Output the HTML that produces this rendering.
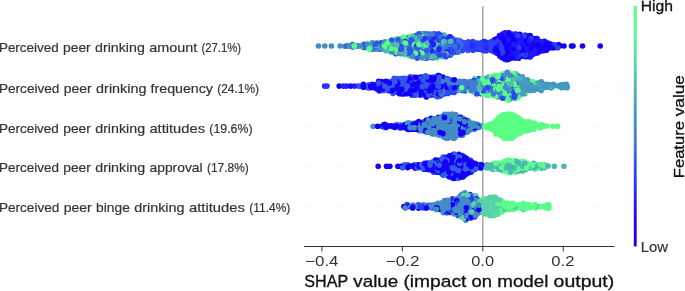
<!DOCTYPE html>
<html><head><meta charset="utf-8"><style>
html,body{margin:0;padding:0;background:#fff;width:685px;height:291px;overflow:hidden}
svg{display:block}
text{font-family:"Liberation Sans",sans-serif}
</style></head><body>
<svg width="685" height="291" viewBox="0 0 685 291">
<defs><linearGradient id="cb" x1="0" y1="0" x2="0" y2="1"><stop offset="0.000" stop-color="#5aff84"/><stop offset="0.140" stop-color="#58f596"/><stop offset="0.250" stop-color="#5ad2a7"/><stop offset="0.400" stop-color="#46a5bc"/><stop offset="0.500" stop-color="#438cc5"/><stop offset="0.600" stop-color="#3a6ede"/><stop offset="0.740" stop-color="#2837fa"/><stop offset="0.860" stop-color="#1e0aff"/><stop offset="1.000" stop-color="#1400f8"/></linearGradient></defs>
<g stroke="#cccccc" stroke-width="0.6" stroke-dasharray="0.6 3" fill="none"><line x1="304.0" x2="614.5" y1="46.05" y2="46.05"/><line x1="304.0" x2="614.5" y1="86.15" y2="86.15"/><line x1="304.0" x2="614.5" y1="126.20" y2="126.20"/><line x1="304.0" x2="614.5" y1="166.30" y2="166.30"/><line x1="304.0" x2="614.5" y1="206.40" y2="206.40"/></g>
<line x1="482.80" x2="482.80" y1="6.1" y2="246.5" stroke="#999999" stroke-width="1.3"/>
<g fill="none" stroke-width="5.6" stroke-linecap="round">
<path stroke="#1400f8" d="M511.4 56.5h0"/>
<path stroke="#5afd88" d="M540.4 206.6h0M508.6 162.0h0"/>
<path stroke="#59fb8a" d="M397.9 50.8h0"/>
<path stroke="#1400f8" d="M502.7 34.1h0"/>
<path stroke="#5aff84" d="M513.8 136.5h0M523.8 127.8h0"/>
<path stroke="#1400f8" d="M437.4 92.2h0M437.1 83.0h0"/>
<path stroke="#355ee6" d="M443.3 163.1h0"/>
<path stroke="#4fbab2" d="M487.0 80.0h0"/>
<path stroke="#1400f8" d="M525.1 44.7h0"/>
<path stroke="#2119fd" d="M534.8 47.8h0"/>
<path stroke="#2b3ff6" d="M451.6 200.5h0"/>
<path stroke="#1400f8" d="M404.6 166.4h0"/>
<path stroke="#59fb8a" d="M483.3 89.0h0"/>
<path stroke="#1400f8" d="M461.6 207.8h0"/>
<path stroke="#59fb8a" d="M508.2 93.4h0"/>
<path stroke="#438cc5" d="M448.3 124.9h0"/>
<path stroke="#1400f8" d="M455.2 167.8h0"/>
<path stroke="#59fb8a" d="M387.4 44.3h0"/>
<path stroke="#1400f8" d="M511.3 47.4h0"/>
<path stroke="#4eb7b4" d="M520.1 164.7h0"/>
<path stroke="#5aff84" d="M529.6 128.0h0"/>
<path stroke="#2b3ff6" d="M527.2 50.6h0"/>
<path stroke="#438cc5" d="M415.5 124.5h0"/>
<path stroke="#1400f8" d="M462.3 123.4h0"/>
<path stroke="#59fb8a" d="M492.1 84.5h0"/>
<path stroke="#2119fd" d="M520.0 39.9h0"/>
<path stroke="#2b3ff6" d="M479.8 48.9h0"/>
<path stroke="#2d47f2" d="M452.5 50.5h0"/>
<path stroke="#1400f8" d="M437.5 88.9h0"/>
<path stroke="#3e7dd2" d="M467.0 84.4h0M457.8 87.7h0"/>
<path stroke="#4fbab2" d="M488.3 77.1h0"/>
<path stroke="#4eb7b4" d="M523.1 170.7h0"/>
<path stroke="#438cc5" d="M391.0 126.4h0"/>
<path stroke="#1400f8" d="M431.7 83.4h0"/>
<path stroke="#438cc5" d="M431.9 133.8h0"/>
<path stroke="#3256ea" d="M405.0 50.6h0"/>
<path stroke="#1400f8" d="M467.4 213.9h0"/>
<path stroke="#438cc5" d="M478.8 127.4h0"/>
<path stroke="#1400f8" d="M447.7 138.0h0M467.9 160.4h0M423.5 122.0h0"/>
<path stroke="#4fbab2" d="M388.7 50.7h0"/>
<path stroke="#59fb8a" d="M509.9 86.3h0"/>
<path stroke="#5aff84" d="M498.8 129.4h0"/>
<path stroke="#59fb8a" d="M501.7 95.3h0"/>
<path stroke="#5aff84" d="M507.5 117.1h0"/>
<path stroke="#59fb8a" d="M480.3 84.6h0"/>
<path stroke="#438cc5" d="M463.8 203.6h0"/>
<path stroke="#5afd88" d="M548.8 205.0h0"/>
<path stroke="#438cc5" d="M384.4 127.4h0"/>
<path stroke="#1400f8" d="M546.7 49.0h0"/>
<path stroke="#59fb8a" d="M494.8 93.6h0"/>
<path stroke="#3e7dd2" d="M462.0 86.1h0"/>
<path stroke="#5afd88" d="M526.9 206.4h0"/>
<path stroke="#2d47f2" d="M438.1 41.5h0M438.3 51.9h0"/>
<path stroke="#4eb7b4" d="M510.8 165.0h0"/>
<path stroke="#2b3ff6" d="M475.4 211.2h0"/>
<path stroke="#59fb8a" d="M399.4 50.5h0"/>
<path stroke="#5aff84" d="M515.4 135.2h0"/>
<path stroke="#3256ea" d="M368.4 47.3h0"/>
<path stroke="#2119fd" d="M521.1 49.3h0"/>
<path stroke="#1400f8" d="M399.8 84.3h0"/>
<path stroke="#5afd88" d="M515.1 160.6h0"/>
<path stroke="#438cc5" d="M463.3 133.7h0"/>
<path stroke="#2320fc" d="M441.2 52.0h0"/>
<path stroke="#2b3ff6" d="M448.8 212.4h0"/>
<path stroke="#1400f8" d="M465.3 168.1h0M438.0 75.5h0M420.7 82.9h0M391.1 89.3h0M509.5 46.2h0"/>
<path stroke="#2d47f2" d="M456.0 84.4h0"/>
<path stroke="#1400f8" d="M421.0 87.5h0"/>
<path stroke="#5afd88" d="M501.4 212.3h0"/>
<path stroke="#438cc5" d="M429.6 205.1h0"/>
<path stroke="#1400f8" d="M417.3 81.8h0"/>
<path stroke="#4fbab2" d="M390.3 47.8h0"/>
<path stroke="#59fb8a" d="M363.2 47.8h0"/>
<path stroke="#5afd88" d="M520.5 161.9h0"/>
<path stroke="#5aff84" d="M502.3 132.1h0"/>
<path stroke="#5afd88" d="M520.3 169.3h0"/>
<path stroke="#2b3ff6" d="M505.9 45.8h0"/>
<path stroke="#5ad2a7" d="M490.4 204.8h0"/>
<path stroke="#3256ea" d="M420.6 84.5h0"/>
<path stroke="#438cc5" d="M453.2 210.9h0"/>
<path stroke="#355ee6" d="M449.1 173.8h0"/>
<path stroke="#2119fd" d="M527.1 43.3h0"/>
<path stroke="#5ad2a7" d="M484.5 206.3h0"/>
<path stroke="#3e7dd2" d="M447.5 85.9h0"/>
<path stroke="#438cc5" d="M476.5 210.6h0"/>
<path stroke="#1400f8" d="M420.4 90.9h0M437.4 172.2h0"/>
<path stroke="#3e7dd2" d="M486.1 84.5h0"/>
<path stroke="#3a6ede" d="M455.2 52.2h0"/>
<path stroke="#4eb7b4" d="M504.2 161.9h0"/>
<path stroke="#5aff84" d="M516.6 134.0h0"/>
<path stroke="#3256ea" d="M414.2 95.3h0"/>
<path stroke="#1400f8" d="M467.2 128.9h0"/>
<path stroke="#4eb7b4" d="M509.8 169.5h0"/>
<path stroke="#1400f8" d="M472.7 214.2h0"/>
<path stroke="#4fbab2" d="M414.4 35.8h0"/>
<path stroke="#2528fc" d="M492.5 45.9h0"/>
<path stroke="#1400f8" d="M455.1 155.9h0"/>
<path stroke="#5aff84" d="M504.2 118.9h0"/>
<path stroke="#355ee6" d="M424.5 166.3h0"/>
<path stroke="#59fb8a" d="M504.0 83.2h0"/>
<path stroke="#3256ea" d="M395.7 53.8h0"/>
<path stroke="#2119fd" d="M510.4 58.1h0"/>
<path stroke="#3256ea" d="M393.0 83.1h0"/>
<path stroke="#1400f8" d="M449.2 117.0h0"/>
<path stroke="#438cc5" d="M446.3 138.2h0"/>
<path stroke="#1400f8" d="M458.4 167.8h0M425.0 80.1h0"/>
<path stroke="#3256ea" d="M396.1 80.0h0"/>
<path stroke="#5afd88" d="M487.0 166.4h0"/>
<path stroke="#59fb8a" d="M516.8 96.9h0"/>
<path stroke="#2b3ff6" d="M444.3 205.0h0"/>
<path stroke="#4498c0" d="M520.7 89.3h0"/>
<path stroke="#438cc5" d="M371.4 44.6h0"/>
<path stroke="#4eb7b4" d="M546.3 166.0h0"/>
<path stroke="#1400f8" d="M462.8 173.9h0"/>
<path stroke="#3256ea" d="M411.1 44.7h0"/>
<path stroke="#2b3ff6" d="M478.4 47.8h0"/>
<path stroke="#1400f8" d="M409.9 84.7h0M444.8 173.5h0M429.2 78.6h0"/>
<path stroke="#2320fc" d="M436.7 43.1h0"/>
<path stroke="#3256ea" d="M358.0 86.0h0"/>
<path stroke="#3e7dd2" d="M436.3 57.8h0"/>
<path stroke="#5aff84" d="M531.8 124.8h0"/>
<path stroke="#1400f8" d="M397.6 92.1h0M507.9 40.3h0"/>
<path stroke="#5aff84" d="M497.5 130.7h0"/>
<path stroke="#2d47f2" d="M446.8 88.9h0"/>
<path stroke="#5ad2a7" d="M477.7 201.8h0"/>
<path stroke="#4eb7b4" d="M516.0 161.6h0"/>
<path stroke="#438cc5" d="M345.0 46.2h0"/>
<path stroke="#5aff84" d="M542.9 126.1h0"/>
<path stroke="#4eb7b4" d="M506.4 166.5h0"/>
<path stroke="#5aff84" d="M502.4 129.3h0"/>
<path stroke="#5afd88" d="M505.0 204.9h0"/>
<path stroke="#1400f8" d="M495.2 43.2h0"/>
<path stroke="#2b3ff6" d="M476.7 47.6h0M459.2 211.1h0"/>
<path stroke="#1400f8" d="M469.6 213.9h0"/>
<path stroke="#2320fc" d="M452.0 41.6h0"/>
<path stroke="#2b3ff6" d="M475.4 44.6h0"/>
<path stroke="#355ee6" d="M458.0 174.0h0"/>
<path stroke="#438cc5" d="M401.3 45.9h0"/>
<path stroke="#3256ea" d="M418.0 84.5h0"/>
<path stroke="#3e7dd2" d="M431.2 52.3h0"/>
<path stroke="#1400f8" d="M400.6 90.5h0M439.1 80.4h0M529.7 56.8h0"/>
<path stroke="#3256ea" d="M399.6 87.3h0"/>
<path stroke="#1400f8" d="M431.3 164.8h0"/>
<path stroke="#5aff84" d="M508.6 129.5h0"/>
<path stroke="#2d47f2" d="M479.3 87.7h0M443.1 35.3h0"/>
<path stroke="#59fb8a" d="M508.4 87.8h0"/>
<path stroke="#1400f8" d="M513.2 45.9h0"/>
<path stroke="#59fb8a" d="M419.9 40.1h0"/>
<path stroke="#355ee6" d="M433.7 172.2h0"/>
<path stroke="#2b3ff6" d="M473.5 197.2h0"/>
<path stroke="#5aff84" d="M499.3 121.7h0"/>
<path stroke="#3256ea" d="M434.3 93.4h0"/>
<path stroke="#1400f8" d="M422.2 93.7h0"/>
<path stroke="#5ad2a7" d="M484.8 213.7h0"/>
<path stroke="#438cc5" d="M418.3 56.7h0"/>
<path stroke="#2d47f2" d="M436.4 35.3h0"/>
<path stroke="#3256ea" d="M440.1 90.8h0"/>
<path stroke="#438cc5" d="M446.4 123.3h0"/>
<path stroke="#1400f8" d="M508.6 39.9h0"/>
<path stroke="#59fb8a" d="M504.8 95.4h0"/>
<path stroke="#5aff84" d="M516.7 120.3h0"/>
<path stroke="#1400f8" d="M405.8 166.3h0"/>
<path stroke="#2119fd" d="M512.7 44.3h0"/>
<path stroke="#2b3ff6" d="M524.9 49.0h0"/>
<path stroke="#4fbab2" d="M419.9 55.2h0"/>
<path stroke="#1400f8" d="M414.9 78.6h0"/>
<path stroke="#59fb8a" d="M508.4 74.0h0"/>
<path stroke="#5aff84" d="M501.7 115.5h0"/>
<path stroke="#1400f8" d="M537.7 40.0h0"/>
<path stroke="#5aff84" d="M496.1 126.0h0"/>
<path stroke="#1400f8" d="M553.8 45.9h0"/>
<path stroke="#438cc5" d="M451.7 133.5h0"/>
<path stroke="#1400f8" d="M432.6 170.7h0"/>
<path stroke="#4fbab2" d="M405.7 41.4h0"/>
<path stroke="#2d47f2" d="M439.9 42.8h0"/>
<path stroke="#1400f8" d="M474.8 166.2h0"/>
<path stroke="#59fb8a" d="M422.1 39.9h0"/>
<path stroke="#3256ea" d="M406.6 86.2h0"/>
<path stroke="#3e7dd2" d="M441.5 52.2h0"/>
<path stroke="#438cc5" d="M453.9 135.0h0"/>
<path stroke="#3256ea" d="M399.8 82.9h0"/>
<path stroke="#1400f8" d="M499.9 38.8h0M409.9 89.3h0M537.4 48.9h0"/>
<path stroke="#2d47f2" d="M510.2 83.3h0"/>
<path stroke="#59fb8a" d="M513.9 94.9h0"/>
<path stroke="#5afd88" d="M506.1 168.1h0"/>
<path stroke="#438cc5" d="M459.4 202.0h0"/>
<path stroke="#59fb8a" d="M473.0 81.4h0"/>
<path stroke="#5afd88" d="M512.0 169.1h0"/>
<path stroke="#59fb8a" d="M514.7 75.7h0"/>
<path stroke="#1400f8" d="M410.7 90.7h0"/>
<path stroke="#4eb7b4" d="M544.7 167.6h0"/>
<path stroke="#1400f8" d="M528.5 36.9h0"/>
<path stroke="#5afd88" d="M511.5 166.6h0"/>
<path stroke="#438cc5" d="M437.5 127.8h0"/>
<path stroke="#2119fd" d="M529.0 53.8h0"/>
<path stroke="#5ad2a7" d="M462.0 217.1h0"/>
<path stroke="#4498c0" d="M523.9 90.5h0"/>
<path stroke="#3256ea" d="M434.2 80.3h0M413.7 90.9h0"/>
<path stroke="#4fbab2" d="M504.2 74.1h0"/>
<path stroke="#2d47f2" d="M442.8 83.2h0"/>
<path stroke="#355ee6" d="M470.5 164.9h0"/>
<path stroke="#59fb8a" d="M482.6 81.6h0M499.0 87.6h0"/>
<path stroke="#5ad2a7" d="M460.9 200.3h0"/>
<path stroke="#3256ea" d="M388.5 44.5h0"/>
<path stroke="#438cc5" d="M467.7 208.2h0"/>
<path stroke="#4fbab2" d="M393.6 41.5h0"/>
<path stroke="#59fb8a" d="M527.3 81.3h0M477.6 80.2h0"/>
<path stroke="#5aff84" d="M506.7 125.9h0"/>
<path stroke="#438cc5" d="M440.3 203.6h0M467.4 203.3h0"/>
<path stroke="#1400f8" d="M453.6 154.2h0M432.8 90.4h0M463.6 158.8h0"/>
<path stroke="#355ee6" d="M436.3 166.4h0M441.7 160.6h0"/>
<path stroke="#2d47f2" d="M469.2 43.1h0"/>
<path stroke="#438cc5" d="M471.4 208.0h0"/>
<path stroke="#5ad2a7" d="M490.3 212.5h0"/>
<path stroke="#3256ea" d="M423.8 95.1h0"/>
<path stroke="#59fb8a" d="M498.3 86.3h0"/>
<path stroke="#438cc5" d="M446.8 127.9h0"/>
<path stroke="#5afd88" d="M537.3 167.8h0"/>
<path stroke="#4498c0" d="M549.9 84.7h0"/>
<path stroke="#1400f8" d="M464.4 175.4h0"/>
<path stroke="#2b3ff6" d="M479.6 44.7h0"/>
<path stroke="#1400f8" d="M394.0 80.0h0"/>
<path stroke="#2119fd" d="M518.4 48.9h0"/>
<path stroke="#2b3ff6" d="M460.7 195.8h0"/>
<path stroke="#5ad2a7" d="M475.0 213.8h0M491.4 197.3h0"/>
<path stroke="#3256ea" d="M364.5 47.5h0"/>
<path stroke="#5aff84" d="M501.6 127.6h0"/>
<path stroke="#3256ea" d="M365.0 86.3h0"/>
<path stroke="#1400f8" d="M529.8 49.3h0"/>
<path stroke="#438cc5" d="M425.6 208.1h0"/>
<path stroke="#1400f8" d="M396.2 87.8h0"/>
<path stroke="#5ad2a7" d="M497.5 214.2h0"/>
<path stroke="#1400f8" d="M495.0 41.3h0"/>
<path stroke="#2d47f2" d="M466.8 44.8h0"/>
<path stroke="#1400f8" d="M467.5 209.1h0"/>
<path stroke="#438cc5" d="M464.7 130.6h0"/>
<path stroke="#1400f8" d="M403.9 206.5h0M404.2 124.8h0"/>
<path stroke="#59fb8a" d="M439.3 56.5h0"/>
<path stroke="#2b3ff6" d="M490.1 44.7h0"/>
<path stroke="#438cc5" d="M466.5 210.6h0"/>
<path stroke="#1400f8" d="M380.4 89.4h0"/>
<path stroke="#2119fd" d="M508.5 50.4h0"/>
<path stroke="#5aff84" d="M514.5 130.4h0"/>
<path stroke="#3e7dd2" d="M494.7 84.8h0"/>
<path stroke="#438cc5" d="M428.3 57.8h0"/>
<path stroke="#1400f8" d="M454.6 161.5h0"/>
<path stroke="#2320fc" d="M438.6 38.4h0"/>
<path stroke="#2d47f2" d="M507.3 93.5h0"/>
<path stroke="#4eb7b4" d="M502.9 166.0h0"/>
<path stroke="#4fbab2" d="M402.7 39.9h0"/>
<path stroke="#3e7dd2" d="M430.7 47.3h0"/>
<path stroke="#438cc5" d="M474.1 129.3h0"/>
<path stroke="#5ad2a7" d="M480.6 210.9h0"/>
<path stroke="#5aff84" d="M500.3 123.0h0"/>
<path stroke="#59fb8a" d="M490.1 78.5h0"/>
<path stroke="#5afd88" d="M510.6 163.3h0"/>
<path stroke="#2b3ff6" d="M499.6 49.3h0"/>
<path stroke="#1400f8" d="M468.3 172.3h0M402.8 86.1h0"/>
<path stroke="#2b3ff6" d="M452.5 198.9h0"/>
<path stroke="#438cc5" d="M479.7 206.6h0"/>
<path stroke="#3256ea" d="M405.4 92.3h0"/>
<path stroke="#438cc5" d="M420.2 123.3h0"/>
<path stroke="#1400f8" d="M511.4 42.9h0"/>
<path stroke="#59fb8a" d="M404.8 55.0h0"/>
<path stroke="#5afd88" d="M537.4 165.1h0"/>
<path stroke="#59fb8a" d="M491.0 81.4h0"/>
<path stroke="#1400f8" d="M430.5 87.5h0"/>
<path stroke="#4fbab2" d="M485.5 86.0h0"/>
<path stroke="#438cc5" d="M427.6 51.8h0"/>
<path stroke="#3256ea" d="M425.0 90.7h0"/>
<path stroke="#1400f8" d="M410.3 125.9h0M422.2 82.9h0"/>
<path stroke="#3e7dd2" d="M444.9 81.3h0"/>
<path stroke="#2d47f2" d="M441.9 45.8h0"/>
<path stroke="#3e7dd2" d="M458.3 90.5h0"/>
<path stroke="#355ee6" d="M462.5 157.3h0"/>
<path stroke="#3256ea" d="M400.9 53.6h0"/>
<path stroke="#59fb8a" d="M367.5 43.3h0"/>
<path stroke="#3e7dd2" d="M435.2 42.9h0"/>
<path stroke="#2119fd" d="M525.0 53.6h0"/>
<path stroke="#438cc5" d="M442.7 117.2h0"/>
<path stroke="#5afd88" d="M503.9 203.1h0"/>
<path stroke="#1400f8" d="M454.9 178.3h0M525.9 47.6h0M409.4 125.0h0M379.1 90.8h0M458.4 215.4h0"/>
<path stroke="#2d47f2" d="M451.7 86.0h0"/>
<path stroke="#1400f8" d="M433.2 164.6h0"/>
<path stroke="#5aff84" d="M531.4 129.3h0"/>
<path stroke="#262ffb" d="M429.1 50.3h0"/>
<path stroke="#438cc5" d="M464.6 204.9h0"/>
<path stroke="#5ad2a7" d="M499.1 206.3h0"/>
<path stroke="#3256ea" d="M422.2 33.8h0"/>
<path stroke="#1400f8" d="M375.6 86.4h0M412.6 85.9h0"/>
<path stroke="#5afd88" d="M501.5 209.3h0"/>
<path stroke="#4eb7b4" d="M542.0 166.3h0"/>
<path stroke="#3256ea" d="M410.6 54.8h0"/>
<path stroke="#438cc5" d="M463.9 118.9h0"/>
<path stroke="#5afd88" d="M494.5 163.3h0"/>
<path stroke="#438cc5" d="M465.1 218.5h0"/>
<path stroke="#5afd88" d="M519.1 166.1h0"/>
<path stroke="#355ee6" d="M436.7 160.4h0"/>
<path stroke="#1400f8" d="M537.0 48.9h0"/>
<path stroke="#3256ea" d="M373.1 46.1h0"/>
<path stroke="#2528fc" d="M481.9 46.3h0"/>
<path stroke="#438cc5" d="M444.4 124.9h0"/>
<path stroke="#3a6ede" d="M454.1 50.7h0"/>
<path stroke="#1400f8" d="M518.4 44.7h0"/>
<path stroke="#5aff84" d="M512.7 115.7h0"/>
<path stroke="#1400f8" d="M541.8 50.7h0"/>
<path stroke="#59fb8a" d="M383.7 49.0h0M491.4 83.2h0"/>
<path stroke="#5aff84" d="M514.9 135.0h0"/>
<path stroke="#3256ea" d="M414.9 87.8h0M417.3 89.4h0"/>
<path stroke="#5ad2a7" d="M493.4 209.2h0"/>
<path stroke="#438cc5" d="M466.0 130.9h0"/>
<path stroke="#2119fd" d="M504.9 47.3h0"/>
<path stroke="#262ffb" d="M420.0 44.3h0"/>
<path stroke="#2119fd" d="M508.2 45.8h0"/>
<path stroke="#438cc5" d="M477.0 124.4h0"/>
<path stroke="#1400f8" d="M507.8 36.8h0"/>
<path stroke="#4eb7b4" d="M506.6 166.1h0"/>
<path stroke="#1400f8" d="M474.7 216.8h0M507.2 35.5h0"/>
<path stroke="#59fb8a" d="M406.3 47.5h0"/>
<path stroke="#1400f8" d="M497.0 53.3h0M396.2 89.1h0"/>
<path stroke="#4498c0" d="M542.0 83.2h0"/>
<path stroke="#3256ea" d="M399.8 51.8h0"/>
<path stroke="#438cc5" d="M507.5 89.3h0"/>
<path stroke="#1400f8" d="M524.3 41.3h0"/>
<path stroke="#59fb8a" d="M424.5 46.3h0"/>
<path stroke="#2d47f2" d="M468.3 44.5h0"/>
<path stroke="#2119fd" d="M498.0 47.8h0"/>
<path stroke="#438cc5" d="M474.4 209.3h0"/>
<path stroke="#2d47f2" d="M437.7 44.6h0"/>
<path stroke="#438cc5" d="M436.5 127.5h0"/>
<path stroke="#2d47f2" d="M438.6 33.9h0"/>
<path stroke="#1400f8" d="M544.3 41.3h0"/>
<path stroke="#438cc5" d="M435.2 124.5h0"/>
<path stroke="#1400f8" d="M446.4 166.2h0"/>
<path stroke="#3256ea" d="M439.4 84.7h0"/>
<path stroke="#1400f8" d="M428.1 164.6h0"/>
<path stroke="#438cc5" d="M422.7 44.7h0M465.7 126.3h0M459.2 127.5h0"/>
<path stroke="#262ffb" d="M403.0 52.3h0"/>
<path stroke="#2b3ff6" d="M487.2 47.6h0"/>
<path stroke="#1400f8" d="M423.1 166.5h0"/>
<path stroke="#59fb8a" d="M368.2 46.1h0"/>
<path stroke="#438cc5" d="M443.6 120.2h0"/>
<path stroke="#5aff84" d="M499.8 117.5h0"/>
<path stroke="#4498c0" d="M530.5 86.2h0"/>
<path stroke="#355ee6" d="M443.2 157.0h0"/>
<path stroke="#59fb8a" d="M492.6 81.8h0"/>
<path stroke="#2528fc" d="M487.4 49.2h0"/>
<path stroke="#3256ea" d="M426.2 40.0h0"/>
<path stroke="#1400f8" d="M520.6 35.7h0M534.0 38.6h0"/>
<path stroke="#3a6ede" d="M454.6 41.5h0"/>
<path stroke="#438cc5" d="M444.1 124.8h0"/>
<path stroke="#3256ea" d="M439.9 96.3h0"/>
<path stroke="#59fb8a" d="M486.8 95.3h0"/>
<path stroke="#4fbab2" d="M391.3 43.1h0"/>
<path stroke="#1400f8" d="M432.9 77.2h0"/>
<path stroke="#59fb8a" d="M406.3 53.6h0"/>
<path stroke="#438cc5" d="M468.9 129.2h0"/>
<path stroke="#4498c0" d="M525.7 86.0h0"/>
<path stroke="#438cc5" d="M453.4 132.1h0"/>
<path stroke="#1400f8" d="M459.2 198.9h0"/>
<path stroke="#438cc5" d="M429.3 131.0h0"/>
<path stroke="#5afd88" d="M516.6 206.5h0"/>
<path stroke="#355ee6" d="M470.3 160.0h0"/>
<path stroke="#1400f8" d="M457.7 127.8h0"/>
<path stroke="#438cc5" d="M443.7 135.2h0"/>
<path stroke="#5aff84" d="M529.0 130.5h0"/>
<path stroke="#2119fd" d="M534.5 43.3h0"/>
<path stroke="#438cc5" d="M445.3 205.1h0"/>
<path stroke="#59fb8a" d="M494.7 78.5h0"/>
<path stroke="#5ad2a7" d="M485.9 202.2h0"/>
<path stroke="#438cc5" d="M446.4 136.4h0"/>
<path stroke="#1400f8" d="M450.0 155.8h0"/>
<path stroke="#2d47f2" d="M493.9 87.6h0"/>
<path stroke="#1400f8" d="M514.6 38.6h0"/>
<path stroke="#438cc5" d="M412.4 41.5h0"/>
<path stroke="#1400f8" d="M385.2 89.0h0"/>
<path stroke="#4fbab2" d="M404.9 47.7h0"/>
<path stroke="#438cc5" d="M472.2 195.9h0M455.3 117.3h0"/>
<path stroke="#4eb7b4" d="M541.6 168.1h0"/>
<path stroke="#1400f8" d="M447.5 203.7h0"/>
<path stroke="#3e7dd2" d="M461.3 84.5h0"/>
<path stroke="#5aff84" d="M502.5 120.3h0"/>
<path stroke="#59fb8a" d="M508.3 72.6h0"/>
<path stroke="#4498c0" d="M531.1 87.4h0"/>
<path stroke="#3256ea" d="M373.7 44.5h0"/>
<path stroke="#1400f8" d="M449.8 175.0h0"/>
<path stroke="#5aff84" d="M504.3 138.4h0"/>
<path stroke="#2b3ff6" d="M451.1 203.2h0"/>
<path stroke="#1400f8" d="M397.0 81.9h0"/>
<path stroke="#438cc5" d="M462.9 120.3h0"/>
<path stroke="#3256ea" d="M426.7 41.8h0"/>
<path stroke="#438cc5" d="M453.3 138.3h0"/>
<path stroke="#1400f8" d="M472.6 163.2h0"/>
<path stroke="#355ee6" d="M456.4 177.0h0"/>
<path stroke="#1400f8" d="M477.7 164.6h0"/>
<path stroke="#5ad2a7" d="M483.5 198.9h0"/>
<path stroke="#1400f8" d="M464.3 173.7h0M424.3 93.3h0"/>
<path stroke="#5ad2a7" d="M461.9 206.2h0"/>
<path stroke="#49abb9" d="M538.4 88.9h0"/>
<path stroke="#438cc5" d="M436.3 129.1h0"/>
<path stroke="#2d47f2" d="M509.2 77.3h0"/>
<path stroke="#438cc5" d="M444.3 133.5h0"/>
<path stroke="#2119fd" d="M530.4 56.7h0"/>
<path stroke="#5afd88" d="M535.7 207.9h0"/>
<path stroke="#1400f8" d="M339.2 86.1h0"/>
<path stroke="#2528fc" d="M470.3 43.3h0"/>
<path stroke="#1400f8" d="M430.8 86.3h0"/>
<path stroke="#5afd88" d="M508.0 203.4h0"/>
<path stroke="#59fb8a" d="M512.7 83.0h0"/>
<path stroke="#4eb7b4" d="M513.2 170.7h0"/>
<path stroke="#1400f8" d="M431.7 95.0h0"/>
<path stroke="#3256ea" d="M418.0 90.8h0"/>
<path stroke="#438cc5" d="M449.7 203.3h0M448.4 114.3h0M425.4 121.7h0"/>
<path stroke="#1400f8" d="M521.0 56.3h0M453.3 163.4h0M571.5 46.0h0"/>
<path stroke="#2d47f2" d="M432.7 50.8h0"/>
<path stroke="#438cc5" d="M452.2 121.9h0"/>
<path stroke="#2733fa" d="M324.6 86.1h0"/>
<path stroke="#1400f8" d="M453.8 82.9h0"/>
<path stroke="#438cc5" d="M429.6 123.4h0"/>
<path stroke="#5afd88" d="M517.1 167.5h0"/>
<path stroke="#438cc5" d="M445.6 135.4h0"/>
<path stroke="#1400f8" d="M501.9 52.1h0"/>
<path stroke="#438cc5" d="M340.1 46.0h0"/>
<path stroke="#4eb7b4" d="M507.2 170.9h0"/>
<path stroke="#2119fd" d="M494.6 51.9h0"/>
<path stroke="#4eb7b4" d="M495.8 166.4h0"/>
<path stroke="#2d47f2" d="M517.7 94.9h0"/>
<path stroke="#5aff84" d="M512.1 129.4h0"/>
<path stroke="#59fb8a" d="M518.4 75.5h0"/>
<path stroke="#1400f8" d="M533.4 41.5h0"/>
<path stroke="#2d47f2" d="M517.3 75.8h0"/>
<path stroke="#59fb8a" d="M434.9 37.1h0M517.5 92.3h0"/>
<path stroke="#2119fd" d="M551.9 44.6h0"/>
<path stroke="#5ad2a7" d="M490.2 206.6h0"/>
<path stroke="#1400f8" d="M543.0 44.5h0"/>
<path stroke="#355ee6" d="M449.0 160.1h0"/>
<path stroke="#59fb8a" d="M543.8 86.0h0"/>
<path stroke="#4fbab2" d="M498.1 81.8h0"/>
<path stroke="#438cc5" d="M471.1 127.5h0"/>
<path stroke="#4498c0" d="M521.8 92.0h0"/>
<path stroke="#1400f8" d="M382.3 87.5h0M528.7 50.4h0"/>
<path stroke="#5afd88" d="M504.1 208.2h0"/>
<path stroke="#355ee6" d="M442.9 161.7h0"/>
<path stroke="#5aff84" d="M509.2 138.5h0"/>
<path stroke="#1400f8" d="M426.8 86.3h0"/>
<path stroke="#59fb8a" d="M530.7 90.4h0"/>
<path stroke="#438cc5" d="M460.4 209.3h0"/>
<path stroke="#2b3ff6" d="M537.0 53.3h0"/>
<path stroke="#438cc5" d="M469.2 215.5h0"/>
<path stroke="#2119fd" d="M536.4 42.9h0"/>
<path stroke="#2d47f2" d="M450.9 84.6h0"/>
<path stroke="#4fbab2" d="M473.9 83.0h0"/>
<path stroke="#438cc5" d="M462.5 118.7h0"/>
<path stroke="#59fb8a" d="M489.0 86.1h0"/>
<path stroke="#4fbab2" d="M409.0 38.8h0"/>
<path stroke="#5ad2a7" d="M525.3 204.8h0"/>
<path stroke="#2d47f2" d="M448.4 37.2h0"/>
<path stroke="#1400f8" d="M529.2 43.0h0"/>
<path stroke="#2119fd" d="M522.8 37.3h0"/>
<path stroke="#2d47f2" d="M451.6 90.4h0"/>
<path stroke="#438cc5" d="M444.6 200.5h0"/>
<path stroke="#2b3ff6" d="M484.7 43.0h0"/>
<path stroke="#5afd88" d="M494.8 203.7h0"/>
<path stroke="#5ad2a7" d="M491.5 209.3h0"/>
<path stroke="#4498c0" d="M520.7 80.0h0"/>
<path stroke="#1400f8" d="M378.2 166.3h0"/>
<path stroke="#59fb8a" d="M411.1 41.3h0"/>
<path stroke="#2119fd" d="M538.7 51.9h0"/>
<path stroke="#2b3ff6" d="M406.6 206.4h0"/>
<path stroke="#1400f8" d="M419.7 80.3h0"/>
<path stroke="#2d47f2" d="M431.3 40.0h0"/>
<path stroke="#1400f8" d="M454.4 168.0h0M476.4 167.8h0"/>
<path stroke="#2119fd" d="M531.9 39.9h0"/>
<path stroke="#2b3ff6" d="M422.8 207.8h0M452.0 202.2h0"/>
<path stroke="#2d47f2" d="M452.0 38.4h0"/>
<path stroke="#438cc5" d="M459.9 135.1h0"/>
<path stroke="#59fb8a" d="M440.9 53.7h0"/>
<path stroke="#3256ea" d="M410.9 49.1h0"/>
<path stroke="#438cc5" d="M423.6 43.1h0M457.6 120.4h0"/>
<path stroke="#2119fd" d="M543.5 50.7h0"/>
<path stroke="#5ad2a7" d="M494.1 210.9h0"/>
<path stroke="#355ee6" d="M460.1 174.1h0"/>
<path stroke="#3e7dd2" d="M474.8 84.8h0"/>
<path stroke="#59fb8a" d="M509.4 99.7h0"/>
<path stroke="#3256ea" d="M397.9 80.1h0"/>
<path stroke="#1400f8" d="M408.9 129.4h0"/>
<path stroke="#4fbab2" d="M509.5 81.8h0"/>
<path stroke="#1400f8" d="M445.9 130.7h0"/>
<path stroke="#2119fd" d="M511.1 35.6h0"/>
<path stroke="#355ee6" d="M428.6 167.7h0"/>
<path stroke="#5aff84" d="M511.9 123.0h0"/>
<path stroke="#4fbab2" d="M475.9 93.6h0"/>
<path stroke="#1400f8" d="M454.1 201.9h0"/>
<path stroke="#3256ea" d="M425.2 92.3h0"/>
<path stroke="#1400f8" d="M519.7 34.2h0M547.9 43.0h0"/>
<path stroke="#2b3ff6" d="M467.8 216.7h0"/>
<path stroke="#5afd88" d="M520.1 207.7h0"/>
<path stroke="#3256ea" d="M424.6 47.6h0"/>
<path stroke="#5aff84" d="M507.2 124.8h0"/>
<path stroke="#49abb9" d="M523.0 81.7h0"/>
<path stroke="#1400f8" d="M408.7 83.0h0"/>
<path stroke="#4fbab2" d="M490.1 82.9h0"/>
<path stroke="#262ffb" d="M416.0 56.3h0"/>
<path stroke="#1400f8" d="M531.9 55.0h0"/>
<path stroke="#5ad2a7" d="M484.8 208.1h0"/>
<path stroke="#1400f8" d="M399.2 90.5h0"/>
<path stroke="#5ad2a7" d="M465.4 212.6h0"/>
<path stroke="#5aff84" d="M488.8 127.6h0"/>
<path stroke="#1400f8" d="M462.6 127.9h0"/>
<path stroke="#5ad2a7" d="M483.4 203.3h0M482.7 209.6h0"/>
<path stroke="#5afd88" d="M548.8 208.2h0"/>
<path stroke="#59fb8a" d="M470.6 87.4h0"/>
<path stroke="#1400f8" d="M431.0 118.4h0M513.2 49.1h0"/>
<path stroke="#438cc5" d="M452.2 114.0h0M397.4 47.4h0"/>
<path stroke="#2b3ff6" d="M476.8 45.8h0M482.9 50.4h0"/>
<path stroke="#3256ea" d="M391.5 81.5h0"/>
<path stroke="#4498c0" d="M522.4 76.9h0"/>
<path stroke="#3e7dd2" d="M445.8 47.5h0"/>
<path stroke="#1400f8" d="M425.4 129.4h0"/>
<path stroke="#438cc5" d="M422.9 130.9h0"/>
<path stroke="#1400f8" d="M411.6 126.1h0"/>
<path stroke="#5afd88" d="M519.1 205.1h0"/>
<path stroke="#3256ea" d="M405.5 84.6h0"/>
<path stroke="#5aff84" d="M486.8 128.0h0M518.8 123.3h0"/>
<path stroke="#2528fc" d="M479.3 46.2h0"/>
<path stroke="#438cc5" d="M440.9 203.3h0"/>
<path stroke="#1400f8" d="M448.6 123.0h0"/>
<path stroke="#2d47f2" d="M459.0 84.4h0"/>
<path stroke="#1400f8" d="M460.8 169.1h0M445.6 87.5h0"/>
<path stroke="#3e7dd2" d="M435.1 38.8h0"/>
<path stroke="#5aff84" d="M495.9 133.9h0"/>
<path stroke="#438cc5" d="M432.0 205.2h0"/>
<path stroke="#2b3ff6" d="M549.3 45.9h0"/>
<path stroke="#1400f8" d="M524.5 38.7h0M510.4 48.8h0M406.2 126.3h0M452.3 166.2h0M448.3 165.0h0"/>
<path stroke="#3256ea" d="M422.1 76.9h0"/>
<path stroke="#3a6ede" d="M462.8 49.0h0"/>
<path stroke="#3256ea" d="M393.0 93.5h0"/>
<path stroke="#2d47f2" d="M466.9 45.9h0"/>
<path stroke="#3e7dd2" d="M493.4 77.0h0"/>
<path stroke="#1400f8" d="M506.4 34.0h0"/>
<path stroke="#438cc5" d="M458.1 208.1h0"/>
<path stroke="#5ad2a7" d="M466.3 214.0h0"/>
<path stroke="#49abb9" d="M522.9 78.8h0"/>
<path stroke="#438cc5" d="M432.1 124.7h0"/>
<path stroke="#1400f8" d="M378.1 87.6h0"/>
<path stroke="#4498c0" d="M524.8 93.8h0"/>
<path stroke="#4fbab2" d="M418.6 35.8h0"/>
<path stroke="#3256ea" d="M414.9 81.4h0"/>
<path stroke="#5afd88" d="M492.6 165.1h0"/>
<path stroke="#4eb7b4" d="M525.9 169.5h0"/>
<path stroke="#3e7dd2" d="M448.8 44.5h0"/>
<path stroke="#3256ea" d="M407.2 81.5h0"/>
<path stroke="#1400f8" d="M419.0 93.9h0"/>
<path stroke="#2320fc" d="M449.0 53.6h0"/>
<path stroke="#4eb7b4" d="M518.6 167.6h0"/>
<path stroke="#1400f8" d="M405.0 125.9h0"/>
<path stroke="#5afd88" d="M498.2 166.2h0"/>
<path stroke="#3256ea" d="M402.3 85.9h0"/>
<path stroke="#5aff84" d="M521.2 130.9h0"/>
<path stroke="#1400f8" d="M401.0 93.6h0"/>
<path stroke="#2320fc" d="M445.4 51.8h0"/>
<path stroke="#2d47f2" d="M447.8 83.1h0"/>
<path stroke="#1400f8" d="M518.6 58.3h0M471.2 212.3h0M444.3 93.8h0"/>
<path stroke="#2528fc" d="M491.7 41.5h0"/>
<path stroke="#4fbab2" d="M496.2 93.4h0M491.1 88.8h0"/>
<path stroke="#438cc5" d="M412.9 205.1h0M351.1 46.1h0"/>
<path stroke="#1400f8" d="M466.6 158.6h0"/>
<path stroke="#4fbab2" d="M516.2 83.0h0"/>
<path stroke="#59fb8a" d="M481.9 83.0h0"/>
<path stroke="#3a6ede" d="M457.1 47.4h0"/>
<path stroke="#3e7dd2" d="M467.8 89.0h0M476.7 90.7h0"/>
<path stroke="#1400f8" d="M439.8 86.0h0"/>
<path stroke="#3256ea" d="M359.5 86.2h0"/>
<path stroke="#5aff84" d="M507.8 118.6h0"/>
<path stroke="#59fb8a" d="M437.2 45.8h0"/>
<path stroke="#5aff84" d="M524.5 129.2h0"/>
<path stroke="#3256ea" d="M379.8 49.3h0"/>
<path stroke="#5afd88" d="M501.5 163.5h0"/>
<path stroke="#438cc5" d="M400.5 47.6h0"/>
<path stroke="#1400f8" d="M434.6 162.1h0"/>
<path stroke="#3256ea" d="M381.2 47.6h0"/>
<path stroke="#59fb8a" d="M510.7 93.6h0"/>
<path stroke="#1400f8" d="M548.3 46.1h0"/>
<path stroke="#4fbab2" d="M425.4 43.2h0"/>
<path stroke="#3e7dd2" d="M466.4 87.4h0"/>
<path stroke="#5ad2a7" d="M485.2 202.1h0"/>
<path stroke="#1400f8" d="M461.4 166.5h0"/>
<path stroke="#438cc5" d="M452.0 129.4h0"/>
<path stroke="#1400f8" d="M426.4 96.9h0M479.9 212.2h0M445.7 169.2h0M454.8 165.0h0"/>
<path stroke="#438cc5" d="M399.6 126.4h0"/>
<path stroke="#1400f8" d="M460.3 167.7h0M508.5 56.8h0M448.0 169.2h0M454.3 200.3h0"/>
<path stroke="#5aff84" d="M508.9 120.3h0"/>
<path stroke="#438cc5" d="M452.3 207.8h0"/>
<path stroke="#1400f8" d="M454.1 128.0h0"/>
<path stroke="#5aff84" d="M540.2 128.0h0"/>
<path stroke="#3256ea" d="M424.1 48.8h0M427.8 84.7h0"/>
<path stroke="#59fb8a" d="M405.7 52.0h0"/>
<path stroke="#1400f8" d="M401.4 82.8h0"/>
<path stroke="#2119fd" d="M501.8 38.4h0"/>
<path stroke="#3e7dd2" d="M453.5 89.2h0"/>
<path stroke="#4eb7b4" d="M535.8 166.1h0"/>
<path stroke="#59fb8a" d="M480.4 90.6h0"/>
<path stroke="#1400f8" d="M452.2 81.6h0"/>
<path stroke="#5aff84" d="M507.1 120.0h0"/>
<path stroke="#1400f8" d="M423.9 127.9h0"/>
<path stroke="#2d47f2" d="M450.0 52.2h0M450.3 55.1h0"/>
<path stroke="#59fb8a" d="M512.2 87.5h0"/>
<path stroke="#4fbab2" d="M417.0 52.2h0"/>
<path stroke="#49abb9" d="M553.2 85.8h0"/>
<path stroke="#2d47f2" d="M444.9 84.4h0"/>
<path stroke="#3e7dd2" d="M487.6 90.5h0"/>
<path stroke="#438cc5" d="M463.7 129.0h0"/>
<path stroke="#3256ea" d="M435.1 95.4h0"/>
<path stroke="#5aff84" d="M497.1 132.3h0"/>
<path stroke="#5ad2a7" d="M494.9 197.1h0"/>
<path stroke="#5aff84" d="M503.6 117.1h0"/>
<path stroke="#438cc5" d="M421.6 123.4h0"/>
<path stroke="#4fbab2" d="M508.9 91.9h0"/>
<path stroke="#59fb8a" d="M514.0 77.4h0"/>
<path stroke="#1400f8" d="M530.5 45.9h0"/>
<path stroke="#5aff84" d="M502.3 117.4h0"/>
<path stroke="#1400f8" d="M438.2 172.1h0M467.9 195.6h0M424.2 169.3h0M464.7 160.5h0M369.9 87.7h0M473.1 209.6h0"/>
<path stroke="#5aff84" d="M511.8 135.5h0"/>
<path stroke="#1400f8" d="M412.3 129.3h0"/>
<path stroke="#5aff84" d="M509.2 133.8h0"/>
<path stroke="#5ad2a7" d="M492.7 208.2h0"/>
<path stroke="#5aff84" d="M513.9 117.1h0"/>
<path stroke="#1400f8" d="M405.2 127.8h0M410.3 81.8h0"/>
<path stroke="#4eb7b4" d="M501.8 169.5h0"/>
<path stroke="#1400f8" d="M416.9 92.1h0M418.7 121.5h0"/>
<path stroke="#438cc5" d="M517.9 77.1h0"/>
<path stroke="#1400f8" d="M400.6 84.9h0"/>
<path stroke="#5ad2a7" d="M490.7 198.9h0"/>
<path stroke="#3256ea" d="M363.8 44.3h0"/>
<path stroke="#1400f8" d="M523.0 55.0h0"/>
<path stroke="#355ee6" d="M456.7 166.1h0"/>
<path stroke="#3a6ede" d="M465.2 47.7h0"/>
<path stroke="#5afd88" d="M510.3 206.2h0"/>
<path stroke="#59fb8a" d="M502.2 81.5h0"/>
<path stroke="#1400f8" d="M470.3 170.9h0"/>
<path stroke="#2d47f2" d="M432.9 40.0h0"/>
<path stroke="#5afd88" d="M515.2 172.3h0"/>
<path stroke="#59fb8a" d="M376.2 42.8h0"/>
<path stroke="#1400f8" d="M405.2 83.1h0M446.7 132.1h0M406.8 80.1h0"/>
<path stroke="#5afd88" d="M530.5 167.9h0"/>
<path stroke="#1400f8" d="M396.4 124.7h0"/>
<path stroke="#2320fc" d="M449.7 50.5h0"/>
<path stroke="#5ad2a7" d="M467.7 212.4h0"/>
<path stroke="#1400f8" d="M441.7 206.5h0"/>
<path stroke="#5ad2a7" d="M458.9 200.2h0"/>
<path stroke="#1400f8" d="M564.0 46.0h0M516.8 37.0h0"/>
<path stroke="#59fb8a" d="M494.3 80.1h0M437.1 58.1h0"/>
<path stroke="#2b3ff6" d="M479.0 49.2h0"/>
<path stroke="#5aff84" d="M535.0 127.4h0"/>
<path stroke="#1400f8" d="M524.6 50.4h0"/>
<path stroke="#438cc5" d="M461.1 212.3h0"/>
<path stroke="#1400f8" d="M418.5 208.1h0"/>
<path stroke="#3256ea" d="M415.9 41.8h0"/>
<path stroke="#1400f8" d="M499.6 39.9h0"/>
<path stroke="#59fb8a" d="M410.3 56.4h0"/>
<path stroke="#5ad2a7" d="M494.1 212.6h0"/>
<path stroke="#1400f8" d="M441.8 167.7h0"/>
<path stroke="#59fb8a" d="M496.4 84.4h0"/>
<path stroke="#3e7dd2" d="M447.6 47.7h0"/>
<path stroke="#1400f8" d="M526.1 51.9h0"/>
<path stroke="#5aff84" d="M513.3 122.0h0M498.0 118.4h0"/>
<path stroke="#1400f8" d="M435.6 169.5h0"/>
<path stroke="#2d47f2" d="M429.7 38.7h0"/>
<path stroke="#59fb8a" d="M492.4 90.7h0"/>
<path stroke="#1400f8" d="M429.3 77.4h0"/>
<path stroke="#59fb8a" d="M515.0 88.9h0"/>
<path stroke="#262ffb" d="M420.9 38.7h0"/>
<path stroke="#3e7dd2" d="M475.0 87.4h0"/>
<path stroke="#4fbab2" d="M391.1 52.1h0"/>
<path stroke="#3256ea" d="M412.6 78.8h0"/>
<path stroke="#1400f8" d="M536.9 38.6h0M536.8 46.3h0"/>
<path stroke="#2d47f2" d="M446.3 84.7h0"/>
<path stroke="#49abb9" d="M523.5 87.6h0"/>
<path stroke="#1400f8" d="M386.5 166.3h0M417.0 166.4h0"/>
<path stroke="#438cc5" d="M459.4 120.2h0"/>
<path stroke="#1400f8" d="M438.8 95.0h0"/>
<path stroke="#438cc5" d="M442.4 209.5h0"/>
<path stroke="#4fbab2" d="M423.0 38.8h0"/>
<path stroke="#5aff84" d="M497.3 129.2h0"/>
<path stroke="#59fb8a" d="M509.8 80.0h0"/>
<path stroke="#3256ea" d="M403.7 90.7h0"/>
<path stroke="#2528fc" d="M470.1 45.9h0"/>
<path stroke="#1400f8" d="M433.4 163.3h0"/>
<path stroke="#49abb9" d="M520.9 82.9h0"/>
<path stroke="#3e7dd2" d="M441.2 80.1h0M487.9 88.9h0"/>
<path stroke="#2b3ff6" d="M503.5 41.7h0"/>
<path stroke="#2119fd" d="M529.7 46.2h0"/>
<path stroke="#3e7dd2" d="M477.6 83.1h0"/>
<path stroke="#1400f8" d="M393.9 84.7h0"/>
<path stroke="#4eb7b4" d="M492.3 167.5h0"/>
<path stroke="#3e7dd2" d="M452.3 46.0h0"/>
<path stroke="#5ad2a7" d="M470.2 198.8h0"/>
<path stroke="#438cc5" d="M468.3 199.0h0"/>
<path stroke="#1400f8" d="M386.9 86.1h0"/>
<path stroke="#2b3ff6" d="M528.1 47.5h0"/>
<path stroke="#3256ea" d="M429.0 34.0h0"/>
<path stroke="#1400f8" d="M446.1 157.4h0"/>
<path stroke="#3e7dd2" d="M469.1 87.8h0"/>
<path stroke="#5aff84" d="M522.0 127.5h0"/>
<path stroke="#59fb8a" d="M420.8 34.1h0"/>
<path stroke="#1400f8" d="M527.4 46.2h0M457.0 160.5h0"/>
<path stroke="#3e7dd2" d="M463.4 83.0h0"/>
<path stroke="#438cc5" d="M462.0 194.2h0"/>
<path stroke="#1400f8" d="M527.3 39.8h0"/>
<path stroke="#262ffb" d="M406.5 50.3h0"/>
<path stroke="#5afd88" d="M532.9 166.5h0"/>
<path stroke="#3256ea" d="M422.1 89.2h0"/>
<path stroke="#438cc5" d="M434.1 120.2h0M400.4 42.8h0"/>
<path stroke="#1400f8" d="M497.0 46.0h0"/>
<path stroke="#5afd88" d="M502.7 170.8h0"/>
<path stroke="#1400f8" d="M530.6 47.6h0"/>
<path stroke="#2119fd" d="M521.3 51.9h0"/>
<path stroke="#1400f8" d="M407.4 129.1h0M549.1 44.5h0"/>
<path stroke="#438cc5" d="M453.5 136.9h0"/>
<path stroke="#2d47f2" d="M492.3 86.0h0"/>
<path stroke="#1400f8" d="M443.8 83.0h0"/>
<path stroke="#5aff84" d="M516.4 132.3h0M518.0 132.2h0"/>
<path stroke="#355ee6" d="M473.6 165.1h0"/>
<path stroke="#2119fd" d="M515.9 53.4h0"/>
<path stroke="#59fb8a" d="M501.1 96.6h0"/>
<path stroke="#438cc5" d="M500.8 77.2h0"/>
<path stroke="#5aff84" d="M506.7 123.4h0"/>
<path stroke="#438cc5" d="M461.7 197.3h0"/>
<path stroke="#5afd88" d="M516.6 208.0h0"/>
<path stroke="#2b3ff6" d="M484.1 46.1h0"/>
<path stroke="#438cc5" d="M465.8 220.2h0"/>
<path stroke="#59fb8a" d="M382.8 47.7h0"/>
<path stroke="#5aff84" d="M507.7 130.8h0"/>
<path stroke="#2d47f2" d="M520.0 93.5h0"/>
<path stroke="#59fb8a" d="M410.8 43.2h0"/>
<path stroke="#2119fd" d="M529.7 55.2h0"/>
<path stroke="#1400f8" d="M524.0 39.9h0M400.3 80.4h0"/>
<path stroke="#59fb8a" d="M388.7 49.1h0M514.9 82.9h0"/>
<path stroke="#1400f8" d="M456.9 163.3h0"/>
<path stroke="#4fbab2" d="M434.3 50.7h0"/>
<path stroke="#59fb8a" d="M499.1 96.7h0M509.0 94.9h0"/>
<path stroke="#5aff84" d="M508.7 127.9h0"/>
<path stroke="#3256ea" d="M396.7 40.0h0"/>
<path stroke="#59fb8a" d="M505.6 77.0h0"/>
<path stroke="#3256ea" d="M428.5 54.8h0"/>
<path stroke="#3e7dd2" d="M450.9 43.2h0"/>
<path stroke="#5afd88" d="M534.9 169.1h0"/>
<path stroke="#438cc5" d="M461.9 215.6h0"/>
<path stroke="#1400f8" d="M435.1 170.7h0"/>
<path stroke="#438cc5" d="M425.3 53.5h0"/>
<path stroke="#5aff84" d="M507.2 134.0h0"/>
<path stroke="#2320fc" d="M447.2 49.2h0"/>
<path stroke="#3e7dd2" d="M431.6 43.2h0"/>
<path stroke="#5aff84" d="M534.4 123.0h0"/>
<path stroke="#59fb8a" d="M427.4 46.0h0"/>
<path stroke="#1400f8" d="M444.4 121.6h0"/>
<path stroke="#355ee6" d="M454.5 172.4h0"/>
<path stroke="#438cc5" d="M474.0 126.3h0"/>
<path stroke="#59fb8a" d="M452.3 49.3h0"/>
<path stroke="#1400f8" d="M403.0 78.6h0"/>
<path stroke="#438cc5" d="M455.2 136.4h0M426.8 123.0h0"/>
<path stroke="#3e7dd2" d="M488.5 93.9h0"/>
<path stroke="#438cc5" d="M443.9 201.7h0"/>
<path stroke="#5aff84" d="M488.0 126.0h0"/>
<path stroke="#438cc5" d="M468.6 121.4h0"/>
<path stroke="#2119fd" d="M528.0 51.9h0"/>
<path stroke="#1400f8" d="M480.7 166.5h0"/>
<path stroke="#2b3ff6" d="M522.5 42.9h0"/>
<path stroke="#1400f8" d="M519.1 53.4h0"/>
<path stroke="#2b3ff6" d="M522.2 47.5h0"/>
<path stroke="#2528fc" d="M488.5 42.8h0"/>
<path stroke="#59fb8a" d="M519.9 85.8h0"/>
<path stroke="#438cc5" d="M421.6 126.1h0"/>
<path stroke="#3256ea" d="M433.5 84.9h0"/>
<path stroke="#438cc5" d="M465.5 216.7h0"/>
<path stroke="#3256ea" d="M422.5 41.3h0"/>
<path stroke="#438cc5" d="M459.1 204.9h0"/>
<path stroke="#59fb8a" d="M507.7 74.3h0M498.1 88.8h0"/>
<path stroke="#1400f8" d="M474.3 197.4h0"/>
<path stroke="#3e7dd2" d="M444.9 37.3h0"/>
<path stroke="#2119fd" d="M541.4 44.8h0"/>
<path stroke="#1400f8" d="M420.0 94.9h0M435.9 85.9h0"/>
<path stroke="#5aff84" d="M508.9 121.8h0"/>
<path stroke="#2d47f2" d="M448.2 90.3h0M456.1 41.5h0"/>
<path stroke="#3256ea" d="M413.0 47.5h0M427.0 44.8h0"/>
<path stroke="#1400f8" d="M417.7 164.7h0"/>
<path stroke="#59fb8a" d="M538.1 86.2h0"/>
<path stroke="#5aff84" d="M497.9 127.5h0"/>
<path stroke="#355ee6" d="M481.0 166.5h0M442.9 158.9h0"/>
<path stroke="#4498c0" d="M531.8 81.9h0"/>
<path stroke="#3e7dd2" d="M431.3 42.8h0"/>
<path stroke="#355ee6" d="M404.5 164.9h0"/>
<path stroke="#438cc5" d="M377.6 44.7h0"/>
<path stroke="#5aff84" d="M530.3 123.3h0"/>
<path stroke="#438cc5" d="M453.7 124.7h0"/>
<path stroke="#59fb8a" d="M393.9 44.3h0"/>
<path stroke="#1400f8" d="M520.9 41.7h0"/>
<path stroke="#59fb8a" d="M469.5 84.7h0"/>
<path stroke="#438cc5" d="M462.5 135.2h0M507.9 75.5h0M446.7 136.6h0"/>
<path stroke="#2d47f2" d="M442.6 49.3h0"/>
<path stroke="#5ad2a7" d="M479.2 200.5h0"/>
<path stroke="#2320fc" d="M450.0 36.8h0"/>
<path stroke="#438cc5" d="M410.8 46.0h0M469.6 209.4h0"/>
<path stroke="#59fb8a" d="M410.1 50.7h0M477.7 87.7h0"/>
<path stroke="#4fbab2" d="M502.2 80.1h0"/>
<path stroke="#1400f8" d="M496.6 38.8h0"/>
<path stroke="#2b3ff6" d="M466.1 197.2h0"/>
<path stroke="#5afd88" d="M537.5 167.9h0"/>
<path stroke="#5aff84" d="M503.6 126.3h0"/>
<path stroke="#1400f8" d="M444.0 90.5h0"/>
<path stroke="#59fb8a" d="M513.7 81.6h0"/>
<path stroke="#438cc5" d="M445.6 115.7h0"/>
<path stroke="#2d47f2" d="M442.3 44.5h0"/>
<path stroke="#355ee6" d="M407.7 164.7h0"/>
<path stroke="#3e7dd2" d="M462.5 90.6h0"/>
<path stroke="#59fb8a" d="M516.0 81.9h0"/>
<path stroke="#3256ea" d="M404.4 49.2h0"/>
<path stroke="#4eb7b4" d="M502.4 164.6h0"/>
<path stroke="#1400f8" d="M467.1 218.2h0"/>
<path stroke="#2d47f2" d="M460.0 47.7h0"/>
<path stroke="#3256ea" d="M416.8 35.3h0"/>
<path stroke="#2b3ff6" d="M542.8 43.0h0"/>
<path stroke="#3256ea" d="M426.5 89.4h0M428.2 41.7h0"/>
<path stroke="#1400f8" d="M512.6 52.2h0"/>
<path stroke="#5aff84" d="M510.0 119.0h0"/>
<path stroke="#1400f8" d="M530.1 35.8h0"/>
<path stroke="#2119fd" d="M520.6 37.2h0"/>
<path stroke="#2b3ff6" d="M435.3 207.6h0"/>
<path stroke="#3e7dd2" d="M458.4 83.2h0"/>
<path stroke="#4498c0" d="M520.2 95.0h0"/>
<path stroke="#1400f8" d="M419.7 77.3h0"/>
<path stroke="#438cc5" d="M451.2 123.1h0"/>
<path stroke="#5aff84" d="M537.8 126.1h0"/>
<path stroke="#1400f8" d="M457.4 175.5h0"/>
<path stroke="#2528fc" d="M488.4 44.6h0"/>
<path stroke="#1400f8" d="M518.6 35.4h0"/>
<path stroke="#4498c0" d="M521.2 84.5h0"/>
<path stroke="#59fb8a" d="M496.2 95.3h0"/>
<path stroke="#3256ea" d="M415.9 89.3h0M392.4 87.3h0"/>
<path stroke="#2b3ff6" d="M456.9 206.1h0"/>
<path stroke="#4498c0" d="M544.9 84.5h0"/>
<path stroke="#2119fd" d="M509.7 47.8h0"/>
<path stroke="#1400f8" d="M410.4 78.8h0M497.4 44.5h0"/>
<path stroke="#438cc5" d="M449.6 132.0h0M478.7 125.0h0"/>
<path stroke="#5ad2a7" d="M494.9 206.5h0"/>
<path stroke="#355ee6" d="M449.7 157.1h0"/>
<path stroke="#5afd88" d="M546.9 204.7h0"/>
<path stroke="#438cc5" d="M481.0 126.1h0"/>
<path stroke="#4fbab2" d="M444.4 35.3h0"/>
<path stroke="#4498c0" d="M524.6 92.3h0"/>
<path stroke="#49abb9" d="M528.9 83.1h0"/>
<path stroke="#1400f8" d="M448.8 161.7h0"/>
<path stroke="#438cc5" d="M437.0 206.5h0"/>
<path stroke="#4eb7b4" d="M490.7 167.6h0"/>
<path stroke="#59fb8a" d="M501.6 87.4h0"/>
<path stroke="#438cc5" d="M464.1 204.8h0"/>
<path stroke="#4eb7b4" d="M544.8 165.1h0"/>
<path stroke="#3e7dd2" d="M442.1 89.0h0"/>
<path stroke="#4498c0" d="M534.1 87.4h0"/>
<path stroke="#1400f8" d="M536.6 51.8h0"/>
<path stroke="#4eb7b4" d="M533.7 163.2h0"/>
<path stroke="#1400f8" d="M452.0 173.9h0"/>
<path stroke="#4498c0" d="M525.1 84.3h0"/>
<path stroke="#3256ea" d="M434.9 83.0h0"/>
<path stroke="#1400f8" d="M420.1 165.0h0"/>
<path stroke="#2119fd" d="M515.3 35.7h0"/>
<path stroke="#3256ea" d="M437.4 96.7h0"/>
<path stroke="#5aff84" d="M526.4 121.7h0"/>
<path stroke="#4eb7b4" d="M529.3 167.7h0"/>
<path stroke="#438cc5" d="M518.5 90.6h0"/>
<path stroke="#59fb8a" d="M417.1 54.9h0"/>
<path stroke="#5aff84" d="M517.5 121.7h0"/>
<path stroke="#438cc5" d="M400.3 124.9h0"/>
<path stroke="#1400f8" d="M423.5 92.4h0M457.0 159.1h0"/>
<path stroke="#3256ea" d="M400.0 46.3h0"/>
<path stroke="#5aff84" d="M520.0 120.0h0"/>
<path stroke="#3256ea" d="M439.9 89.3h0"/>
<path stroke="#2d47f2" d="M505.0 81.8h0"/>
<path stroke="#59fb8a" d="M477.4 92.0h0M503.6 96.7h0"/>
<path stroke="#4eb7b4" d="M515.5 166.2h0"/>
<path stroke="#5aff84" d="M503.8 121.7h0"/>
<path stroke="#3256ea" d="M433.3 93.5h0"/>
<path stroke="#5aff84" d="M504.8 135.5h0"/>
<path stroke="#355ee6" d="M447.9 166.4h0"/>
<path stroke="#4fbab2" d="M385.8 50.7h0"/>
<path stroke="#1400f8" d="M419.8 93.4h0"/>
<path stroke="#4fbab2" d="M417.4 36.8h0"/>
<path stroke="#5afd88" d="M509.1 204.7h0"/>
<path stroke="#5aff84" d="M503.5 123.1h0"/>
<path stroke="#4eb7b4" d="M517.2 170.7h0"/>
<path stroke="#438cc5" d="M441.0 133.4h0"/>
<path stroke="#2d47f2" d="M440.9 41.3h0"/>
<path stroke="#59fb8a" d="M421.9 49.1h0"/>
<path stroke="#2119fd" d="M540.0 47.8h0"/>
<path stroke="#2b3ff6" d="M472.0 217.1h0"/>
<path stroke="#438cc5" d="M458.2 129.0h0"/>
<path stroke="#1400f8" d="M457.8 130.8h0M435.6 89.0h0"/>
<path stroke="#438cc5" d="M498.6 90.4h0M454.2 128.9h0M450.7 122.0h0M372.6 47.4h0"/>
<path stroke="#5aff84" d="M508.5 126.3h0"/>
<path stroke="#1400f8" d="M436.9 77.4h0M437.8 129.0h0"/>
<path stroke="#5afd88" d="M505.7 203.7h0"/>
<path stroke="#438cc5" d="M357.0 46.1h0"/>
<path stroke="#4498c0" d="M523.4 79.9h0"/>
<path stroke="#355ee6" d="M451.7 161.5h0"/>
<path stroke="#438cc5" d="M357.8 45.8h0"/>
<path stroke="#3256ea" d="M412.8 50.3h0"/>
<path stroke="#438cc5" d="M324.8 46.0h0"/>
<path stroke="#1400f8" d="M445.7 163.6h0"/>
<path stroke="#4fbab2" d="M362.4 45.9h0"/>
<path stroke="#1400f8" d="M384.8 87.9h0"/>
<path stroke="#2528fc" d="M486.0 50.7h0"/>
<path stroke="#1400f8" d="M540.0 49.1h0"/>
<path stroke="#438cc5" d="M469.0 127.5h0"/>
<path stroke="#3256ea" d="M432.3 89.2h0"/>
<path stroke="#59fb8a" d="M487.5 86.3h0"/>
<path stroke="#438cc5" d="M470.2 123.4h0M416.6 43.0h0M412.6 123.4h0"/>
<path stroke="#3256ea" d="M430.3 81.4h0"/>
<path stroke="#5ad2a7" d="M494.0 215.4h0"/>
<path stroke="#3e7dd2" d="M432.5 58.0h0"/>
<path stroke="#5aff84" d="M516.5 118.9h0"/>
<path stroke="#59fb8a" d="M511.9 90.4h0"/>
<path stroke="#438cc5" d="M470.7 218.2h0"/>
<path stroke="#3256ea" d="M425.9 33.8h0"/>
<path stroke="#59fb8a" d="M420.4 43.1h0"/>
<path stroke="#5ad2a7" d="M482.6 200.7h0"/>
<path stroke="#1400f8" d="M409.7 87.5h0"/>
<path stroke="#4eb7b4" d="M522.4 169.3h0"/>
<path stroke="#59fb8a" d="M475.0 78.4h0"/>
<path stroke="#355ee6" d="M475.6 167.6h0"/>
<path stroke="#2119fd" d="M542.2 48.8h0"/>
<path stroke="#1400f8" d="M462.4 170.9h0"/>
<path stroke="#5aff84" d="M508.1 116.0h0"/>
<path stroke="#438cc5" d="M383.4 43.3h0"/>
<path stroke="#1400f8" d="M458.6 169.5h0"/>
<path stroke="#4fbab2" d="M493.5 87.4h0"/>
<path stroke="#3256ea" d="M387.5 90.5h0"/>
<path stroke="#1400f8" d="M433.5 91.9h0"/>
<path stroke="#2d47f2" d="M441.5 55.3h0"/>
<path stroke="#1400f8" d="M420.4 124.7h0M415.0 83.1h0"/>
<path stroke="#59fb8a" d="M457.9 89.2h0"/>
<path stroke="#438cc5" d="M449.4 118.7h0"/>
<path stroke="#5ad2a7" d="M470.8 207.8h0"/>
<path stroke="#1400f8" d="M544.2 46.0h0M499.5 55.2h0M397.8 86.2h0"/>
<path stroke="#3256ea" d="M393.8 45.9h0"/>
<path stroke="#1400f8" d="M437.5 123.4h0"/>
<path stroke="#438cc5" d="M439.3 130.5h0"/>
<path stroke="#4eb7b4" d="M511.7 165.0h0"/>
<path stroke="#1400f8" d="M477.7 126.3h0"/>
<path stroke="#3256ea" d="M388.7 81.5h0M415.1 50.4h0"/>
<path stroke="#2d47f2" d="M453.5 85.9h0"/>
<path stroke="#438cc5" d="M448.5 121.8h0"/>
<path stroke="#1400f8" d="M431.6 81.9h0"/>
<path stroke="#438cc5" d="M370.6 47.3h0"/>
<path stroke="#3256ea" d="M392.8 47.7h0"/>
<path stroke="#1400f8" d="M420.9 128.0h0M426.5 120.0h0"/>
<path stroke="#4fbab2" d="M445.3 42.9h0"/>
<path stroke="#438cc5" d="M519.2 80.1h0"/>
<path stroke="#59fb8a" d="M501.6 89.3h0"/>
<path stroke="#5aff84" d="M501.6 130.8h0"/>
<path stroke="#1400f8" d="M537.5 41.8h0"/>
<path stroke="#438cc5" d="M433.7 127.8h0"/>
<path stroke="#4fbab2" d="M422.3 46.0h0"/>
<path stroke="#2b3ff6" d="M464.7 198.9h0"/>
<path stroke="#438cc5" d="M518.4 89.3h0"/>
<path stroke="#2d47f2" d="M518.2 78.7h0"/>
<path stroke="#3256ea" d="M393.3 90.6h0"/>
<path stroke="#438cc5" d="M457.6 124.5h0"/>
<path stroke="#59fb8a" d="M502.6 74.1h0"/>
<path stroke="#438cc5" d="M396.6 124.6h0"/>
<path stroke="#3e7dd2" d="M486.6 84.5h0"/>
<path stroke="#1400f8" d="M443.1 169.1h0"/>
<path stroke="#4eb7b4" d="M515.8 163.0h0"/>
<path stroke="#59fb8a" d="M406.9 40.1h0"/>
<path stroke="#5aff84" d="M519.3 127.9h0"/>
<path stroke="#1400f8" d="M458.0 118.7h0"/>
<path stroke="#2119fd" d="M523.8 56.3h0"/>
<path stroke="#1400f8" d="M382.8 85.9h0"/>
<path stroke="#3256ea" d="M427.6 81.7h0"/>
<path stroke="#1400f8" d="M426.1 95.0h0"/>
<path stroke="#59fb8a" d="M492.5 91.9h0"/>
<path stroke="#3256ea" d="M406.8 38.6h0"/>
<path stroke="#5aff84" d="M491.6 129.3h0"/>
<path stroke="#438cc5" d="M460.3 215.7h0M459.2 212.2h0"/>
<path stroke="#2119fd" d="M510.7 53.7h0"/>
<path stroke="#3e7dd2" d="M437.5 53.5h0"/>
<path stroke="#355ee6" d="M470.9 169.5h0"/>
<path stroke="#3e7dd2" d="M435.5 49.1h0"/>
<path stroke="#2d47f2" d="M456.2 40.2h0"/>
<path stroke="#438cc5" d="M457.4 133.6h0"/>
<path stroke="#1400f8" d="M371.9 84.4h0M438.9 161.6h0"/>
<path stroke="#438cc5" d="M455.3 122.9h0"/>
<path stroke="#3e7dd2" d="M431.7 51.9h0"/>
<path stroke="#5aff84" d="M499.3 130.8h0"/>
<path stroke="#5ad2a7" d="M537.1 206.2h0"/>
<path stroke="#438cc5" d="M469.0 204.9h0"/>
<path stroke="#5aff84" d="M533.9 129.1h0"/>
<path stroke="#355ee6" d="M432.2 169.6h0"/>
<path stroke="#2320fc" d="M346.5 86.1h0"/>
<path stroke="#1400f8" d="M408.3 166.6h0M413.7 126.5h0"/>
<path stroke="#5ad2a7" d="M497.4 203.6h0"/>
<path stroke="#1400f8" d="M511.2 38.7h0"/>
<path stroke="#438cc5" d="M396.5 41.6h0M517.7 77.3h0"/>
<path stroke="#3256ea" d="M397.7 78.6h0"/>
<path stroke="#5ad2a7" d="M482.9 203.5h0"/>
<path stroke="#3e7dd2" d="M462.2 82.8h0"/>
<path stroke="#3256ea" d="M413.9 40.0h0"/>
<path stroke="#5aff84" d="M501.9 123.1h0M515.1 129.5h0"/>
<path stroke="#2119fd" d="M506.7 49.0h0"/>
<path stroke="#1400f8" d="M413.6 81.5h0"/>
<path stroke="#3a6ede" d="M465.4 49.0h0"/>
<path stroke="#49abb9" d="M524.9 83.4h0"/>
<path stroke="#1400f8" d="M459.3 176.8h0"/>
<path stroke="#3e7dd2" d="M445.7 50.8h0"/>
<path stroke="#1400f8" d="M435.0 84.5h0"/>
<path stroke="#2119fd" d="M538.6 43.3h0"/>
<path stroke="#4498c0" d="M528.9 84.6h0"/>
<path stroke="#5ad2a7" d="M463.9 197.4h0"/>
<path stroke="#438cc5" d="M419.0 127.6h0"/>
<path stroke="#2119fd" d="M558.6 44.5h0"/>
<path stroke="#5afd88" d="M506.6 209.2h0M523.4 203.4h0"/>
<path stroke="#2b3ff6" d="M468.2 204.8h0"/>
<path stroke="#2119fd" d="M505.4 35.7h0"/>
<path stroke="#1400f8" d="M398.4 92.2h0M428.1 92.2h0"/>
<path stroke="#2b3ff6" d="M512.1 34.1h0"/>
<path stroke="#2d47f2" d="M512.0 78.5h0"/>
<path stroke="#3256ea" d="M412.0 95.3h0"/>
<path stroke="#438cc5" d="M444.1 126.2h0"/>
<path stroke="#2b3ff6" d="M490.5 50.5h0"/>
<path stroke="#4eb7b4" d="M512.7 163.3h0"/>
<path stroke="#4498c0" d="M561.0 84.9h0"/>
<path stroke="#5aff84" d="M517.5 117.3h0M506.7 114.2h0"/>
<path stroke="#1400f8" d="M495.8 44.8h0M406.2 124.5h0M446.3 92.0h0"/>
<path stroke="#59fb8a" d="M499.8 75.5h0"/>
<path stroke="#1400f8" d="M443.8 115.6h0"/>
<path stroke="#3256ea" d="M425.0 36.9h0"/>
<path stroke="#438cc5" d="M446.1 132.4h0"/>
<path stroke="#1400f8" d="M460.6 130.5h0"/>
<path stroke="#2b3ff6" d="M407.0 204.6h0"/>
<path stroke="#438cc5" d="M418.6 124.7h0M431.0 129.1h0"/>
<path stroke="#4498c0" d="M564.4 84.5h0"/>
<path stroke="#5afd88" d="M505.4 207.9h0"/>
<path stroke="#1400f8" d="M445.0 172.5h0M546.8 48.9h0"/>
<path stroke="#59fb8a" d="M511.1 95.3h0"/>
<path stroke="#438cc5" d="M440.3 208.1h0M430.7 121.8h0"/>
<path stroke="#5aff84" d="M507.1 129.2h0"/>
<path stroke="#1400f8" d="M532.9 52.0h0M501.1 50.5h0"/>
<path stroke="#2d47f2" d="M456.1 51.8h0"/>
<path stroke="#438cc5" d="M452.1 123.5h0"/>
<path stroke="#3256ea" d="M426.6 87.4h0"/>
<path stroke="#1400f8" d="M499.3 45.8h0"/>
<path stroke="#5afd88" d="M500.7 208.1h0"/>
<path stroke="#3256ea" d="M397.0 90.6h0"/>
<path stroke="#438cc5" d="M440.5 121.6h0"/>
<path stroke="#355ee6" d="M452.8 161.6h0"/>
<path stroke="#2d47f2" d="M445.7 53.8h0"/>
<path stroke="#1400f8" d="M397.9 166.3h0"/>
<path stroke="#5afd88" d="M517.5 206.5h0"/>
<path stroke="#1400f8" d="M429.0 121.4h0"/>
<path stroke="#355ee6" d="M445.6 172.2h0"/>
<path stroke="#438cc5" d="M437.7 204.9h0"/>
<path stroke="#4fbab2" d="M507.1 92.3h0"/>
<path stroke="#5aff84" d="M496.5 123.5h0"/>
<path stroke="#438cc5" d="M440.5 124.7h0"/>
<path stroke="#2b3ff6" d="M430.8 207.6h0"/>
<path stroke="#3256ea" d="M414.2 46.2h0"/>
<path stroke="#5aff84" d="M506.9 132.3h0"/>
<path stroke="#1400f8" d="M502.7 57.9h0"/>
<path stroke="#5aff84" d="M506.2 135.3h0"/>
<path stroke="#5ad2a7" d="M494.0 198.9h0"/>
<path stroke="#1400f8" d="M410.2 93.8h0"/>
<path stroke="#59fb8a" d="M504.0 92.1h0"/>
<path stroke="#1400f8" d="M423.0 84.7h0"/>
<path stroke="#4eb7b4" d="M493.0 169.4h0"/>
<path stroke="#3e7dd2" d="M459.1 85.8h0"/>
<path stroke="#1400f8" d="M508.2 53.3h0"/>
<path stroke="#2d47f2" d="M438.5 49.0h0"/>
<path stroke="#355ee6" d="M458.3 155.5h0"/>
<path stroke="#5ad2a7" d="M497.0 206.2h0"/>
<path stroke="#2b3ff6" d="M473.9 202.1h0"/>
<path stroke="#5aff84" d="M523.1 130.7h0"/>
<path stroke="#59fb8a" d="M391.0 46.1h0"/>
<path stroke="#3e7dd2" d="M435.0 40.0h0"/>
<path stroke="#1400f8" d="M382.1 90.5h0"/>
<path stroke="#4eb7b4" d="M532.9 164.9h0"/>
<path stroke="#1400f8" d="M389.9 166.3h0"/>
<path stroke="#2b3ff6" d="M472.7 215.7h0"/>
<path stroke="#3e7dd2" d="M443.3 47.6h0"/>
<path stroke="#355ee6" d="M439.4 166.3h0"/>
<path stroke="#5aff84" d="M500.2 118.5h0"/>
<path stroke="#1400f8" d="M447.3 200.5h0"/>
<path stroke="#59fb8a" d="M418.1 49.2h0"/>
<path stroke="#2d47f2" d="M443.4 86.4h0"/>
<path stroke="#2119fd" d="M530.0 44.5h0"/>
<path stroke="#355ee6" d="M458.6 178.2h0"/>
<path stroke="#5afd88" d="M502.6 167.6h0"/>
<path stroke="#2b3ff6" d="M483.5 41.5h0"/>
<path stroke="#2119fd" d="M501.4 40.0h0"/>
<path stroke="#4498c0" d="M531.6 83.2h0"/>
<path stroke="#438cc5" d="M435.3 132.1h0"/>
<path stroke="#4fbab2" d="M444.9 44.4h0"/>
<path stroke="#5afd88" d="M520.3 206.7h0"/>
<path stroke="#438cc5" d="M459.1 123.0h0"/>
<path stroke="#1400f8" d="M516.4 44.6h0"/>
<path stroke="#4eb7b4" d="M499.9 164.6h0"/>
<path stroke="#1400f8" d="M413.1 77.3h0"/>
<path stroke="#5aff84" d="M525.3 124.8h0"/>
<path stroke="#1400f8" d="M413.7 93.5h0"/>
<path stroke="#5aff84" d="M509.4 130.4h0"/>
<path stroke="#5ad2a7" d="M496.1 204.6h0"/>
<path stroke="#2d47f2" d="M466.5 89.2h0"/>
<path stroke="#1400f8" d="M441.8 166.5h0M448.1 81.3h0"/>
<path stroke="#5aff84" d="M494.4 129.1h0"/>
<path stroke="#438cc5" d="M463.1 214.0h0"/>
<path stroke="#2b3ff6" d="M500.2 51.9h0"/>
<path stroke="#3256ea" d="M379.5 46.3h0"/>
<path stroke="#1400f8" d="M437.3 167.7h0"/>
<path stroke="#355ee6" d="M452.0 172.4h0"/>
<path stroke="#59fb8a" d="M516.1 84.4h0"/>
<path stroke="#438cc5" d="M451.9 206.7h0"/>
<path stroke="#2d47f2" d="M430.4 53.3h0"/>
<path stroke="#3e7dd2" d="M430.3 41.4h0"/>
<path stroke="#4fbab2" d="M470.6 86.1h0"/>
<path stroke="#438cc5" d="M409.1 123.1h0"/>
<path stroke="#1400f8" d="M525.5 35.3h0M503.3 55.2h0M378.6 81.3h0"/>
<path stroke="#4fbab2" d="M508.0 98.0h0"/>
<path stroke="#438cc5" d="M470.4 129.4h0M442.3 121.9h0M441.4 123.0h0"/>
<path stroke="#2b3ff6" d="M530.4 37.2h0"/>
<path stroke="#5aff84" d="M516.2 130.9h0"/>
<path stroke="#4fbab2" d="M438.2 50.4h0"/>
<path stroke="#438cc5" d="M416.8 127.9h0"/>
<path stroke="#59fb8a" d="M493.9 95.3h0"/>
<path stroke="#5aff84" d="M523.0 123.0h0"/>
<path stroke="#355ee6" d="M480.6 164.5h0"/>
<path stroke="#438cc5" d="M461.7 130.9h0"/>
<path stroke="#4fbab2" d="M423.1 35.3h0M505.0 79.9h0"/>
<path stroke="#59fb8a" d="M494.5 75.4h0"/>
<path stroke="#1400f8" d="M403.1 93.9h0"/>
<path stroke="#438cc5" d="M456.9 203.7h0"/>
<path stroke="#3a6ede" d="M467.9 50.4h0"/>
<path stroke="#3256ea" d="M410.2 76.9h0"/>
<path stroke="#1400f8" d="M387.7 82.9h0"/>
<path stroke="#2119fd" d="M515.9 40.3h0"/>
<path stroke="#1400f8" d="M381.9 126.2h0M403.5 91.8h0"/>
<path stroke="#438cc5" d="M434.1 126.0h0"/>
<path stroke="#3256ea" d="M422.7 55.2h0"/>
<path stroke="#5ad2a7" d="M497.0 209.4h0"/>
<path stroke="#1400f8" d="M526.7 44.3h0"/>
<path stroke="#3256ea" d="M425.6 75.7h0"/>
<path stroke="#59fb8a" d="M388.9 41.6h0"/>
<path stroke="#3e7dd2" d="M489.9 84.3h0"/>
<path stroke="#2119fd" d="M533.4 44.7h0"/>
<path stroke="#59fb8a" d="M525.2 92.0h0"/>
<path stroke="#3256ea" d="M438.4 95.2h0"/>
<path stroke="#5aff84" d="M531.7 126.0h0"/>
<path stroke="#4fbab2" d="M498.7 81.8h0"/>
<path stroke="#1400f8" d="M527.5 38.7h0"/>
<path stroke="#3256ea" d="M379.8 86.1h0"/>
<path stroke="#59fb8a" d="M479.7 81.8h0"/>
<path stroke="#355ee6" d="M461.7 171.0h0"/>
<path stroke="#5aff84" d="M524.2 126.4h0"/>
<path stroke="#5afd88" d="M496.8 169.0h0"/>
<path stroke="#59fb8a" d="M513.7 87.9h0"/>
<path stroke="#3256ea" d="M425.8 76.9h0M416.8 92.1h0"/>
<path stroke="#5ad2a7" d="M497.4 211.0h0"/>
<path stroke="#4eb7b4" d="M489.5 167.7h0"/>
<path stroke="#2d47f2" d="M446.0 46.3h0"/>
<path stroke="#1400f8" d="M522.2 55.2h0"/>
<path stroke="#3256ea" d="M420.6 53.4h0"/>
<path stroke="#5ad2a7" d="M487.4 209.6h0"/>
<path stroke="#1400f8" d="M519.7 56.5h0"/>
<path stroke="#4fbab2" d="M406.9 45.8h0"/>
<path stroke="#438cc5" d="M444.4 118.4h0"/>
<path stroke="#1400f8" d="M433.7 87.5h0"/>
<path stroke="#355ee6" d="M456.3 170.5h0"/>
<path stroke="#3256ea" d="M434.7 92.1h0"/>
<path stroke="#59fb8a" d="M484.7 92.1h0"/>
<path stroke="#1400f8" d="M494.4 47.8h0M477.7 206.3h0"/>
<path stroke="#438cc5" d="M421.6 56.8h0"/>
<path stroke="#2119fd" d="M536.3 44.7h0"/>
<path stroke="#2d47f2" d="M430.6 35.3h0"/>
<path stroke="#2119fd" d="M500.2 56.6h0"/>
<path stroke="#438cc5" d="M448.3 135.3h0"/>
<path stroke="#59fb8a" d="M418.9 50.4h0"/>
<path stroke="#5aff84" d="M501.7 124.5h0M516.2 129.4h0"/>
<path stroke="#1400f8" d="M514.4 39.8h0"/>
<path stroke="#2b3ff6" d="M477.8 44.5h0"/>
<path stroke="#5afd88" d="M531.7 206.4h0"/>
<path stroke="#2b3ff6" d="M517.4 38.3h0"/>
<path stroke="#438cc5" d="M457.2 135.2h0"/>
<path stroke="#1400f8" d="M381.5 81.5h0M407.7 167.6h0"/>
<path stroke="#4fbab2" d="M496.1 77.3h0"/>
<path stroke="#2d47f2" d="M448.2 40.2h0"/>
<path stroke="#355ee6" d="M446.1 158.8h0"/>
<path stroke="#1400f8" d="M450.6 176.7h0"/>
<path stroke="#3256ea" d="M367.1 86.3h0"/>
<path stroke="#49abb9" d="M534.3 86.1h0"/>
<path stroke="#1400f8" d="M406.4 93.8h0"/>
<path stroke="#2d47f2" d="M456.5 48.8h0"/>
<path stroke="#59fb8a" d="M511.8 96.7h0"/>
<path stroke="#3256ea" d="M393.4 47.7h0"/>
<path stroke="#2119fd" d="M496.0 45.9h0"/>
<path stroke="#1400f8" d="M466.8 166.4h0"/>
<path stroke="#438cc5" d="M461.3 117.2h0"/>
<path stroke="#4498c0" d="M541.0 87.5h0"/>
<path stroke="#438cc5" d="M352.5 44.3h0"/>
<path stroke="#1400f8" d="M428.0 167.9h0"/>
<path stroke="#355ee6" d="M460.3 161.7h0"/>
<path stroke="#3256ea" d="M413.2 80.3h0"/>
<path stroke="#4fbab2" d="M507.0 81.7h0"/>
<path stroke="#59fb8a" d="M500.8 95.0h0"/>
<path stroke="#3e7dd2" d="M490.0 87.3h0"/>
<path stroke="#355ee6" d="M414.2 164.8h0"/>
<path stroke="#1400f8" d="M429.5 124.7h0"/>
<path stroke="#3256ea" d="M420.7 89.0h0"/>
<path stroke="#5afd88" d="M494.8 167.8h0"/>
<path stroke="#438cc5" d="M400.2 48.8h0M455.4 126.1h0"/>
<path stroke="#2d47f2" d="M441.5 78.4h0"/>
<path stroke="#3256ea" d="M423.2 78.7h0"/>
<path stroke="#355ee6" d="M455.4 158.7h0"/>
<path stroke="#2d47f2" d="M458.8 42.8h0M519.6 84.4h0"/>
<path stroke="#4498c0" d="M547.0 87.3h0"/>
<path stroke="#5aff84" d="M516.7 126.4h0"/>
<path stroke="#1400f8" d="M453.4 90.5h0"/>
<path stroke="#5aff84" d="M493.3 126.2h0"/>
<path stroke="#1400f8" d="M474.5 124.6h0"/>
<path stroke="#4fbab2" d="M470.3 89.1h0"/>
<path stroke="#5afd88" d="M501.5 206.5h0"/>
<path stroke="#2b3ff6" d="M518.7 52.3h0"/>
<path stroke="#1400f8" d="M382.2 83.4h0"/>
<path stroke="#438cc5" d="M477.4 127.6h0"/>
<path stroke="#3256ea" d="M426.7 52.0h0M388.8 87.5h0"/>
<path stroke="#5afd88" d="M483.3 200.2h0"/>
<path stroke="#59fb8a" d="M476.5 79.8h0"/>
<path stroke="#3256ea" d="M435.1 77.1h0"/>
<path stroke="#59fb8a" d="M491.3 76.9h0"/>
<path stroke="#5ad2a7" d="M482.9 206.3h0"/>
<path stroke="#3e7dd2" d="M438.3 47.6h0M494.0 83.2h0"/>
<path stroke="#355ee6" d="M450.3 175.0h0"/>
<path stroke="#3e7dd2" d="M481.6 79.9h0"/>
<path stroke="#2d47f2" d="M462.5 46.1h0"/>
<path stroke="#1400f8" d="M504.8 37.2h0"/>
<path stroke="#5aff84" d="M525.7 130.9h0"/>
<path stroke="#1400f8" d="M413.1 166.2h0M453.2 159.0h0"/>
<path stroke="#3256ea" d="M364.8 44.7h0"/>
<path stroke="#438cc5" d="M452.5 130.8h0"/>
<path stroke="#5afd88" d="M523.0 208.1h0"/>
<path stroke="#438cc5" d="M459.4 206.1h0"/>
<path stroke="#5afd88" d="M510.8 205.2h0"/>
<path stroke="#438cc5" d="M466.2 195.8h0M422.3 50.4h0"/>
<path stroke="#5aff84" d="M510.0 135.1h0"/>
<path stroke="#438cc5" d="M383.7 126.0h0M455.5 130.4h0"/>
<path stroke="#5afd88" d="M501.3 203.5h0"/>
<path stroke="#438cc5" d="M446.5 129.2h0M456.4 132.1h0M456.1 122.9h0M467.7 120.2h0"/>
<path stroke="#5ad2a7" d="M488.4 210.9h0"/>
<path stroke="#438cc5" d="M373.1 126.2h0"/>
<path stroke="#59fb8a" d="M425.8 44.7h0"/>
<path stroke="#2119fd" d="M507.1 59.7h0"/>
<path stroke="#2d47f2" d="M435.6 53.4h0"/>
<path stroke="#438cc5" d="M460.0 126.3h0"/>
<path stroke="#3256ea" d="M403.3 89.3h0"/>
<path stroke="#2d47f2" d="M463.8 46.3h0"/>
<path stroke="#1400f8" d="M470.6 167.8h0M439.1 160.2h0"/>
<path stroke="#438cc5" d="M479.2 203.5h0"/>
<path stroke="#2d47f2" d="M443.5 78.5h0"/>
<path stroke="#2119fd" d="M527.1 36.8h0"/>
<path stroke="#1400f8" d="M417.5 78.7h0"/>
<path stroke="#4498c0" d="M529.7 90.4h0"/>
<path stroke="#438cc5" d="M352.9 47.3h0"/>
<path stroke="#1400f8" d="M457.5 160.5h0M440.3 118.7h0"/>
<path stroke="#5afd88" d="M489.1 202.1h0M509.1 209.6h0"/>
<path stroke="#438cc5" d="M443.6 136.9h0"/>
<path stroke="#5aff84" d="M505.5 133.4h0"/>
<path stroke="#59fb8a" d="M468.7 81.9h0"/>
<path stroke="#1400f8" d="M475.0 206.1h0"/>
<path stroke="#2d47f2" d="M447.1 55.1h0"/>
<path stroke="#1400f8" d="M425.2 167.7h0"/>
<path stroke="#4fbab2" d="M408.5 54.9h0"/>
<path stroke="#59fb8a" d="M499.3 93.5h0"/>
<path stroke="#438cc5" d="M318.5 46.0h0"/>
<path stroke="#3e7dd2" d="M430.7 49.1h0"/>
<path stroke="#3256ea" d="M378.7 83.3h0"/>
<path stroke="#355ee6" d="M454.1 171.0h0"/>
<path stroke="#59fb8a" d="M517.3 78.6h0"/>
<path stroke="#1400f8" d="M506.4 58.0h0M441.7 86.1h0"/>
<path stroke="#5afd88" d="M512.8 161.6h0"/>
<path stroke="#4fbab2" d="M411.0 47.7h0"/>
<path stroke="#5aff84" d="M536.6 126.5h0M495.2 126.0h0"/>
<path stroke="#1400f8" d="M468.9 126.1h0"/>
<path stroke="#5aff84" d="M504.5 130.8h0"/>
<path stroke="#2b3ff6" d="M445.1 207.7h0"/>
<path stroke="#438cc5" d="M442.6 130.6h0"/>
<path stroke="#5afd88" d="M505.9 165.0h0"/>
<path stroke="#1400f8" d="M396.2 126.3h0"/>
<path stroke="#438cc5" d="M441.3 127.6h0"/>
<path stroke="#5afd88" d="M515.3 204.7h0"/>
<path stroke="#2d47f2" d="M429.9 37.3h0"/>
<path stroke="#355ee6" d="M462.6 155.6h0"/>
<path stroke="#1400f8" d="M436.8 170.7h0M389.4 90.7h0M408.9 206.4h0"/>
<path stroke="#3256ea" d="M411.3 53.6h0"/>
<path stroke="#2528fc" d="M485.6 46.0h0"/>
<path stroke="#59fb8a" d="M423.8 47.3h0"/>
<path stroke="#5ad2a7" d="M494.0 204.7h0"/>
<path stroke="#438cc5" d="M459.6 203.3h0M462.5 212.6h0"/>
<path stroke="#2d47f2" d="M509.9 98.2h0"/>
<path stroke="#438cc5" d="M475.3 199.1h0"/>
<path stroke="#2b3ff6" d="M493.3 49.0h0"/>
<path stroke="#1400f8" d="M423.6 81.8h0M428.1 166.0h0"/>
<path stroke="#355ee6" d="M461.9 169.2h0"/>
<path stroke="#3e7dd2" d="M449.9 80.1h0"/>
<path stroke="#1400f8" d="M412.4 87.6h0"/>
<path stroke="#5aff84" d="M519.4 133.7h0"/>
<path stroke="#2d47f2" d="M465.4 90.7h0M477.6 86.1h0"/>
<path stroke="#3e7dd2" d="M485.3 80.3h0"/>
<path stroke="#438cc5" d="M412.7 48.8h0"/>
<path stroke="#2119fd" d="M504.9 32.8h0"/>
<path stroke="#1400f8" d="M457.8 172.5h0"/>
<path stroke="#438cc5" d="M436.9 120.0h0"/>
<path stroke="#59fb8a" d="M513.0 85.9h0"/>
<path stroke="#438cc5" d="M430.6 123.0h0"/>
<path stroke="#5aff84" d="M498.6 127.9h0"/>
<path stroke="#3e7dd2" d="M446.0 38.7h0"/>
<path stroke="#59fb8a" d="M485.7 90.5h0"/>
<path stroke="#4fbab2" d="M398.4 44.7h0"/>
<path stroke="#3256ea" d="M429.7 84.6h0"/>
<path stroke="#3e7dd2" d="M451.9 53.6h0"/>
<path stroke="#1400f8" d="M550.9 44.4h0"/>
<path stroke="#2320fc" d="M450.5 39.9h0"/>
<path stroke="#2b3ff6" d="M501.6 46.3h0"/>
<path stroke="#438cc5" d="M414.5 38.7h0"/>
<path stroke="#4eb7b4" d="M513.9 169.2h0"/>
<path stroke="#1400f8" d="M462.3 129.3h0"/>
<path stroke="#2d47f2" d="M452.6 89.1h0"/>
<path stroke="#5aff84" d="M504.2 132.0h0"/>
<path stroke="#1400f8" d="M460.0 198.7h0"/>
<path stroke="#2d47f2" d="M448.6 92.1h0"/>
<path stroke="#1400f8" d="M513.3 56.3h0"/>
<path stroke="#3a6ede" d="M457.1 44.8h0"/>
<path stroke="#1400f8" d="M436.2 81.5h0M461.4 159.1h0"/>
<path stroke="#2d47f2" d="M480.6 93.6h0"/>
<path stroke="#5ad2a7" d="M485.9 208.0h0"/>
<path stroke="#2119fd" d="M507.2 54.8h0"/>
<path stroke="#4eb7b4" d="M495.8 165.1h0"/>
<path stroke="#1400f8" d="M451.3 212.2h0"/>
<path stroke="#3e7dd2" d="M436.6 56.5h0"/>
<path stroke="#438cc5" d="M415.3 123.4h0"/>
<path stroke="#4498c0" d="M542.2 84.5h0"/>
<path stroke="#1400f8" d="M466.8 128.0h0"/>
<path stroke="#2d47f2" d="M454.2 92.4h0"/>
<path stroke="#1400f8" d="M426.6 124.7h0M447.1 170.8h0"/>
<path stroke="#2119fd" d="M505.4 40.0h0"/>
<path stroke="#5ad2a7" d="M456.1 201.9h0"/>
<path stroke="#4498c0" d="M561.5 86.3h0"/>
<path stroke="#1400f8" d="M427.1 90.8h0"/>
<path stroke="#5afd88" d="M530.0 207.8h0"/>
<path stroke="#3256ea" d="M392.4 41.3h0"/>
<path stroke="#2d47f2" d="M455.2 81.4h0"/>
<path stroke="#4498c0" d="M527.9 87.6h0"/>
<path stroke="#438cc5" d="M450.5 127.8h0"/>
<path stroke="#1400f8" d="M441.5 172.4h0"/>
<path stroke="#438cc5" d="M519.1 81.7h0"/>
<path stroke="#5afd88" d="M500.1 205.0h0"/>
<path stroke="#4fbab2" d="M416.5 49.0h0"/>
<path stroke="#2320fc" d="M354.4 86.1h0"/>
<path stroke="#1400f8" d="M412.4 125.0h0"/>
<path stroke="#2d47f2" d="M517.5 85.9h0"/>
<path stroke="#1400f8" d="M573.0 46.0h0"/>
<path stroke="#59fb8a" d="M396.5 38.6h0"/>
<path stroke="#355ee6" d="M456.7 173.8h0"/>
<path stroke="#2d47f2" d="M507.3 95.3h0"/>
<path stroke="#4498c0" d="M538.4 87.8h0"/>
<path stroke="#438cc5" d="M432.8 208.1h0"/>
<path stroke="#4498c0" d="M564.4 85.9h0"/>
<path stroke="#3256ea" d="M402.5 83.0h0"/>
<path stroke="#438cc5" d="M473.3 206.1h0"/>
<path stroke="#1400f8" d="M444.3 164.8h0M463.0 175.3h0"/>
<path stroke="#3256ea" d="M383.5 90.4h0"/>
<path stroke="#5ad2a7" d="M481.5 204.8h0"/>
<path stroke="#4fbab2" d="M485.8 87.7h0"/>
<path stroke="#59fb8a" d="M496.8 92.0h0M502.6 86.4h0"/>
<path stroke="#1400f8" d="M500.9 41.6h0"/>
<path stroke="#3e7dd2" d="M469.5 83.3h0"/>
<path stroke="#438cc5" d="M425.8 127.5h0"/>
<path stroke="#5aff84" d="M505.0 120.3h0"/>
<path stroke="#1400f8" d="M433.9 90.5h0"/>
<path stroke="#438cc5" d="M465.7 201.7h0M444.1 129.2h0"/>
<path stroke="#1400f8" d="M410.6 92.2h0"/>
<path stroke="#5afd88" d="M502.8 210.7h0"/>
<path stroke="#438cc5" d="M439.3 129.3h0"/>
<path stroke="#2d47f2" d="M347.3 45.8h0"/>
<path stroke="#3256ea" d="M419.0 33.8h0"/>
<path stroke="#59fb8a" d="M354.3 46.1h0"/>
<path stroke="#5afd88" d="M500.7 200.4h0"/>
<path stroke="#1400f8" d="M440.1 209.4h0M541.1 46.1h0"/>
<path stroke="#59fb8a" d="M497.4 75.7h0"/>
<path stroke="#5afd88" d="M532.4 166.3h0"/>
<path stroke="#2d47f2" d="M444.3 88.9h0"/>
<path stroke="#2b3ff6" d="M472.9 41.5h0"/>
<path stroke="#2119fd" d="M520.9 46.2h0M515.2 53.7h0"/>
<path stroke="#1400f8" d="M430.9 80.0h0"/>
<path stroke="#2d47f2" d="M446.0 45.8h0"/>
<path stroke="#1400f8" d="M408.8 81.6h0"/>
<path stroke="#3256ea" d="M437.9 93.8h0"/>
<path stroke="#1400f8" d="M529.7 35.5h0"/>
<path stroke="#5aff84" d="M493.3 123.0h0M541.6 124.5h0"/>
<path stroke="#3e7dd2" d="M450.1 87.5h0"/>
<path stroke="#3256ea" d="M402.6 38.3h0"/>
<path stroke="#2b3ff6" d="M487.3 45.9h0"/>
<path stroke="#2d47f2" d="M506.6 96.6h0"/>
<path stroke="#5aff84" d="M520.8 123.2h0"/>
<path stroke="#1400f8" d="M509.0 32.7h0"/>
<path stroke="#3256ea" d="M422.0 87.8h0"/>
<path stroke="#5afd88" d="M529.2 204.9h0"/>
<path stroke="#59fb8a" d="M429.1 37.3h0"/>
<path stroke="#5aff84" d="M500.1 135.0h0"/>
<path stroke="#1400f8" d="M438.5 117.3h0"/>
<path stroke="#5aff84" d="M508.9 114.0h0"/>
<path stroke="#1400f8" d="M415.1 168.1h0"/>
<path stroke="#59fb8a" d="M416.0 44.3h0"/>
<path stroke="#1400f8" d="M428.7 83.3h0"/>
<path stroke="#2b3ff6" d="M496.6 52.0h0"/>
<path stroke="#5ad2a7" d="M491.5 201.8h0"/>
<path stroke="#3256ea" d="M391.5 83.1h0"/>
<path stroke="#2119fd" d="M514.4 52.3h0M535.8 41.8h0"/>
<path stroke="#1400f8" d="M445.4 165.1h0"/>
<path stroke="#5aff84" d="M520.3 126.5h0M515.0 124.6h0"/>
<path stroke="#1400f8" d="M440.3 83.1h0"/>
<path stroke="#59fb8a" d="M393.9 50.7h0"/>
<path stroke="#2d47f2" d="M448.0 93.4h0"/>
<path stroke="#438cc5" d="M448.0 200.3h0M449.9 120.5h0"/>
<path stroke="#3a6ede" d="M455.3 44.3h0"/>
<path stroke="#1400f8" d="M511.1 53.6h0"/>
<path stroke="#5afd88" d="M544.0 166.1h0"/>
<path stroke="#1400f8" d="M414.5 93.8h0"/>
<path stroke="#3256ea" d="M381.0 44.7h0"/>
<path stroke="#1400f8" d="M445.7 129.0h0M519.2 41.6h0M531.3 41.7h0"/>
<path stroke="#438cc5" d="M385.6 43.2h0"/>
<path stroke="#5aff84" d="M526.1 123.3h0"/>
<path stroke="#355ee6" d="M423.5 167.9h0"/>
<path stroke="#2119fd" d="M505.0 59.5h0"/>
<path stroke="#5aff84" d="M507.1 116.0h0"/>
<path stroke="#5afd88" d="M510.0 160.4h0"/>
<path stroke="#59fb8a" d="M430.6 44.8h0M505.4 90.4h0M468.6 90.4h0"/>
<path stroke="#3256ea" d="M426.0 89.3h0"/>
<path stroke="#355ee6" d="M476.1 166.5h0"/>
<path stroke="#438cc5" d="M465.2 203.5h0"/>
<path stroke="#3e7dd2" d="M466.1 83.0h0"/>
<path stroke="#4498c0" d="M567.0 87.7h0"/>
<path stroke="#2119fd" d="M533.6 47.4h0"/>
<path stroke="#1400f8" d="M449.9 166.5h0"/>
<path stroke="#59fb8a" d="M438.1 40.1h0"/>
<path stroke="#438cc5" d="M465.0 123.1h0"/>
<path stroke="#5aff84" d="M514.3 127.5h0"/>
<path stroke="#5ad2a7" d="M523.4 209.4h0"/>
<path stroke="#438cc5" d="M443.3 127.6h0"/>
<path stroke="#5ad2a7" d="M495.7 202.0h0M475.8 195.8h0"/>
<path stroke="#438cc5" d="M473.8 203.1h0"/>
<path stroke="#3256ea" d="M385.3 84.5h0"/>
<path stroke="#355ee6" d="M449.3 167.7h0"/>
<path stroke="#5afd88" d="M511.7 168.0h0"/>
<path stroke="#1400f8" d="M382.7 88.8h0M509.2 54.8h0M444.0 160.0h0"/>
<path stroke="#3a6ede" d="M459.6 49.1h0"/>
<path stroke="#3e7dd2" d="M440.9 47.6h0"/>
<path stroke="#1400f8" d="M417.9 80.1h0"/>
<path stroke="#5afd88" d="M524.5 164.9h0"/>
<path stroke="#1400f8" d="M467.3 170.7h0"/>
<path stroke="#5aff84" d="M499.4 125.0h0"/>
<path stroke="#4498c0" d="M567.0 86.2h0"/>
<path stroke="#1400f8" d="M524.7 47.6h0M469.8 194.5h0"/>
<path stroke="#5ad2a7" d="M496.5 198.9h0"/>
<path stroke="#438cc5" d="M497.6 96.7h0"/>
<path stroke="#2d47f2" d="M457.2 50.7h0"/>
<path stroke="#3e7dd2" d="M468.7 86.4h0"/>
<path stroke="#3256ea" d="M426.9 78.3h0"/>
<path stroke="#2119fd" d="M496.9 43.1h0"/>
<path stroke="#355ee6" d="M450.5 170.7h0"/>
<path stroke="#3256ea" d="M420.4 35.4h0"/>
<path stroke="#3e7dd2" d="M465.1 81.5h0"/>
<path stroke="#59fb8a" d="M414.0 55.1h0"/>
<path stroke="#1400f8" d="M499.6 53.8h0"/>
<path stroke="#5afd88" d="M534.8 204.6h0"/>
<path stroke="#1400f8" d="M510.1 41.7h0"/>
<path stroke="#59fb8a" d="M442.2 43.1h0"/>
<path stroke="#1400f8" d="M457.3 121.6h0M430.4 166.2h0M427.4 163.0h0M523.5 43.3h0M452.0 164.9h0M401.0 166.4h0"/>
<path stroke="#3256ea" d="M391.7 50.4h0"/>
<path stroke="#5aff84" d="M531.9 128.0h0"/>
<path stroke="#1400f8" d="M438.2 80.0h0M458.0 166.1h0M426.4 83.4h0"/>
<path stroke="#5afd88" d="M494.8 214.1h0"/>
<path stroke="#2d47f2" d="M520.0 83.0h0"/>
<path stroke="#1400f8" d="M504.7 38.6h0M545.6 44.8h0"/>
<path stroke="#438cc5" d="M503.5 84.6h0"/>
<path stroke="#59fb8a" d="M478.9 90.6h0"/>
<path stroke="#2b3ff6" d="M516.3 58.3h0"/>
<path stroke="#4fbab2" d="M489.6 91.8h0"/>
<path stroke="#2d47f2" d="M483.0 87.7h0"/>
<path stroke="#3256ea" d="M436.3 90.7h0"/>
<path stroke="#59fb8a" d="M477.2 78.6h0"/>
<path stroke="#1400f8" d="M452.7 155.8h0"/>
<path stroke="#5aff84" d="M546.9 126.0h0"/>
<path stroke="#5ad2a7" d="M486.2 206.2h0"/>
<path stroke="#5afd88" d="M512.4 208.1h0"/>
<path stroke="#3256ea" d="M393.8 86.0h0"/>
<path stroke="#438cc5" d="M462.0 126.1h0M408.8 37.2h0"/>
<path stroke="#4fbab2" d="M398.3 47.7h0"/>
<path stroke="#3256ea" d="M383.5 44.4h0"/>
<path stroke="#1400f8" d="M428.0 169.4h0"/>
<path stroke="#438cc5" d="M413.1 43.3h0"/>
<path stroke="#4498c0" d="M535.2 88.9h0"/>
<path stroke="#1400f8" d="M511.3 37.2h0M506.6 43.2h0"/>
<path stroke="#262ffb" d="M421.0 50.7h0"/>
<path stroke="#4fbab2" d="M442.2 56.6h0"/>
<path stroke="#355ee6" d="M449.0 171.1h0"/>
<path stroke="#59fb8a" d="M511.5 86.4h0M480.0 92.3h0"/>
<path stroke="#2528fc" d="M493.5 47.7h0"/>
<path stroke="#1400f8" d="M515.0 54.9h0"/>
<path stroke="#5aff84" d="M505.5 129.2h0"/>
<path stroke="#5afd88" d="M517.8 166.3h0"/>
<path stroke="#1400f8" d="M520.2 38.8h0"/>
<path stroke="#3e7dd2" d="M435.6 56.3h0"/>
<path stroke="#438cc5" d="M463.1 211.1h0"/>
<path stroke="#59fb8a" d="M436.3 46.3h0"/>
<path stroke="#262ffb" d="M409.2 41.7h0"/>
<path stroke="#2d47f2" d="M441.7 95.0h0"/>
<path stroke="#1400f8" d="M474.9 163.3h0"/>
<path stroke="#2d47f2" d="M458.9 50.5h0"/>
<path stroke="#1400f8" d="M417.9 87.5h0"/>
<path stroke="#5aff84" d="M522.0 121.9h0"/>
<path stroke="#4fbab2" d="M496.7 79.9h0"/>
<path stroke="#1400f8" d="M458.6 157.5h0"/>
<path stroke="#2d47f2" d="M433.8 38.8h0"/>
<path stroke="#59fb8a" d="M518.4 96.9h0"/>
<path stroke="#5afd88" d="M497.1 164.6h0"/>
<path stroke="#1400f8" d="M455.7 172.0h0"/>
<path stroke="#4498c0" d="M553.4 84.3h0"/>
<path stroke="#1400f8" d="M497.0 49.3h0"/>
<path stroke="#3256ea" d="M412.8 92.3h0"/>
<path stroke="#5afd88" d="M498.2 163.3h0"/>
<path stroke="#2119fd" d="M536.5 40.3h0"/>
<path stroke="#4498c0" d="M539.8 89.3h0"/>
<path stroke="#5aff84" d="M506.9 127.9h0"/>
<path stroke="#5afd88" d="M521.7 206.5h0"/>
<path stroke="#3a6ede" d="M464.1 44.3h0"/>
<path stroke="#438cc5" d="M459.5 133.9h0"/>
<path stroke="#5ad2a7" d="M478.8 207.8h0"/>
<path stroke="#355ee6" d="M461.6 164.8h0M420.6 167.8h0"/>
<path stroke="#4498c0" d="M538.2 83.1h0"/>
<path stroke="#1400f8" d="M450.9 210.6h0"/>
<path stroke="#2b3ff6" d="M442.3 207.8h0"/>
<path stroke="#4eb7b4" d="M563.9 166.3h0"/>
<path stroke="#5ad2a7" d="M499.5 209.2h0"/>
<path stroke="#2119fd" d="M516.4 55.3h0"/>
<path stroke="#355ee6" d="M460.2 172.5h0"/>
<path stroke="#438cc5" d="M470.7 196.1h0M443.2 212.6h0"/>
<path stroke="#2b3ff6" d="M476.7 198.6h0"/>
<path stroke="#438cc5" d="M375.8 49.3h0"/>
<path stroke="#4498c0" d="M533.1 84.6h0"/>
<path stroke="#4fbab2" d="M506.6 85.8h0"/>
<path stroke="#438cc5" d="M469.9 206.6h0"/>
<path stroke="#4fbab2" d="M472.7 90.4h0"/>
<path stroke="#1400f8" d="M452.8 176.5h0"/>
<path stroke="#438cc5" d="M505.3 75.6h0"/>
<path stroke="#1400f8" d="M397.5 86.2h0"/>
<path stroke="#59fb8a" d="M502.4 92.2h0M488.8 91.8h0"/>
<path stroke="#2d47f2" d="M467.3 85.9h0"/>
<path stroke="#5afd88" d="M503.2 205.1h0"/>
<path stroke="#59fb8a" d="M485.4 93.6h0"/>
<path stroke="#5ad2a7" d="M498.1 210.8h0"/>
<path stroke="#5aff84" d="M498.7 132.4h0"/>
<path stroke="#3256ea" d="M421.0 85.8h0"/>
<path stroke="#5afd88" d="M528.6 206.5h0"/>
<path stroke="#438cc5" d="M403.2 43.2h0"/>
<path stroke="#1400f8" d="M544.5 47.8h0"/>
<path stroke="#4fbab2" d="M429.4 56.3h0"/>
<path stroke="#438cc5" d="M476.6 212.7h0"/>
<path stroke="#4498c0" d="M551.5 87.6h0"/>
<path stroke="#4eb7b4" d="M506.0 169.0h0"/>
<path stroke="#3256ea" d="M408.4 53.5h0"/>
<path stroke="#2119fd" d="M531.9 50.3h0"/>
<path stroke="#438cc5" d="M470.5 123.3h0M517.0 80.0h0"/>
<path stroke="#2119fd" d="M531.1 52.2h0"/>
<path stroke="#5aff84" d="M503.5 136.4h0M487.7 125.0h0"/>
<path stroke="#438cc5" d="M415.8 206.3h0"/>
<path stroke="#5afd88" d="M523.9 206.5h0"/>
<path stroke="#1400f8" d="M527.0 53.4h0"/>
<path stroke="#2119fd" d="M534.6 50.7h0"/>
<path stroke="#5afd88" d="M536.6 164.7h0"/>
<path stroke="#3256ea" d="M384.3 47.8h0"/>
<path stroke="#1400f8" d="M363.4 84.4h0"/>
<path stroke="#3256ea" d="M403.5 87.6h0"/>
<path stroke="#2b3ff6" d="M424.7 206.6h0"/>
<path stroke="#1400f8" d="M399.8 81.3h0"/>
<path stroke="#438cc5" d="M376.9 49.0h0"/>
<path stroke="#2d47f2" d="M495.3 90.4h0"/>
<path stroke="#438cc5" d="M473.2 123.4h0"/>
<path stroke="#4eb7b4" d="M528.8 166.1h0"/>
<path stroke="#1400f8" d="M517.4 49.0h0"/>
<path stroke="#3e7dd2" d="M450.3 83.2h0"/>
<path stroke="#5aff84" d="M519.9 126.4h0"/>
<path stroke="#3e7dd2" d="M483.9 91.8h0"/>
<path stroke="#59fb8a" d="M442.9 50.5h0"/>
<path stroke="#5aff84" d="M514.6 118.5h0"/>
<path stroke="#5afd88" d="M515.2 170.6h0"/>
<path stroke="#4eb7b4" d="M491.7 164.8h0"/>
<path stroke="#59fb8a" d="M415.8 39.8h0"/>
<path stroke="#3256ea" d="M420.4 47.3h0"/>
<path stroke="#5aff84" d="M494.3 130.5h0"/>
<path stroke="#49abb9" d="M532.4 83.0h0"/>
<path stroke="#5aff84" d="M511.7 124.4h0"/>
<path stroke="#1400f8" d="M471.2 172.1h0"/>
<path stroke="#3e7dd2" d="M438.9 38.7h0"/>
<path stroke="#3256ea" d="M400.8 44.8h0"/>
<path stroke="#5aff84" d="M509.5 131.9h0"/>
<path stroke="#438cc5" d="M425.9 35.4h0"/>
<path stroke="#59fb8a" d="M422.3 37.0h0"/>
<path stroke="#5afd88" d="M523.2 204.6h0"/>
<path stroke="#1400f8" d="M447.8 158.7h0"/>
<path stroke="#4eb7b4" d="M534.3 167.7h0"/>
<path stroke="#59fb8a" d="M516.4 98.2h0"/>
<path stroke="#438cc5" d="M432.3 129.0h0"/>
<path stroke="#1400f8" d="M395.3 84.6h0"/>
<path stroke="#4fbab2" d="M483.9 84.7h0"/>
<path stroke="#3e7dd2" d="M443.8 38.7h0"/>
<path stroke="#1400f8" d="M425.3 78.8h0"/>
<path stroke="#438cc5" d="M453.1 212.2h0"/>
<path stroke="#1400f8" d="M414.3 83.0h0"/>
<path stroke="#1b07fd" d="M350.6 86.1h0"/>
<path stroke="#1400f8" d="M432.0 120.3h0M465.1 170.8h0"/>
<path stroke="#5aff84" d="M529.4 129.4h0"/>
<path stroke="#5afd88" d="M502.4 206.7h0"/>
<path stroke="#438cc5" d="M467.4 200.2h0"/>
<path stroke="#4eb7b4" d="M521.7 170.8h0"/>
<path stroke="#438cc5" d="M440.2 206.3h0"/>
<path stroke="#1400f8" d="M426.7 132.0h0M441.9 119.0h0"/>
<path stroke="#59fb8a" d="M503.2 76.9h0"/>
<path stroke="#3256ea" d="M422.9 52.1h0"/>
<path stroke="#2119fd" d="M504.3 53.5h0"/>
<path stroke="#2320fc" d="M448.9 38.3h0"/>
<path stroke="#5afd88" d="M527.6 204.9h0"/>
<path stroke="#1400f8" d="M430.9 126.0h0"/>
<path stroke="#355ee6" d="M457.4 170.7h0"/>
<path stroke="#59fb8a" d="M502.9 82.8h0"/>
<path stroke="#355ee6" d="M453.3 160.5h0"/>
<path stroke="#5aff84" d="M485.0 126.4h0"/>
<path stroke="#2b3ff6" d="M474.0 47.3h0"/>
<path stroke="#1400f8" d="M529.8 38.5h0"/>
<path stroke="#438cc5" d="M466.1 121.4h0"/>
<path stroke="#5ad2a7" d="M489.0 200.6h0"/>
<path stroke="#1400f8" d="M428.4 127.9h0"/>
<path stroke="#59fb8a" d="M412.7 44.5h0"/>
<path stroke="#2d47f2" d="M443.2 40.1h0"/>
<path stroke="#1400f8" d="M464.1 161.6h0"/>
<path stroke="#438cc5" d="M452.9 124.8h0M393.4 43.3h0"/>
<path stroke="#3256ea" d="M428.6 93.8h0"/>
<path stroke="#1400f8" d="M439.5 78.4h0M504.2 51.9h0"/>
<path stroke="#5ad2a7" d="M491.3 214.1h0"/>
<path stroke="#438cc5" d="M435.5 118.8h0"/>
<path stroke="#4498c0" d="M536.6 84.5h0"/>
<path stroke="#59fb8a" d="M514.3 84.4h0"/>
<path stroke="#1400f8" d="M389.4 84.3h0M434.4 78.4h0"/>
<path stroke="#3256ea" d="M419.5 78.6h0"/>
<path stroke="#438cc5" d="M454.6 138.1h0"/>
<path stroke="#2320fc" d="M439.5 50.6h0"/>
<path stroke="#2b3ff6" d="M486.0 44.7h0"/>
<path stroke="#59fb8a" d="M503.2 90.3h0M376.4 47.6h0"/>
<path stroke="#5aff84" d="M516.9 123.1h0"/>
<path stroke="#2b3ff6" d="M524.1 35.4h0"/>
<path stroke="#1400f8" d="M504.9 55.3h0"/>
<path stroke="#438cc5" d="M435.3 123.5h0"/>
<path stroke="#3256ea" d="M393.1 87.8h0"/>
<path stroke="#1400f8" d="M435.0 126.2h0"/>
<path stroke="#5aff84" d="M500.2 133.7h0"/>
<path stroke="#1400f8" d="M451.3 169.4h0"/>
<path stroke="#5aff84" d="M526.2 127.7h0"/>
<path stroke="#1400f8" d="M534.1 48.9h0"/>
<path stroke="#3256ea" d="M401.2 78.6h0"/>
<path stroke="#355ee6" d="M472.9 168.0h0"/>
<path stroke="#1400f8" d="M437.8 87.4h0"/>
<path stroke="#4eb7b4" d="M508.6 163.4h0"/>
<path stroke="#3256ea" d="M408.2 87.7h0M408.6 46.2h0"/>
<path stroke="#1400f8" d="M387.5 87.7h0M518.7 42.9h0"/>
<path stroke="#4eb7b4" d="M499.1 169.5h0"/>
<path stroke="#5ad2a7" d="M463.7 218.2h0M485.9 212.7h0"/>
<path stroke="#1400f8" d="M393.2 89.1h0"/>
<path stroke="#4eb7b4" d="M507.6 169.6h0"/>
<path stroke="#2d47f2" d="M448.2 50.3h0"/>
<path stroke="#1400f8" d="M453.1 206.2h0"/>
<path stroke="#2d47f2" d="M449.5 46.0h0"/>
<path stroke="#1400f8" d="M440.6 161.5h0"/>
<path stroke="#5ad2a7" d="M492.5 212.2h0"/>
<path stroke="#5aff84" d="M495.7 121.4h0"/>
<path stroke="#1400f8" d="M532.5 46.2h0M425.6 81.3h0"/>
<path stroke="#59fb8a" d="M504.1 86.0h0"/>
<path stroke="#355ee6" d="M465.9 166.1h0"/>
<path stroke="#4fbab2" d="M408.3 40.0h0"/>
<path stroke="#59fb8a" d="M424.2 56.3h0"/>
<path stroke="#5ad2a7" d="M481.8 212.1h0"/>
<path stroke="#5afd88" d="M502.8 201.7h0"/>
<path stroke="#1400f8" d="M433.5 166.5h0"/>
<path stroke="#355ee6" d="M436.5 161.6h0"/>
<path stroke="#438cc5" d="M513.7 93.3h0"/>
<path stroke="#262ffb" d="M408.7 47.7h0"/>
<path stroke="#1400f8" d="M438.0 169.6h0"/>
<path stroke="#4eb7b4" d="M518.0 163.4h0"/>
<path stroke="#5ad2a7" d="M488.4 213.7h0"/>
<path stroke="#4fbab2" d="M506.8 87.9h0"/>
<path stroke="#59fb8a" d="M433.0 48.9h0"/>
<path stroke="#4eb7b4" d="M528.2 164.6h0"/>
<path stroke="#2d47f2" d="M442.0 87.5h0"/>
<path stroke="#3256ea" d="M426.1 58.2h0"/>
<path stroke="#5afd88" d="M509.8 168.0h0"/>
<path stroke="#5aff84" d="M513.6 126.3h0"/>
<path stroke="#2d47f2" d="M451.7 44.3h0"/>
<path stroke="#438cc5" d="M348.7 45.9h0"/>
<path stroke="#2d47f2" d="M451.3 83.0h0"/>
<path stroke="#4eb7b4" d="M490.0 166.3h0"/>
<path stroke="#438cc5" d="M455.0 208.2h0"/>
<path stroke="#1400f8" d="M458.7 164.8h0"/>
<path stroke="#3a6ede" d="M454.4 48.8h0"/>
<path stroke="#3256ea" d="M400.5 92.0h0"/>
<path stroke="#2b3ff6" d="M474.1 43.1h0"/>
<path stroke="#5aff84" d="M503.0 126.0h0"/>
<path stroke="#1400f8" d="M414.1 166.5h0"/>
<path stroke="#438cc5" d="M504.2 98.2h0"/>
<path stroke="#3256ea" d="M366.5 46.0h0"/>
<path stroke="#5afd88" d="M516.6 165.0h0"/>
<path stroke="#2119fd" d="M503.0 50.7h0"/>
<path stroke="#1400f8" d="M411.4 86.2h0"/>
<path stroke="#2d47f2" d="M474.1 80.2h0"/>
<path stroke="#5afd88" d="M533.4 206.4h0"/>
<path stroke="#59fb8a" d="M473.8 88.9h0"/>
<path stroke="#3e7dd2" d="M464.8 85.8h0"/>
<path stroke="#1400f8" d="M508.6 59.3h0"/>
<path stroke="#438cc5" d="M468.5 206.3h0"/>
<path stroke="#1400f8" d="M463.8 160.3h0"/>
<path stroke="#4fbab2" d="M404.6 44.7h0M515.5 73.9h0"/>
<path stroke="#4498c0" d="M527.2 87.4h0"/>
<path stroke="#4fbab2" d="M432.6 46.3h0"/>
<path stroke="#1400f8" d="M435.4 160.1h0"/>
<path stroke="#2d47f2" d="M451.5 80.1h0"/>
<path stroke="#438cc5" d="M438.5 132.0h0"/>
<path stroke="#3e7dd2" d="M440.3 37.3h0"/>
<path stroke="#4498c0" d="M539.4 83.0h0"/>
<path stroke="#1400f8" d="M459.3 161.8h0"/>
<path stroke="#4fbab2" d="M495.8 92.3h0"/>
<path stroke="#59fb8a" d="M512.9 91.9h0"/>
<path stroke="#1400f8" d="M409.4 90.5h0M412.3 89.0h0"/>
<path stroke="#355ee6" d="M417.3 167.9h0"/>
<path stroke="#1400f8" d="M473.3 200.3h0"/>
<path stroke="#438cc5" d="M475.7 212.5h0"/>
<path stroke="#3e7dd2" d="M474.0 92.0h0"/>
<path stroke="#1400f8" d="M515.0 50.7h0"/>
<path stroke="#3256ea" d="M408.6 51.9h0M423.2 90.5h0"/>
<path stroke="#4498c0" d="M524.4 84.3h0"/>
<path stroke="#3a6ede" d="M453.5 47.6h0"/>
<path stroke="#59fb8a" d="M519.8 87.6h0"/>
<path stroke="#438cc5" d="M450.3 205.1h0"/>
<path stroke="#4498c0" d="M521.8 87.5h0"/>
<path stroke="#2d47f2" d="M479.4 78.6h0"/>
<path stroke="#438cc5" d="M432.3 124.6h0"/>
<path stroke="#3e7dd2" d="M453.8 84.7h0"/>
<path stroke="#1400f8" d="M445.7 126.5h0"/>
<path stroke="#3256ea" d="M416.4 38.4h0"/>
<path stroke="#5aff84" d="M544.8 126.1h0"/>
<path stroke="#438cc5" d="M410.9 206.7h0"/>
<path stroke="#5aff84" d="M489.9 124.5h0"/>
<path stroke="#1400f8" d="M542.7 47.6h0M407.0 90.6h0"/>
<path stroke="#438cc5" d="M386.0 45.9h0"/>
<path stroke="#1400f8" d="M474.8 128.0h0M384.7 82.9h0"/>
<path stroke="#2d47f2" d="M444.3 92.4h0"/>
<path stroke="#3256ea" d="M426.2 56.5h0"/>
<path stroke="#438cc5" d="M443.5 203.5h0M456.3 117.0h0M440.2 134.9h0"/>
<path stroke="#2119fd" d="M504.9 48.8h0"/>
<path stroke="#2b3ff6" d="M432.0 206.1h0"/>
<path stroke="#3256ea" d="M402.4 81.7h0"/>
<path stroke="#59fb8a" d="M511.2 81.8h0"/>
<path stroke="#4fbab2" d="M423.7 57.8h0"/>
<path stroke="#438cc5" d="M474.9 200.4h0"/>
<path stroke="#5aff84" d="M516.4 125.0h0"/>
<path stroke="#1400f8" d="M450.5 160.4h0"/>
<path stroke="#2320fc" d="M343.4 86.1h0"/>
<path stroke="#4fbab2" d="M404.5 53.6h0"/>
<path stroke="#49abb9" d="M533.5 89.3h0"/>
<path stroke="#438cc5" d="M446.9 115.6h0"/>
<path stroke="#3256ea" d="M412.3 38.4h0"/>
<path stroke="#2119fd" d="M544.8 41.6h0"/>
<path stroke="#438cc5" d="M478.5 203.4h0"/>
<path stroke="#4eb7b4" d="M523.1 169.3h0"/>
<path stroke="#1400f8" d="M409.4 78.6h0"/>
<path stroke="#438cc5" d="M448.0 202.0h0"/>
<path stroke="#1400f8" d="M557.0 45.9h0"/>
<path stroke="#438cc5" d="M394.1 52.2h0"/>
<path stroke="#5ad2a7" d="M491.0 206.4h0"/>
<path stroke="#5aff84" d="M491.9 124.6h0"/>
<path stroke="#3256ea" d="M403.0 45.9h0"/>
<path stroke="#4fbab2" d="M400.4 38.8h0"/>
<path stroke="#5afd88" d="M497.6 203.6h0"/>
<path stroke="#1400f8" d="M459.7 117.3h0"/>
<path stroke="#49abb9" d="M551.0 86.1h0"/>
<path stroke="#1400f8" d="M494.2 49.1h0"/>
<path stroke="#3256ea" d="M405.2 87.8h0"/>
<path stroke="#3e7dd2" d="M475.2 86.3h0"/>
<path stroke="#1400f8" d="M402.1 126.4h0"/>
<path stroke="#355ee6" d="M442.2 163.1h0"/>
<path stroke="#5afd88" d="M527.5 163.4h0"/>
<path stroke="#2d47f2" d="M455.9 87.3h0"/>
<path stroke="#5afd88" d="M546.3 206.2h0"/>
<path stroke="#3a6ede" d="M460.9 41.3h0"/>
<path stroke="#59fb8a" d="M403.8 38.5h0"/>
<path stroke="#4eb7b4" d="M518.5 171.1h0"/>
<path stroke="#5ad2a7" d="M485.2 211.2h0"/>
<path stroke="#1400f8" d="M385.6 81.9h0"/>
<path stroke="#3256ea" d="M394.2 92.1h0"/>
<path stroke="#59fb8a" d="M478.3 89.4h0"/>
<path stroke="#1400f8" d="M526.1 56.7h0"/>
<path stroke="#3e7dd2" d="M449.8 86.3h0"/>
<path stroke="#3256ea" d="M403.9 80.4h0"/>
<path stroke="#438cc5" d="M411.9 37.2h0"/>
<path stroke="#59fb8a" d="M518.1 95.3h0"/>
<path stroke="#5ad2a7" d="M490.3 207.7h0"/>
<path stroke="#438cc5" d="M445.1 208.2h0M453.3 203.2h0"/>
<path stroke="#3e7dd2" d="M434.3 41.3h0"/>
<path stroke="#5aff84" d="M505.6 116.0h0"/>
<path stroke="#59fb8a" d="M512.9 74.0h0"/>
<path stroke="#1400f8" d="M414.7 129.2h0M377.6 126.2h0"/>
<path stroke="#3256ea" d="M381.0 42.8h0"/>
<path stroke="#5ad2a7" d="M464.6 194.5h0"/>
<path stroke="#3256ea" d="M368.8 84.7h0"/>
<path stroke="#4fbab2" d="M518.4 91.8h0"/>
<path stroke="#1400f8" d="M515.2 43.2h0"/>
<path stroke="#438cc5" d="M438.7 120.3h0"/>
<path stroke="#2d47f2" d="M502.4 98.1h0"/>
<path stroke="#1400f8" d="M494.3 39.9h0"/>
<path stroke="#3e7dd2" d="M443.4 79.9h0"/>
<path stroke="#1400f8" d="M430.2 127.8h0"/>
<path stroke="#438cc5" d="M443.8 132.3h0"/>
<path stroke="#5ad2a7" d="M488.0 203.4h0"/>
<path stroke="#5afd88" d="M515.5 164.8h0"/>
<path stroke="#3256ea" d="M426.0 55.2h0"/>
<path stroke="#2b3ff6" d="M473.9 44.7h0"/>
<path stroke="#438cc5" d="M372.4 49.2h0"/>
<path stroke="#5afd88" d="M508.9 162.1h0"/>
<path stroke="#1400f8" d="M412.6 127.7h0"/>
<path stroke="#5ad2a7" d="M492.7 200.6h0"/>
<path stroke="#4fbab2" d="M418.1 42.8h0"/>
<path stroke="#438cc5" d="M459.4 132.5h0M459.4 124.6h0M473.1 199.1h0M407.5 123.0h0"/>
<path stroke="#59fb8a" d="M435.7 54.9h0"/>
<path stroke="#2119fd" d="M520.5 38.6h0"/>
<path stroke="#4fbab2" d="M394.9 40.2h0"/>
<path stroke="#5ad2a7" d="M486.7 213.8h0"/>
<path stroke="#438cc5" d="M445.7 120.5h0"/>
<path stroke="#4498c0" d="M541.2 90.6h0"/>
<path stroke="#2320fc" d="M445.8 40.3h0"/>
<path stroke="#5afd88" d="M523.8 167.7h0"/>
<path stroke="#1400f8" d="M407.5 127.5h0M450.0 124.9h0M438.7 93.8h0"/>
<path stroke="#2119fd" d="M503.4 35.5h0"/>
<path stroke="#438cc5" d="M441.2 205.1h0M447.2 210.6h0"/>
<path stroke="#4eb7b4" d="M504.4 163.3h0"/>
<path stroke="#438cc5" d="M453.8 209.5h0"/>
<path stroke="#1400f8" d="M408.1 92.2h0"/>
<path stroke="#4498c0" d="M563.8 87.3h0"/>
<path stroke="#438cc5" d="M423.8 205.1h0"/>
<path stroke="#2119fd" d="M507.9 56.8h0"/>
<path stroke="#4498c0" d="M520.2 85.9h0"/>
<path stroke="#1400f8" d="M436.5 78.4h0M410.5 80.3h0"/>
<path stroke="#59fb8a" d="M484.7 88.9h0"/>
<path stroke="#1400f8" d="M441.8 84.5h0"/>
<path stroke="#2d47f2" d="M449.5 81.6h0"/>
<path stroke="#5afd88" d="M503.0 163.2h0"/>
<path stroke="#262ffb" d="M416.4 46.2h0"/>
<path stroke="#59fb8a" d="M403.3 37.1h0"/>
<path stroke="#3e7dd2" d="M441.4 53.7h0"/>
<path stroke="#438cc5" d="M461.9 200.6h0"/>
<path stroke="#2d47f2" d="M431.7 35.7h0"/>
<path stroke="#3256ea" d="M382.8 84.9h0"/>
<path stroke="#438cc5" d="M451.3 127.5h0"/>
<path stroke="#4fbab2" d="M480.2 86.0h0"/>
<path stroke="#59fb8a" d="M494.2 86.3h0"/>
<path stroke="#5aff84" d="M501.9 133.4h0"/>
<path stroke="#5afd88" d="M523.1 161.5h0"/>
<path stroke="#59fb8a" d="M503.5 89.4h0"/>
<path stroke="#4fbab2" d="M486.6 78.7h0"/>
<path stroke="#438cc5" d="M454.6 121.6h0"/>
<path stroke="#2320fc" d="M440.1 35.6h0"/>
<path stroke="#2d47f2" d="M436.5 37.3h0M437.7 35.4h0"/>
<path stroke="#5aff84" d="M514.7 132.0h0"/>
<path stroke="#1400f8" d="M512.9 39.9h0M437.1 121.6h0M515.4 46.3h0"/>
<path stroke="#2b3ff6" d="M493.6 42.8h0"/>
<path stroke="#5afd88" d="M500.5 201.6h0"/>
<path stroke="#438cc5" d="M388.9 46.1h0"/>
<path stroke="#5aff84" d="M504.0 114.5h0M515.0 116.0h0"/>
<path stroke="#2b3ff6" d="M518.2 55.3h0"/>
<path stroke="#438cc5" d="M433.1 130.8h0"/>
<path stroke="#1400f8" d="M554.4 46.0h0"/>
<path stroke="#2d47f2" d="M511.6 89.0h0"/>
<path stroke="#4fbab2" d="M514.7 98.1h0"/>
<path stroke="#438cc5" d="M463.8 126.0h0"/>
<path stroke="#2b3ff6" d="M473.0 50.3h0"/>
<path stroke="#1400f8" d="M425.8 87.6h0M429.4 91.9h0"/>
<path stroke="#4eb7b4" d="M500.9 169.6h0"/>
<path stroke="#438cc5" d="M438.3 204.8h0"/>
<path stroke="#59fb8a" d="M404.7 39.9h0"/>
<path stroke="#2b3ff6" d="M446.0 206.4h0"/>
<path stroke="#438cc5" d="M476.7 200.3h0"/>
<path stroke="#2d47f2" d="M459.6 41.7h0"/>
<path stroke="#438cc5" d="M474.8 204.6h0M426.0 205.2h0"/>
<path stroke="#3256ea" d="M401.9 50.6h0"/>
<path stroke="#5afd88" d="M532.6 164.9h0"/>
<path stroke="#1400f8" d="M448.7 89.2h0M454.0 169.4h0M523.0 46.0h0"/>
<path stroke="#59fb8a" d="M506.7 78.7h0"/>
<path stroke="#3256ea" d="M389.0 85.9h0"/>
<path stroke="#1400f8" d="M456.9 86.0h0M471.9 169.3h0"/>
<path stroke="#5ad2a7" d="M491.8 210.6h0M497.6 212.2h0"/>
<path stroke="#4fbab2" d="M420.7 46.0h0"/>
<path stroke="#2b3ff6" d="M477.6 43.0h0"/>
<path stroke="#5ad2a7" d="M481.0 207.6h0"/>
<path stroke="#438cc5" d="M398.5 41.8h0"/>
<path stroke="#5aff84" d="M512.1 117.3h0"/>
<path stroke="#1400f8" d="M415.5 124.8h0"/>
<path stroke="#59fb8a" d="M516.9 87.7h0"/>
<path stroke="#438cc5" d="M452.0 117.2h0"/>
<path stroke="#2d47f2" d="M449.9 43.3h0"/>
<path stroke="#3256ea" d="M367.5 87.8h0"/>
<path stroke="#1400f8" d="M505.8 57.8h0"/>
<path stroke="#59fb8a" d="M475.0 91.9h0"/>
<path stroke="#1400f8" d="M409.6 80.3h0"/>
<path stroke="#5aff84" d="M509.8 125.0h0"/>
<path stroke="#2119fd" d="M526.9 49.0h0"/>
<path stroke="#5afd88" d="M505.5 171.1h0"/>
<path stroke="#2119fd" d="M516.0 34.3h0"/>
<path stroke="#3256ea" d="M401.8 87.8h0"/>
<path stroke="#3e7dd2" d="M462.5 89.1h0"/>
<path stroke="#49abb9" d="M528.4 81.6h0"/>
<path stroke="#1400f8" d="M379.2 84.8h0"/>
<path stroke="#2119fd" d="M518.0 41.8h0"/>
<path stroke="#438cc5" d="M427.8 129.5h0"/>
<path stroke="#3a6ede" d="M465.1 49.0h0"/>
<path stroke="#2b3ff6" d="M433.9 206.6h0"/>
<path stroke="#4fbab2" d="M515.2 90.4h0"/>
<path stroke="#438cc5" d="M435.5 133.5h0"/>
<path stroke="#59fb8a" d="M495.6 96.3h0"/>
<path stroke="#5ad2a7" d="M478.5 204.8h0M498.0 202.0h0"/>
<path stroke="#1400f8" d="M467.2 173.7h0"/>
<path stroke="#59fb8a" d="M509.1 96.4h0"/>
<path stroke="#1400f8" d="M408.5 89.0h0M514.3 37.1h0"/>
<path stroke="#5afd88" d="M484.0 166.2h0"/>
<path stroke="#4fbab2" d="M414.4 53.3h0"/>
<path stroke="#438cc5" d="M451.8 120.0h0"/>
<path stroke="#59fb8a" d="M418.7 45.9h0"/>
<path stroke="#438cc5" d="M452.8 115.5h0"/>
<path stroke="#2d47f2" d="M493.5 89.0h0"/>
<path stroke="#1400f8" d="M417.8 126.2h0"/>
<path stroke="#2528fc" d="M482.5 47.8h0"/>
<path stroke="#355ee6" d="M441.7 170.7h0"/>
<path stroke="#4498c0" d="M553.9 86.0h0"/>
<path stroke="#5afd88" d="M527.1 207.9h0"/>
<path stroke="#1400f8" d="M409.4 93.3h0M425.9 164.9h0"/>
<path stroke="#438cc5" d="M458.1 206.6h0"/>
<path stroke="#1400f8" d="M459.2 163.1h0"/>
<path stroke="#3256ea" d="M418.3 51.9h0"/>
<path stroke="#2b3ff6" d="M483.0 43.0h0"/>
<path stroke="#438cc5" d="M511.4 97.9h0"/>
<path stroke="#2b3ff6" d="M491.6 44.4h0"/>
<path stroke="#3256ea" d="M414.6 86.4h0"/>
<path stroke="#262ffb" d="M409.7 50.6h0"/>
<path stroke="#2d47f2" d="M467.8 48.9h0"/>
<path stroke="#1400f8" d="M529.8 40.0h0"/>
<path stroke="#2b3ff6" d="M525.5 54.9h0"/>
<path stroke="#5aff84" d="M510.1 136.8h0"/>
<path stroke="#438cc5" d="M431.6 130.4h0"/>
<path stroke="#5aff84" d="M498.8 120.0h0"/>
<path stroke="#59fb8a" d="M498.2 87.8h0"/>
<path stroke="#5ad2a7" d="M493.1 202.1h0M494.5 200.1h0"/>
<path stroke="#2d47f2" d="M476.0 81.6h0"/>
<path stroke="#1400f8" d="M433.1 78.5h0M434.3 81.8h0"/>
<path stroke="#3256ea" d="M431.3 83.1h0"/>
<path stroke="#59fb8a" d="M389.2 43.3h0"/>
<path stroke="#2b3ff6" d="M471.2 197.7h0"/>
<path stroke="#2d47f2" d="M499.2 92.2h0"/>
<path stroke="#59fb8a" d="M440.7 44.4h0"/>
<path stroke="#5aff84" d="M494.1 127.5h0"/>
<path stroke="#438cc5" d="M452.5 135.3h0"/>
<path stroke="#5afd88" d="M513.3 209.4h0"/>
<path stroke="#2b3ff6" d="M486.1 48.9h0"/>
<path stroke="#2d47f2" d="M447.5 90.8h0"/>
<path stroke="#3e7dd2" d="M443.8 48.9h0M464.6 89.0h0"/>
<path stroke="#438cc5" d="M415.1 37.2h0"/>
<path stroke="#2b3ff6" d="M413.0 206.5h0"/>
<path stroke="#4fbab2" d="M397.1 43.2h0"/>
<path stroke="#2119fd" d="M505.4 34.3h0M537.8 46.2h0"/>
<path stroke="#59fb8a" d="M422.6 53.5h0"/>
<path stroke="#5aff84" d="M489.1 126.3h0"/>
<path stroke="#1400f8" d="M531.5 48.8h0"/>
<path stroke="#438cc5" d="M516.4 93.8h0"/>
<path stroke="#3e7dd2" d="M463.8 84.7h0"/>
<path stroke="#355ee6" d="M462.3 168.0h0"/>
<path stroke="#3256ea" d="M411.8 83.2h0"/>
<path stroke="#2b3ff6" d="M492.3 50.8h0"/>
<path stroke="#438cc5" d="M445.2 209.6h0"/>
<path stroke="#1400f8" d="M426.7 126.1h0"/>
<path stroke="#438cc5" d="M419.3 130.7h0"/>
<path stroke="#3e7dd2" d="M439.7 46.3h0"/>
<path stroke="#59fb8a" d="M411.2 35.8h0"/>
<path stroke="#5aff84" d="M496.2 124.7h0"/>
<path stroke="#438cc5" d="M449.2 130.7h0"/>
<path stroke="#5aff84" d="M509.4 123.1h0"/>
<path stroke="#2d47f2" d="M479.4 82.9h0"/>
<path stroke="#59fb8a" d="M495.7 88.9h0"/>
<path stroke="#438cc5" d="M450.9 126.3h0"/>
<path stroke="#1400f8" d="M432.3 132.0h0M471.9 201.9h0"/>
<path stroke="#438cc5" d="M503.3 75.7h0"/>
<path stroke="#3256ea" d="M416.3 80.2h0"/>
<path stroke="#3e7dd2" d="M443.1 90.4h0"/>
<path stroke="#1400f8" d="M516.0 46.1h0M417.8 83.3h0M442.9 77.1h0"/>
<path stroke="#3256ea" d="M420.1 41.6h0"/>
<path stroke="#2d47f2" d="M431.3 55.3h0"/>
<path stroke="#4eb7b4" d="M494.4 166.3h0"/>
<path stroke="#59fb8a" d="M428.2 47.3h0"/>
<path stroke="#4eb7b4" d="M486.9 164.8h0"/>
<path stroke="#1400f8" d="M437.8 164.5h0"/>
<path stroke="#59fb8a" d="M397.4 52.2h0"/>
<path stroke="#355ee6" d="M447.5 175.5h0"/>
<path stroke="#1400f8" d="M519.2 36.9h0"/>
<path stroke="#355ee6" d="M443.5 166.2h0"/>
<path stroke="#4eb7b4" d="M527.5 166.2h0"/>
<path stroke="#1400f8" d="M432.4 163.3h0"/>
<path stroke="#4498c0" d="M535.3 83.4h0"/>
<path stroke="#1400f8" d="M429.1 95.1h0"/>
<path stroke="#5aff84" d="M527.2 129.0h0"/>
<path stroke="#5afd88" d="M523.1 164.8h0M517.8 169.4h0"/>
<path stroke="#1400f8" d="M505.5 50.8h0M471.4 161.8h0"/>
<path stroke="#5aff84" d="M500.9 135.1h0"/>
<path stroke="#1400f8" d="M465.3 132.0h0"/>
<path stroke="#2d47f2" d="M513.8 92.4h0"/>
<path stroke="#1400f8" d="M446.8 87.5h0"/>
<path stroke="#2119fd" d="M522.5 44.6h0"/>
<path stroke="#438cc5" d="M473.8 207.7h0"/>
<path stroke="#3e7dd2" d="M441.9 81.5h0"/>
<path stroke="#59fb8a" d="M493.0 95.1h0"/>
<path stroke="#1400f8" d="M463.6 163.1h0"/>
<path stroke="#2b3ff6" d="M531.4 43.1h0"/>
<path stroke="#2119fd" d="M499.0 47.8h0"/>
<path stroke="#3256ea" d="M394.2 78.4h0"/>
<path stroke="#1400f8" d="M539.5 50.8h0"/>
<path stroke="#438cc5" d="M453.9 213.8h0"/>
<path stroke="#1400f8" d="M389.5 88.9h0M458.9 154.4h0"/>
<path stroke="#5ad2a7" d="M470.6 202.0h0"/>
<path stroke="#5afd88" d="M511.4 208.1h0"/>
<path stroke="#3e7dd2" d="M490.1 93.5h0"/>
<path stroke="#3256ea" d="M404.1 81.6h0"/>
<path stroke="#438cc5" d="M423.2 129.2h0"/>
<path stroke="#5aff84" d="M529.8 123.3h0M507.3 121.6h0"/>
<path stroke="#1400f8" d="M460.9 177.0h0"/>
<path stroke="#4eb7b4" d="M506.5 167.9h0"/>
<path stroke="#438cc5" d="M398.8 128.0h0"/>
<path stroke="#3e7dd2" d="M483.0 86.1h0"/>
<path stroke="#355ee6" d="M437.2 163.4h0"/>
<path stroke="#1400f8" d="M466.6 211.0h0"/>
<path stroke="#2119fd" d="M533.9 53.7h0"/>
<path stroke="#4eb7b4" d="M498.9 167.6h0"/>
<path stroke="#438cc5" d="M450.0 136.6h0"/>
<path stroke="#4eb7b4" d="M510.1 172.4h0"/>
<path stroke="#3256ea" d="M391.3 85.9h0"/>
<path stroke="#438cc5" d="M477.3 209.6h0"/>
<path stroke="#355ee6" d="M450.0 157.2h0"/>
<path stroke="#5afd88" d="M545.6 207.7h0"/>
<path stroke="#2119fd" d="M512.4 55.2h0"/>
<path stroke="#1400f8" d="M465.4 172.4h0"/>
<path stroke="#4fbab2" d="M507.3 90.5h0"/>
<path stroke="#59fb8a" d="M540.9 84.8h0"/>
<path stroke="#5aff84" d="M515.1 123.1h0"/>
<path stroke="#2119fd" d="M520.6 40.0h0"/>
<path stroke="#438cc5" d="M423.0 126.3h0"/>
<path stroke="#1400f8" d="M433.6 169.4h0"/>
<path stroke="#3a6ede" d="M456.7 43.2h0"/>
<path stroke="#5aff84" d="M533.3 126.1h0M528.4 124.8h0"/>
<path stroke="#2b3ff6" d="M500.3 43.0h0"/>
<path stroke="#1400f8" d="M448.3 163.2h0"/>
<path stroke="#3e7dd2" d="M449.8 84.4h0"/>
<path stroke="#3256ea" d="M376.1 47.5h0"/>
<path stroke="#1400f8" d="M391.8 125.9h0"/>
<path stroke="#438cc5" d="M465.1 206.2h0"/>
<path stroke="#5afd88" d="M509.2 208.0h0"/>
<path stroke="#438cc5" d="M405.2 208.1h0"/>
<path stroke="#2d47f2" d="M461.5 47.5h0"/>
<path stroke="#1400f8" d="M421.2 91.9h0"/>
<path stroke="#2b3ff6" d="M472.2 47.6h0"/>
<path stroke="#3256ea" d="M387.9 89.4h0"/>
<path stroke="#1400f8" d="M419.2 129.3h0M414.5 90.4h0"/>
<path stroke="#4eb7b4" d="M509.6 166.2h0"/>
<path stroke="#438cc5" d="M331.4 46.0h0"/>
<path stroke="#1400f8" d="M516.4 50.8h0M383.7 124.9h0M465.2 120.2h0"/>
<path stroke="#5ad2a7" d="M499.6 208.0h0"/>
<path stroke="#355ee6" d="M456.1 157.2h0M464.2 161.6h0"/>
<path stroke="#1400f8" d="M401.2 127.7h0"/>
<path stroke="#5aff84" d="M509.4 117.0h0"/>
<path stroke="#3e7dd2" d="M472.9 87.9h0"/>
<path stroke="#1400f8" d="M523.0 52.2h0"/>
<path stroke="#438cc5" d="M451.9 208.0h0"/>
<path stroke="#3e7dd2" d="M470.3 84.4h0"/>
<path stroke="#438cc5" d="M455.7 114.5h0"/>
<path stroke="#1400f8" d="M461.3 175.2h0M527.4 41.3h0"/>
<path stroke="#4498c0" d="M542.0 89.1h0"/>
<path stroke="#5aff84" d="M512.7 125.9h0"/>
<path stroke="#3a6ede" d="M459.7 44.7h0"/>
<path stroke="#1400f8" d="M520.0 46.1h0"/>
<path stroke="#4fbab2" d="M437.4 55.3h0"/>
<path stroke="#2b3ff6" d="M464.2 215.6h0"/>
<path stroke="#3e7dd2" d="M462.5 87.6h0"/>
<path stroke="#4fbab2" d="M392.5 44.8h0"/>
<path stroke="#438cc5" d="M385.1 44.6h0"/>
<path stroke="#2119fd" d="M510.3 37.1h0"/>
<path stroke="#3256ea" d="M392.1 84.4h0"/>
<path stroke="#2320fc" d="M433.5 36.9h0"/>
<path stroke="#1400f8" d="M508.1 41.8h0"/>
<path stroke="#438cc5" d="M440.6 130.9h0"/>
<path stroke="#2b3ff6" d="M482.9 48.9h0M522.0 53.7h0"/>
<path stroke="#5aff84" d="M511.5 132.0h0"/>
<path stroke="#2d47f2" d="M462.4 50.6h0"/>
<path stroke="#438cc5" d="M393.5 48.8h0"/>
<path stroke="#59fb8a" d="M513.5 74.4h0"/>
<path stroke="#1400f8" d="M481.7 164.7h0M503.1 56.7h0"/>
<path stroke="#59fb8a" d="M497.0 83.3h0"/>
<path stroke="#438cc5" d="M360.1 46.0h0"/>
<path stroke="#3256ea" d="M404.9 78.4h0"/>
<path stroke="#5afd88" d="M522.1 163.2h0"/>
<path stroke="#2d47f2" d="M462.7 42.8h0"/>
<path stroke="#49abb9" d="M525.9 83.0h0"/>
<path stroke="#438cc5" d="M410.1 127.6h0"/>
<path stroke="#3256ea" d="M373.7 87.3h0"/>
<path stroke="#2b3ff6" d="M476.9 49.2h0"/>
<path stroke="#5aff84" d="M512.3 121.8h0"/>
<path stroke="#4498c0" d="M525.0 86.3h0"/>
<path stroke="#1400f8" d="M449.1 176.7h0"/>
<path stroke="#2b3ff6" d="M418.5 204.8h0"/>
<path stroke="#438cc5" d="M456.0 133.9h0"/>
<path stroke="#5aff84" d="M536.0 124.5h0"/>
<path stroke="#3e7dd2" d="M442.4 41.8h0"/>
<path stroke="#5ad2a7" d="M473.4 203.2h0"/>
<path stroke="#355ee6" d="M444.4 170.7h0"/>
<path stroke="#2119fd" d="M540.8 43.0h0"/>
<path stroke="#59fb8a" d="M391.2 48.8h0"/>
<path stroke="#3256ea" d="M387.1 84.6h0"/>
<path stroke="#1400f8" d="M413.6 84.3h0"/>
<path stroke="#5afd88" d="M521.2 167.6h0"/>
<path stroke="#5ad2a7" d="M484.5 209.7h0"/>
<path stroke="#2528fc" d="M470.9 44.6h0"/>
<path stroke="#5aff84" d="M511.8 127.5h0"/>
<path stroke="#2119fd" d="M531.4 53.7h0"/>
<path stroke="#1400f8" d="M532.5 40.0h0"/>
<path stroke="#5afd88" d="M501.5 210.7h0"/>
<path stroke="#1400f8" d="M554.0 47.8h0"/>
<path stroke="#438cc5" d="M447.0 126.2h0"/>
<path stroke="#2b3ff6" d="M427.7 206.4h0"/>
<path stroke="#59fb8a" d="M513.4 80.2h0"/>
<path stroke="#5aff84" d="M502.7 136.6h0"/>
<path stroke="#1400f8" d="M502.1 47.7h0M545.0 43.1h0"/>
<path stroke="#4fbab2" d="M510.7 80.3h0"/>
<path stroke="#59fb8a" d="M420.0 52.1h0"/>
<path stroke="#5aff84" d="M529.3 121.7h0"/>
<path stroke="#1400f8" d="M560.0 45.8h0M547.4 47.8h0"/>
<path stroke="#438cc5" d="M470.2 210.9h0"/>
<path stroke="#49abb9" d="M542.2 87.3h0"/>
<path stroke="#438cc5" d="M450.5 133.8h0"/>
<path stroke="#355ee6" d="M455.1 169.1h0"/>
<path stroke="#1400f8" d="M475.1 164.7h0"/>
<path stroke="#438cc5" d="M454.4 115.6h0"/>
<path stroke="#2b3ff6" d="M489.3 49.0h0"/>
<path stroke="#1400f8" d="M431.8 80.4h0"/>
<path stroke="#438cc5" d="M465.0 192.8h0"/>
<path stroke="#1400f8" d="M414.6 84.6h0"/>
<path stroke="#59fb8a" d="M498.0 78.9h0"/>
<path stroke="#2119fd" d="M507.8 38.4h0"/>
<path stroke="#438cc5" d="M465.8 124.6h0"/>
<path stroke="#2d47f2" d="M453.9 43.2h0"/>
<path stroke="#1400f8" d="M447.6 206.4h0"/>
<path stroke="#5aff84" d="M505.4 124.9h0"/>
<path stroke="#438cc5" d="M501.1 93.4h0"/>
<path stroke="#1400f8" d="M379.6 87.7h0"/>
<path stroke="#3256ea" d="M417.4 39.9h0"/>
<path stroke="#5aff84" d="M519.0 129.1h0"/>
<path stroke="#2d47f2" d="M439.0 40.3h0"/>
<path stroke="#438cc5" d="M413.0 52.2h0"/>
<path stroke="#2320fc" d="M452.5 47.5h0"/>
<path stroke="#5ad2a7" d="M485.5 204.9h0"/>
<path stroke="#5aff84" d="M496.5 121.5h0"/>
<path stroke="#1400f8" d="M520.7 50.6h0"/>
<path stroke="#438cc5" d="M475.9 126.0h0M434.2 204.7h0M504.1 78.9h0"/>
<path stroke="#3e7dd2" d="M441.5 37.0h0M442.5 92.4h0"/>
<path stroke="#4eb7b4" d="M499.8 166.3h0"/>
<path stroke="#3e7dd2" d="M472.7 86.1h0"/>
<path stroke="#2b3ff6" d="M481.2 47.4h0"/>
<path stroke="#1400f8" d="M372.3 86.3h0"/>
<path stroke="#5aff84" d="M532.3 127.5h0"/>
<path stroke="#438cc5" d="M386.2 126.1h0"/>
<path stroke="#2119fd" d="M535.4 50.7h0"/>
<path stroke="#3256ea" d="M377.2 43.3h0"/>
<path stroke="#5aff84" d="M521.9 128.9h0"/>
<path stroke="#262ffb" d="M417.9 55.1h0"/>
<path stroke="#2119fd" d="M504.6 44.7h0"/>
<path stroke="#262ffb" d="M401.7 42.9h0"/>
<path stroke="#438cc5" d="M455.9 213.9h0"/>
<path stroke="#5afd88" d="M523.9 207.9h0"/>
<path stroke="#438cc5" d="M418.8 126.4h0"/>
<path stroke="#2b3ff6" d="M489.2 43.3h0"/>
<path stroke="#3256ea" d="M398.1 39.9h0"/>
<path stroke="#4498c0" d="M522.4 93.5h0M546.1 86.0h0"/>
<path stroke="#2d47f2" d="M439.4 54.9h0"/>
<path stroke="#355ee6" d="M430.0 163.4h0"/>
<path stroke="#59fb8a" d="M482.9 93.5h0"/>
<path stroke="#1400f8" d="M461.2 155.7h0M408.3 84.7h0"/>
<path stroke="#4fbab2" d="M406.6 49.1h0"/>
<path stroke="#5aff84" d="M511.8 136.8h0"/>
<path stroke="#5ad2a7" d="M461.7 217.1h0"/>
<path stroke="#2b3ff6" d="M508.8 42.9h0"/>
<path stroke="#438cc5" d="M443.4 210.7h0"/>
<path stroke="#59fb8a" d="M508.0 83.0h0"/>
<path stroke="#1400f8" d="M446.6 168.0h0"/>
<path stroke="#438cc5" d="M437.9 203.3h0"/>
<path stroke="#3e7dd2" d="M432.3 53.6h0"/>
<path stroke="#438cc5" d="M447.7 117.2h0"/>
<path stroke="#4fbab2" d="M510.9 84.4h0"/>
<path stroke="#1400f8" d="M433.4 87.4h0"/>
<path stroke="#2119fd" d="M498.7 40.3h0"/>
<path stroke="#2b3ff6" d="M490.4 47.4h0"/>
<path stroke="#355ee6" d="M452.3 164.5h0"/>
<path stroke="#3e7dd2" d="M456.5 83.1h0"/>
<path stroke="#3256ea" d="M418.3 47.8h0"/>
<path stroke="#3a6ede" d="M458.5 52.1h0"/>
<path stroke="#438cc5" d="M367.4 44.5h0"/>
<path stroke="#5aff84" d="M517.2 128.0h0"/>
<path stroke="#438cc5" d="M427.3 35.3h0"/>
<path stroke="#2b3ff6" d="M481.3 42.8h0"/>
<path stroke="#59fb8a" d="M536.5 86.1h0"/>
<path stroke="#1400f8" d="M462.8 176.9h0"/>
<path stroke="#438cc5" d="M462.7 209.3h0"/>
<path stroke="#355ee6" d="M468.1 163.2h0"/>
<path stroke="#1400f8" d="M439.3 163.6h0M440.4 87.8h0M531.9 44.4h0M451.7 163.2h0"/>
<path stroke="#2119fd" d="M508.3 32.8h0"/>
<path stroke="#438cc5" d="M443.7 123.5h0"/>
<path stroke="#1400f8" d="M452.1 209.4h0"/>
<path stroke="#438cc5" d="M384.9 41.8h0"/>
<path stroke="#1400f8" d="M386.1 127.4h0"/>
<path stroke="#5aff84" d="M540.6 126.4h0"/>
<path stroke="#4fbab2" d="M371.2 46.3h0"/>
<path stroke="#5aff84" d="M512.7 118.9h0"/>
<path stroke="#59fb8a" d="M505.1 93.4h0"/>
<path stroke="#3e7dd2" d="M490.1 90.6h0"/>
<path stroke="#4498c0" d="M528.3 86.3h0"/>
<path stroke="#3e7dd2" d="M496.1 81.3h0"/>
<path stroke="#438cc5" d="M434.1 118.8h0"/>
<path stroke="#355ee6" d="M445.6 173.7h0"/>
<path stroke="#438cc5" d="M467.5 215.3h0"/>
<path stroke="#5ad2a7" d="M481.9 210.6h0"/>
<path stroke="#3e7dd2" d="M471.3 90.4h0"/>
<path stroke="#1400f8" d="M501.9 43.2h0M439.0 75.5h0"/>
<path stroke="#59fb8a" d="M461.5 87.8h0"/>
<path stroke="#5ad2a7" d="M488.8 203.3h0"/>
<path stroke="#438cc5" d="M434.0 133.9h0"/>
<path stroke="#4fbab2" d="M417.7 38.7h0"/>
<path stroke="#1400f8" d="M425.2 130.6h0"/>
<path stroke="#3e7dd2" d="M447.5 42.8h0"/>
<path stroke="#438cc5" d="M471.9 124.9h0"/>
<path stroke="#2d47f2" d="M431.9 47.3h0"/>
<path stroke="#438cc5" d="M470.6 203.4h0"/>
<path stroke="#2119fd" d="M517.8 43.2h0"/>
<path stroke="#438cc5" d="M468.0 197.6h0"/>
<path stroke="#355ee6" d="M402.6 167.8h0"/>
<path stroke="#1400f8" d="M416.0 77.3h0"/>
<path stroke="#2d47f2" d="M434.3 51.9h0"/>
<path stroke="#1400f8" d="M456.8 212.2h0"/>
<path stroke="#438cc5" d="M464.9 200.5h0M428.4 120.4h0M498.8 80.1h0"/>
<path stroke="#5ad2a7" d="M496.6 212.2h0"/>
<path stroke="#2b3ff6" d="M470.4 200.1h0"/>
<path stroke="#438cc5" d="M456.0 199.1h0"/>
<path stroke="#2d47f2" d="M451.2 87.5h0"/>
<path stroke="#2528fc" d="M484.7 41.6h0"/>
<path stroke="#1400f8" d="M420.3 81.9h0"/>
<path stroke="#3e7dd2" d="M463.4 81.4h0"/>
<path stroke="#438cc5" d="M433.6 121.7h0"/>
<path stroke="#59fb8a" d="M500.1 78.4h0"/>
<path stroke="#1400f8" d="M461.9 121.9h0"/>
<path stroke="#3256ea" d="M428.1 39.8h0"/>
<path stroke="#1400f8" d="M453.3 173.9h0"/>
<path stroke="#4eb7b4" d="M548.0 166.0h0"/>
<path stroke="#5aff84" d="M512.0 114.2h0"/>
<path stroke="#4fbab2" d="M412.9 37.3h0"/>
<path stroke="#2733fa" d="M327.0 86.1h0"/>
<path stroke="#438cc5" d="M430.9 132.4h0"/>
<path stroke="#3256ea" d="M422.5 86.2h0"/>
<path stroke="#1400f8" d="M452.2 118.9h0"/>
<path stroke="#3256ea" d="M405.6 88.9h0"/>
<path stroke="#1400f8" d="M423.0 123.5h0M464.8 157.2h0"/>
<path stroke="#5afd88" d="M489.8 205.2h0"/>
<path stroke="#4fbab2" d="M435.9 47.4h0"/>
<path stroke="#5afd88" d="M512.9 206.7h0"/>
<path stroke="#1400f8" d="M459.8 121.9h0M514.5 41.7h0"/>
<path stroke="#4fbab2" d="M383.5 45.9h0"/>
<path stroke="#1400f8" d="M452.0 159.0h0"/>
<path stroke="#438cc5" d="M458.7 197.7h0"/>
<path stroke="#1400f8" d="M416.9 86.2h0"/>
<path stroke="#438cc5" d="M441.1 117.0h0"/>
<path stroke="#2b3ff6" d="M497.8 41.3h0"/>
<path stroke="#5aff84" d="M494.2 124.6h0"/>
<path stroke="#438cc5" d="M422.8 205.0h0M508.8 90.5h0"/>
<path stroke="#1400f8" d="M419.1 166.5h0"/>
<path stroke="#4fbab2" d="M490.1 80.2h0"/>
<path stroke="#5ad2a7" d="M467.5 194.7h0"/>
<path stroke="#3e7dd2" d="M449.6 47.4h0"/>
<path stroke="#5afd88" d="M548.8 206.2h0"/>
<path stroke="#2d47f2" d="M453.9 40.2h0"/>
<path stroke="#438cc5" d="M467.5 123.5h0"/>
<path stroke="#3e7dd2" d="M432.7 55.3h0"/>
<path stroke="#438cc5" d="M430.7 206.6h0"/>
<path stroke="#2d47f2" d="M483.4 90.7h0"/>
<path stroke="#1400f8" d="M392.4 90.6h0M449.7 155.8h0"/>
<path stroke="#4498c0" d="M566.4 84.4h0"/>
<path stroke="#1400f8" d="M462.8 124.7h0"/>
<path stroke="#4fbab2" d="M417.9 41.5h0"/>
<path stroke="#5aff84" d="M519.7 121.8h0"/>
<path stroke="#5ad2a7" d="M463.5 195.7h0"/>
<path stroke="#59fb8a" d="M507.8 79.8h0"/>
<path stroke="#4fbab2" d="M478.2 84.8h0"/>
<path stroke="#2b3ff6" d="M554.3 44.8h0"/>
<path stroke="#1400f8" d="M394.6 127.5h0M551.7 47.8h0M454.4 79.8h0"/>
<path stroke="#2b3ff6" d="M446.5 212.6h0"/>
<path stroke="#438cc5" d="M438.4 135.0h0"/>
<path stroke="#5ad2a7" d="M497.2 200.4h0"/>
<path stroke="#4498c0" d="M526.1 90.3h0"/>
<path stroke="#438cc5" d="M509.2 89.3h0"/>
<path stroke="#4498c0" d="M547.0 85.9h0"/>
<path stroke="#2119fd" d="M516.4 47.4h0"/>
<path stroke="#5aff84" d="M510.7 120.1h0"/>
<path stroke="#3256ea" d="M375.6 46.0h0"/>
<path stroke="#2b3ff6" d="M491.4 41.8h0"/>
<path stroke="#438cc5" d="M454.5 120.0h0"/>
<path stroke="#3256ea" d="M407.4 85.9h0"/>
<path stroke="#59fb8a" d="M510.7 75.9h0"/>
<path stroke="#2d47f2" d="M450.4 49.3h0"/>
<path stroke="#2119fd" d="M506.7 50.6h0"/>
<path stroke="#59fb8a" d="M501.7 84.4h0"/>
<path stroke="#2d47f2" d="M452.3 52.2h0"/>
<path stroke="#355ee6" d="M421.7 165.1h0M473.1 170.5h0"/>
<path stroke="#3256ea" d="M417.6 53.3h0"/>
<path stroke="#438cc5" d="M424.3 124.4h0"/>
<path stroke="#2320fc" d="M430.9 50.7h0"/>
<path stroke="#5ad2a7" d="M473.7 204.7h0"/>
<path stroke="#438cc5" d="M497.7 90.5h0"/>
<path stroke="#1400f8" d="M545.5 46.3h0"/>
<path stroke="#438cc5" d="M512.1 77.1h0"/>
<path stroke="#3256ea" d="M436.2 84.9h0"/>
<path stroke="#5ad2a7" d="M487.4 200.6h0"/>
<path stroke="#5aff84" d="M505.2 128.0h0"/>
<path stroke="#3256ea" d="M370.7 84.7h0"/>
<path stroke="#1400f8" d="M473.4 211.0h0"/>
<path stroke="#5ad2a7" d="M487.5 205.2h0"/>
<path stroke="#1400f8" d="M416.4 129.5h0"/>
<path stroke="#59fb8a" d="M508.0 99.9h0"/>
<path stroke="#5ad2a7" d="M504.5 209.6h0"/>
<path stroke="#2d47f2" d="M485.1 81.4h0"/>
<path stroke="#5aff84" d="M495.2 123.0h0"/>
<path stroke="#1400f8" d="M497.1 50.8h0"/>
<path stroke="#4eb7b4" d="M523.9 166.6h0"/>
<path stroke="#2b3ff6" d="M422.4 206.3h0"/>
<path stroke="#355ee6" d="M434.7 167.8h0"/>
<path stroke="#5afd88" d="M508.5 172.4h0"/>
<path stroke="#4498c0" d="M546.3 87.5h0"/>
<path stroke="#4eb7b4" d="M510.5 170.9h0"/>
<path stroke="#438cc5" d="M506.6 77.1h0M467.1 132.3h0"/>
<path stroke="#1400f8" d="M426.4 208.0h0"/>
<path stroke="#2119fd" d="M499.7 44.8h0"/>
<path stroke="#3e7dd2" d="M446.2 44.5h0"/>
<path stroke="#355ee6" d="M454.9 154.4h0"/>
<path stroke="#4eb7b4" d="M522.9 166.3h0"/>
<path stroke="#355ee6" d="M432.1 162.1h0"/>
<path stroke="#1400f8" d="M509.6 44.7h0"/>
<path stroke="#5afd88" d="M518.1 205.0h0"/>
<path stroke="#59fb8a" d="M488.2 83.2h0"/>
<path stroke="#1400f8" d="M514.3 57.8h0M389.5 83.1h0"/>
<path stroke="#49abb9" d="M550.9 87.7h0"/>
<path stroke="#1400f8" d="M467.4 169.5h0"/>
<path stroke="#2b3ff6" d="M557.8 47.8h0"/>
<path stroke="#438cc5" d="M428.7 126.2h0"/>
<path stroke="#3a6ede" d="M465.4 42.9h0"/>
<path stroke="#4eb7b4" d="M487.7 165.1h0"/>
<path stroke="#1400f8" d="M549.3 47.7h0"/>
<path stroke="#59fb8a" d="M498.6 89.1h0"/>
<path stroke="#438cc5" d="M418.3 206.3h0M386.5 47.6h0"/>
<path stroke="#1400f8" d="M376.6 86.2h0"/>
<path stroke="#2b3ff6" d="M503.1 53.3h0"/>
<path stroke="#1400f8" d="M436.8 207.9h0M363.4 87.3h0"/>
<path stroke="#5ad2a7" d="M489.3 209.3h0"/>
<path stroke="#2b3ff6" d="M483.2 44.3h0"/>
<path stroke="#4498c0" d="M534.0 90.3h0"/>
<path stroke="#5aff84" d="M534.6 124.5h0"/>
<path stroke="#2d47f2" d="M501.0 78.8h0"/>
<path stroke="#4498c0" d="M536.6 87.3h0"/>
<path stroke="#438cc5" d="M456.8 204.8h0"/>
<path stroke="#4fbab2" d="M514.7 78.7h0"/>
<path stroke="#1400f8" d="M412.7 207.9h0"/>
<path stroke="#5aff84" d="M557.7 126.2h0M497.8 120.4h0"/>
<path stroke="#1400f8" d="M448.1 210.6h0"/>
<path stroke="#355ee6" d="M453.5 175.3h0"/>
<path stroke="#2d47f2" d="M446.0 56.8h0"/>
<path stroke="#1400f8" d="M428.3 80.0h0"/>
<path stroke="#438cc5" d="M457.1 126.4h0"/>
<path stroke="#1400f8" d="M501.0 37.3h0M467.8 162.1h0M388.3 125.9h0"/>
<path stroke="#5aff84" d="M510.5 131.0h0"/>
<path stroke="#4fbab2" d="M492.5 78.7h0"/>
<path stroke="#1400f8" d="M471.1 217.1h0"/>
<path stroke="#2119fd" d="M509.7 38.7h0"/>
<path stroke="#4eb7b4" d="M519.1 163.2h0"/>
<path stroke="#2d47f2" d="M463.0 43.1h0"/>
<path stroke="#1400f8" d="M460.6 129.2h0"/>
<path stroke="#4498c0" d="M527.3 79.9h0"/>
<path stroke="#5ad2a7" d="M487.2 210.7h0"/>
<path stroke="#5aff84" d="M527.0 126.4h0"/>
<path stroke="#5ad2a7" d="M472.1 212.1h0"/>
<path stroke="#438cc5" d="M444.9 114.3h0"/>
<path stroke="#2d47f2" d="M452.4 40.0h0"/>
<path stroke="#438cc5" d="M459.2 202.2h0"/>
<path stroke="#2d47f2" d="M451.6 92.1h0"/>
<path stroke="#3256ea" d="M428.7 95.0h0"/>
<path stroke="#49abb9" d="M521.8 90.7h0"/>
<path stroke="#438cc5" d="M438.9 124.4h0"/>
<path stroke="#3256ea" d="M438.8 81.4h0"/>
<path stroke="#438cc5" d="M506.6 84.8h0"/>
<path stroke="#5afd88" d="M527.8 164.5h0"/>
<path stroke="#1400f8" d="M600.2 46.0h0"/>
<path stroke="#438cc5" d="M444.5 209.1h0M420.6 129.1h0"/>
<path stroke="#2119fd" d="M514.9 47.7h0"/>
<path stroke="#438cc5" d="M446.5 130.6h0"/>
<path stroke="#3256ea" d="M409.3 42.8h0"/>
<path stroke="#2b3ff6" d="M489.9 46.0h0"/>
<path stroke="#355ee6" d="M452.2 168.1h0"/>
<path stroke="#4498c0" d="M531.1 89.2h0"/>
<path stroke="#438cc5" d="M427.0 56.4h0"/>
<path stroke="#5ad2a7" d="M489.7 215.4h0"/>
<path stroke="#5afd88" d="M523.9 161.7h0"/>
<path stroke="#438cc5" d="M372.5 42.8h0M435.7 121.6h0"/>
<path stroke="#1400f8" d="M469.0 163.6h0"/>
<path stroke="#2119fd" d="M541.6 41.8h0"/>
<path stroke="#438cc5" d="M446.9 118.8h0"/>
<path stroke="#5ad2a7" d="M515.3 207.8h0"/>
<path stroke="#3256ea" d="M429.0 38.5h0M396.5 45.8h0"/>
<path stroke="#1400f8" d="M462.7 166.6h0"/>
<path stroke="#438cc5" d="M468.1 201.9h0"/>
<path stroke="#1400f8" d="M462.1 164.7h0"/>
<path stroke="#2b3ff6" d="M501.9 44.5h0"/>
<path stroke="#3256ea" d="M417.2 58.1h0M408.4 44.7h0"/>
<path stroke="#4498c0" d="M541.3 81.9h0"/>
<path stroke="#4fbab2" d="M508.7 84.4h0"/>
<path stroke="#5ad2a7" d="M491.4 203.3h0"/>
<path stroke="#438cc5" d="M476.9 207.6h0"/>
<path stroke="#1400f8" d="M373.2 87.6h0"/>
<path stroke="#59fb8a" d="M499.3 82.8h0"/>
<path stroke="#2d47f2" d="M499.2 84.9h0"/>
<path stroke="#3256ea" d="M417.1 47.6h0"/>
<path stroke="#2119fd" d="M515.3 34.1h0"/>
<path stroke="#4fbab2" d="M376.7 46.0h0"/>
<path stroke="#438cc5" d="M470.1 124.8h0"/>
<path stroke="#2d47f2" d="M466.4 47.6h0"/>
<path stroke="#1400f8" d="M452.4 204.8h0M538.5 47.4h0"/>
<path stroke="#355ee6" d="M459.7 163.3h0"/>
<path stroke="#5afd88" d="M512.8 203.2h0"/>
<path stroke="#1400f8" d="M502.3 37.3h0M441.4 164.8h0"/>
<path stroke="#4fbab2" d="M427.4 48.9h0"/>
<path stroke="#2d47f2" d="M469.4 46.3h0"/>
<path stroke="#1400f8" d="M363.3 86.2h0M453.2 178.5h0"/>
<path stroke="#4498c0" d="M540.6 86.3h0"/>
<path stroke="#59fb8a" d="M498.0 76.8h0"/>
<path stroke="#2528fc" d="M486.2 47.8h0"/>
<path stroke="#3e7dd2" d="M456.6 89.1h0"/>
<path stroke="#3256ea" d="M426.5 77.0h0"/>
<path stroke="#59fb8a" d="M369.1 48.9h0"/>
<path stroke="#438cc5" d="M472.0 126.4h0"/>
<path stroke="#5aff84" d="M521.6 120.3h0"/>
<path stroke="#1400f8" d="M456.6 200.6h0"/>
<path stroke="#438cc5" d="M432.2 123.0h0M454.5 118.7h0"/>
<path stroke="#1400f8" d="M512.4 41.3h0"/>
<path stroke="#4498c0" d="M520.7 81.7h0"/>
<path stroke="#355ee6" d="M459.6 157.1h0"/>
<path stroke="#438cc5" d="M445.7 127.7h0"/>
<path stroke="#5afd88" d="M497.9 204.8h0"/>
<path stroke="#59fb8a" d="M419.0 44.6h0"/>
<path stroke="#3a6ede" d="M460.0 46.1h0"/>
<path stroke="#5ad2a7" d="M484.7 212.7h0"/>
<path stroke="#59fb8a" d="M508.6 78.3h0"/>
<path stroke="#355ee6" d="M446.8 160.4h0"/>
<path stroke="#438cc5" d="M434.9 130.9h0"/>
<path stroke="#2b3ff6" d="M502.0 49.1h0"/>
<path stroke="#59fb8a" d="M532.5 81.6h0"/>
<path stroke="#4fbab2" d="M432.4 56.6h0"/>
<path stroke="#355ee6" d="M438.4 170.8h0"/>
<path stroke="#2d47f2" d="M468.3 41.7h0"/>
<path stroke="#4fbab2" d="M479.9 88.8h0"/>
<path stroke="#262ffb" d="M424.5 38.7h0"/>
<path stroke="#3256ea" d="M402.7 84.5h0"/>
<path stroke="#5afd88" d="M507.3 206.3h0"/>
<path stroke="#59fb8a" d="M415.4 53.3h0"/>
<path stroke="#3e7dd2" d="M484.2 78.8h0"/>
<path stroke="#1400f8" d="M508.9 52.3h0M442.0 173.7h0"/>
<path stroke="#2d47f2" d="M468.4 47.5h0"/>
<path stroke="#355ee6" d="M467.9 168.1h0"/>
<path stroke="#5ad2a7" d="M482.9 201.7h0"/>
<path stroke="#59fb8a" d="M558.7 86.4h0"/>
<path stroke="#1400f8" d="M459.3 213.6h0"/>
<path stroke="#4eb7b4" d="M514.2 167.7h0"/>
<path stroke="#3256ea" d="M425.9 86.1h0"/>
<path stroke="#4fbab2" d="M483.1 79.9h0"/>
<path stroke="#59fb8a" d="M426.8 48.8h0"/>
<path stroke="#1400f8" d="M463.4 172.6h0M385.8 81.4h0M518.8 50.7h0"/>
<path stroke="#3256ea" d="M416.3 95.0h0"/>
<path stroke="#1400f8" d="M430.7 88.8h0M465.4 163.1h0"/>
<path stroke="#4498c0" d="M530.9 84.7h0"/>
<path stroke="#1400f8" d="M397.9 89.1h0M415.8 123.4h0"/>
<path stroke="#438cc5" d="M477.1 214.1h0M509.8 75.5h0"/>
<path stroke="#1400f8" d="M430.0 169.4h0"/>
<path stroke="#59fb8a" d="M484.4 82.9h0"/>
<path stroke="#5aff84" d="M521.9 124.7h0"/>
<path stroke="#262ffb" d="M405.0 41.3h0"/>
<path stroke="#59fb8a" d="M489.8 95.2h0"/>
<path stroke="#5aff84" d="M528.3 126.0h0M519.5 130.5h0"/>
<path stroke="#3256ea" d="M411.5 39.9h0"/>
<path stroke="#2d47f2" d="M434.5 33.8h0"/>
<path stroke="#1400f8" d="M424.7 163.4h0"/>
<path stroke="#2d47f2" d="M443.5 38.8h0"/>
<path stroke="#355ee6" d="M466.0 164.8h0"/>
<path stroke="#438cc5" d="M419.8 36.9h0M463.4 127.9h0"/>
<path stroke="#4eb7b4" d="M537.8 166.0h0"/>
<path stroke="#3256ea" d="M429.2 93.7h0"/>
<path stroke="#2d47f2" d="M431.1 46.2h0"/>
<path stroke="#3e7dd2" d="M472.0 82.9h0"/>
<path stroke="#4fbab2" d="M427.5 43.1h0"/>
<path stroke="#3e7dd2" d="M432.2 34.1h0"/>
<path stroke="#2119fd" d="M515.8 56.6h0"/>
<path stroke="#3e7dd2" d="M446.1 41.8h0"/>
<path stroke="#4498c0" d="M547.3 84.4h0"/>
<path stroke="#3e7dd2" d="M441.1 93.6h0"/>
<path stroke="#2b3ff6" d="M518.9 47.8h0"/>
<path stroke="#1400f8" d="M463.0 132.4h0"/>
<path stroke="#5ad2a7" d="M496.6 208.1h0"/>
<path stroke="#3256ea" d="M376.5 84.7h0"/>
<path stroke="#5aff84" d="M498.4 126.4h0"/>
<path stroke="#2b3ff6" d="M472.9 49.3h0"/>
<path stroke="#1400f8" d="M507.1 47.7h0M495.2 50.5h0"/>
<path stroke="#3e7dd2" d="M459.3 81.3h0"/>
<path stroke="#438cc5" d="M439.9 120.5h0"/>
<path stroke="#1400f8" d="M460.8 133.9h0"/>
<path stroke="#5aff84" d="M501.3 122.0h0"/>
<path stroke="#1400f8" d="M397.6 83.2h0"/>
<path stroke="#5aff84" d="M522.9 121.8h0"/>
<path stroke="#438cc5" d="M412.7 56.4h0"/>
<path stroke="#3e7dd2" d="M472.9 84.7h0"/>
<path stroke="#4fbab2" d="M478.6 81.4h0"/>
<path stroke="#1400f8" d="M445.0 167.8h0"/>
<path stroke="#3256ea" d="M410.6 52.1h0"/>
<path stroke="#1400f8" d="M469.6 162.0h0"/>
<path stroke="#5aff84" d="M513.8 120.4h0"/>
<path stroke="#3256ea" d="M378.2 83.1h0"/>
<path stroke="#3e7dd2" d="M493.4 93.7h0"/>
<path stroke="#438cc5" d="M457.9 209.2h0"/>
<path stroke="#59fb8a" d="M482.4 78.7h0"/>
<path stroke="#5aff84" d="M511.8 133.7h0"/>
<path stroke="#1400f8" d="M429.7 90.8h0"/>
<path stroke="#438cc5" d="M454.5 132.4h0"/>
<path stroke="#1400f8" d="M480.3 167.7h0"/>
<path stroke="#5aff84" d="M520.1 124.6h0"/>
<path stroke="#2b3ff6" d="M517.8 35.5h0"/>
<path stroke="#1400f8" d="M507.8 52.1h0M464.6 159.1h0"/>
<path stroke="#438cc5" d="M454.7 209.2h0"/>
<path stroke="#2b3ff6" d="M449.6 209.7h0"/>
<path stroke="#3256ea" d="M375.6 44.5h0"/>
<path stroke="#2320fc" d="M431.7 41.5h0"/>
<path stroke="#1400f8" d="M454.8 87.8h0"/>
<path stroke="#438cc5" d="M445.1 206.5h0"/>
<path stroke="#59fb8a" d="M487.4 81.9h0"/>
<path stroke="#438cc5" d="M427.6 132.3h0"/>
<path stroke="#1400f8" d="M410.5 166.1h0"/>
<path stroke="#438cc5" d="M447.9 120.4h0M505.6 87.5h0"/>
<path stroke="#5afd88" d="M504.0 162.0h0"/>
<path stroke="#438cc5" d="M402.3 41.8h0M448.0 205.1h0"/>
<path stroke="#5ad2a7" d="M489.7 197.6h0"/>
<path stroke="#5afd88" d="M541.4 206.5h0M540.9 164.6h0"/>
<path stroke="#438cc5" d="M427.6 53.3h0M460.2 213.7h0"/>
<path stroke="#1400f8" d="M464.8 209.1h0"/>
<path stroke="#438cc5" d="M448.4 207.7h0"/>
<path stroke="#2b3ff6" d="M470.8 48.9h0"/>
<path stroke="#1400f8" d="M376.8 89.0h0"/>
<path stroke="#5aff84" d="M520.8 132.4h0"/>
<path stroke="#438cc5" d="M447.0 133.9h0"/>
<path stroke="#1400f8" d="M480.9 167.8h0"/>
<path stroke="#3256ea" d="M391.7 40.0h0"/>
<path stroke="#5ad2a7" d="M487.1 198.7h0"/>
<path stroke="#1400f8" d="M505.9 56.5h0"/>
<path stroke="#3256ea" d="M426.8 50.4h0M439.2 77.2h0"/>
<path stroke="#3e7dd2" d="M475.6 82.9h0"/>
<path stroke="#4fbab2" d="M516.9 89.2h0"/>
<path stroke="#438cc5" d="M459.5 211.1h0"/>
<path stroke="#4fbab2" d="M443.6 41.5h0"/>
<path stroke="#1400f8" d="M499.5 35.5h0M478.9 209.6h0"/>
<path stroke="#3a6ede" d="M460.9 44.4h0"/>
<path stroke="#2d47f2" d="M492.5 80.1h0"/>
<path stroke="#3e7dd2" d="M470.2 81.5h0"/>
<path stroke="#438cc5" d="M450.3 128.9h0M406.5 44.7h0"/>
<path stroke="#1400f8" d="M507.1 44.7h0M401.7 89.4h0"/>
<path stroke="#4eb7b4" d="M524.8 163.3h0"/>
<path stroke="#5aff84" d="M519.4 118.6h0"/>
<path stroke="#5afd88" d="M505.3 206.3h0"/>
<path stroke="#1400f8" d="M444.5 117.4h0"/>
<path stroke="#3256ea" d="M394.8 81.8h0"/>
<path stroke="#1400f8" d="M582.5 46.0h0"/>
<path stroke="#59fb8a" d="M387.3 43.2h0"/>
<path stroke="#438cc5" d="M456.0 210.6h0"/>
<path stroke="#1400f8" d="M508.8 34.1h0"/>
<path stroke="#5afd88" d="M495.9 163.2h0M526.5 168.0h0"/>
<path stroke="#4498c0" d="M524.4 89.1h0"/>
<path stroke="#1400f8" d="M442.9 133.6h0"/>
<path stroke="#438cc5" d="M452.3 126.0h0"/>
<path stroke="#2d47f2" d="M457.7 46.3h0"/>
<path stroke="#2b3ff6" d="M457.9 203.3h0"/>
<path stroke="#3256ea" d="M409.6 49.2h0"/>
<path stroke="#5afd88" d="M513.6 205.1h0"/>
<path stroke="#49abb9" d="M520.5 78.7h0"/>
<path stroke="#59fb8a" d="M517.7 90.4h0"/>
<path stroke="#1400f8" d="M442.5 169.4h0M472.3 166.1h0"/>
<path stroke="#3256ea" d="M426.1 84.5h0"/>
<path stroke="#4eb7b4" d="M508.2 165.1h0"/>
<path stroke="#1400f8" d="M432.3 166.1h0"/>
<path stroke="#438cc5" d="M475.4 215.6h0"/>
<path stroke="#2d47f2" d="M447.1 78.5h0"/>
<path stroke="#438cc5" d="M399.7 53.5h0"/>
<path stroke="#3a6ede" d="M458.9 40.3h0"/>
<path stroke="#59fb8a" d="M434.5 44.8h0"/>
<path stroke="#2320fc" d="M447.0 52.1h0"/>
<path stroke="#438cc5" d="M446.1 201.9h0M438.6 126.3h0"/>
<path stroke="#1400f8" d="M370.5 86.3h0M468.8 164.8h0"/>
<path stroke="#4498c0" d="M558.2 85.8h0"/>
<path stroke="#59fb8a" d="M395.9 48.9h0"/>
<path stroke="#2d47f2" d="M487.7 87.6h0"/>
<path stroke="#4fbab2" d="M450.7 41.3h0"/>
<path stroke="#5aff84" d="M507.3 138.0h0"/>
<path stroke="#2d47f2" d="M477.0 93.7h0"/>
<path stroke="#2320fc" d="M433.6 44.6h0"/>
<path stroke="#5ad2a7" d="M479.9 201.9h0"/>
<path stroke="#1400f8" d="M433.0 167.7h0"/>
<path stroke="#2b3ff6" d="M419.8 206.3h0"/>
<path stroke="#1400f8" d="M511.7 58.0h0"/>
<path stroke="#2119fd" d="M512.8 50.3h0"/>
<path stroke="#1400f8" d="M384.9 124.4h0"/>
<path stroke="#3e7dd2" d="M474.6 89.3h0"/>
<path stroke="#355ee6" d="M475.7 169.1h0"/>
<path stroke="#1400f8" d="M373.8 84.7h0"/>
<path stroke="#5ad2a7" d="M499.2 200.1h0"/>
<path stroke="#438cc5" d="M421.8 57.8h0"/>
<path stroke="#59fb8a" d="M405.3 43.0h0"/>
<path stroke="#2119fd" d="M517.6 52.1h0"/>
<path stroke="#2b3ff6" d="M474.9 43.3h0"/>
<path stroke="#438cc5" d="M478.7 205.1h0"/>
<path stroke="#1400f8" d="M455.8 175.2h0"/>
<path stroke="#438cc5" d="M436.3 209.4h0"/>
<path stroke="#3a6ede" d="M454.8 46.3h0"/>
<path stroke="#1400f8" d="M432.8 86.0h0"/>
<path stroke="#2320fc" d="M439.0 48.8h0"/>
<path stroke="#2528fc" d="M472.6 46.0h0"/>
<path stroke="#2d47f2" d="M514.4 96.9h0"/>
<path stroke="#2b3ff6" d="M531.0 38.8h0"/>
<path stroke="#1400f8" d="M513.5 49.0h0"/>
<path stroke="#2119fd" d="M529.4 41.7h0"/>
<path stroke="#1400f8" d="M546.5 50.3h0"/>
<path stroke="#4498c0" d="M527.7 88.8h0"/>
<path stroke="#1400f8" d="M471.1 166.4h0"/>
<path stroke="#355ee6" d="M442.2 159.0h0"/>
<path stroke="#1400f8" d="M448.9 172.0h0"/>
<path stroke="#4eb7b4" d="M489.8 166.4h0"/>
<path stroke="#438cc5" d="M449.2 135.4h0M463.5 208.1h0"/>
<path stroke="#4498c0" d="M526.9 89.2h0"/>
<path stroke="#5afd88" d="M543.0 206.4h0"/>
<path stroke="#4eb7b4" d="M486.5 167.7h0"/>
<path stroke="#438cc5" d="M450.5 116.0h0M438.4 133.5h0"/>
<path stroke="#3256ea" d="M423.0 79.9h0"/>
<path stroke="#5afd88" d="M501.6 167.5h0"/>
<path stroke="#3256ea" d="M440.5 91.8h0"/>
<path stroke="#4fbab2" d="M446.2 53.7h0"/>
<path stroke="#438cc5" d="M459.5 118.7h0"/>
<path stroke="#1400f8" d="M440.0 132.5h0"/>
<path stroke="#3256ea" d="M384.6 86.1h0"/>
<path stroke="#438cc5" d="M437.2 119.0h0"/>
<path stroke="#4eb7b4" d="M517.1 161.8h0"/>
<path stroke="#1400f8" d="M505.3 43.3h0"/>
<path stroke="#2119fd" d="M513.9 44.6h0"/>
<path stroke="#5aff84" d="M512.0 138.3h0M514.6 134.0h0"/>
<path stroke="#438cc5" d="M439.9 126.1h0M469.2 130.6h0"/>
<path stroke="#4498c0" d="M561.7 87.7h0"/>
<path stroke="#1400f8" d="M465.0 124.6h0"/>
<path stroke="#438cc5" d="M460.2 205.2h0"/>
<path stroke="#5aff84" d="M502.1 118.8h0"/>
<path stroke="#438cc5" d="M464.5 121.6h0M507.3 72.4h0M381.7 48.8h0"/>
<path stroke="#1400f8" d="M537.7 44.8h0M452.7 157.4h0M438.4 167.9h0"/>
<path stroke="#4eb7b4" d="M554.3 166.3h0"/>
<path stroke="#1400f8" d="M459.6 160.5h0"/>
<path stroke="#2d47f2" d="M444.5 55.3h0"/>
<path stroke="#5ad2a7" d="M491.8 215.6h0"/>
<path stroke="#1400f8" d="M399.3 93.6h0"/>
<path stroke="#5aff84" d="M507.1 136.5h0"/>
<path stroke="#1400f8" d="M397.1 126.0h0M504.6 41.5h0"/>
<path stroke="#5aff84" d="M491.5 127.5h0"/>
<path stroke="#4fbab2" d="M396.9 44.7h0M386.1 48.9h0"/>
<path stroke="#355ee6" d="M430.1 164.9h0"/>
<path stroke="#59fb8a" d="M384.8 46.1h0"/>
<path stroke="#438cc5" d="M414.2 127.6h0"/>
<path stroke="#1400f8" d="M510.6 35.6h0"/>
<path stroke="#59fb8a" d="M499.4 86.1h0"/>
<path stroke="#5ad2a7" d="M494.3 207.7h0"/>
<path stroke="#4fbab2" d="M400.7 51.8h0"/>
<path stroke="#438cc5" d="M464.0 198.8h0"/>
<path stroke="#355ee6" d="M465.6 169.0h0"/>
<path stroke="#49abb9" d="M538.6 84.4h0"/>
<path stroke="#5ad2a7" d="M488.2 199.0h0"/>
<path stroke="#1400f8" d="M466.3 207.7h0M445.4 161.9h0"/>
<path stroke="#3256ea" d="M400.8 49.2h0M438.4 86.2h0"/>
<path stroke="#3e7dd2" d="M447.1 80.1h0"/>
<path stroke="#5aff84" d="M523.7 124.8h0"/>
<path stroke="#355ee6" d="M443.2 175.2h0"/>
<path stroke="#438cc5" d="M463.0 201.7h0"/>
<path stroke="#5aff84" d="M552.9 126.2h0"/>
<path stroke="#355ee6" d="M439.2 165.1h0"/>
<path stroke="#5afd88" d="M507.6 160.2h0"/>
</g>
<line x1="304.0" x2="614.5" y1="246.5" y2="246.5" stroke="#333333" stroke-width="1"/>
<g stroke="#333333" stroke-width="1"><line x1="321.92" x2="321.92" y1="246.5" y2="251.4"/><line x1="402.36" x2="402.36" y1="246.5" y2="251.4"/><line x1="482.80" x2="482.80" y1="246.5" y2="251.4"/><line x1="563.24" x2="563.24" y1="246.5" y2="251.4"/></g>
<rect x="633.8" y="6.0" width="2.9" height="240.4" fill="url(#cb)"/>
<g fill="#333333" style="will-change:transform"><text x="-1.10" y="51.60" font-size="13.60" textLength="59.87" lengthAdjust="spacingAndGlyphs" stroke="#333333" stroke-width="0.2">Perceived</text><text x="63.11" y="51.60" font-size="13.60" textLength="27.61" lengthAdjust="spacingAndGlyphs" stroke="#333333" stroke-width="0.2">peer</text><text x="95.06" y="51.60" font-size="13.60" textLength="49.76" lengthAdjust="spacingAndGlyphs" stroke="#333333" stroke-width="0.2">drinking</text><text x="149.17" y="51.60" font-size="13.60" textLength="48.02" lengthAdjust="spacingAndGlyphs" stroke="#333333" stroke-width="0.2">amount</text><text x="201.53" y="51.60" font-size="13.60" textLength="39.59" lengthAdjust="spacingAndGlyphs" stroke="#333333" stroke-width="0.2">(27.1%)</text><text x="-1.12" y="92.50" font-size="13.60" textLength="60.54" lengthAdjust="spacingAndGlyphs" stroke="#333333" stroke-width="0.2">Perceived</text><text x="63.81" y="92.50" font-size="13.60" textLength="27.92" lengthAdjust="spacingAndGlyphs" stroke="#333333" stroke-width="0.2">peer</text><text x="96.12" y="92.50" font-size="13.60" textLength="50.32" lengthAdjust="spacingAndGlyphs" stroke="#333333" stroke-width="0.2">drinking</text><text x="150.59" y="92.50" font-size="13.60" textLength="62.30" lengthAdjust="spacingAndGlyphs" stroke="#333333" stroke-width="0.2">frequency</text><text x="217.29" y="92.50" font-size="13.60" textLength="41.64" lengthAdjust="spacingAndGlyphs" stroke="#333333" stroke-width="0.2">(24.1%)</text><text x="-1.10" y="132.90" font-size="13.60" textLength="59.96" lengthAdjust="spacingAndGlyphs" stroke="#333333" stroke-width="0.2">Perceived</text><text x="63.21" y="132.90" font-size="13.60" textLength="27.65" lengthAdjust="spacingAndGlyphs" stroke="#333333" stroke-width="0.2">peer</text><text x="95.22" y="132.90" font-size="13.60" textLength="49.84" lengthAdjust="spacingAndGlyphs" stroke="#333333" stroke-width="0.2">drinking</text><text x="149.41" y="132.90" font-size="13.60" textLength="55.58" lengthAdjust="spacingAndGlyphs" stroke="#333333" stroke-width="0.2">attitudes</text><text x="209.34" y="132.90" font-size="13.60" textLength="43.24" lengthAdjust="spacingAndGlyphs" stroke="#333333" stroke-width="0.2">(19.6%)</text><text x="-1.11" y="172.30" font-size="13.60" textLength="60.00" lengthAdjust="spacingAndGlyphs" stroke="#333333" stroke-width="0.2">Perceived</text><text x="63.25" y="172.30" font-size="13.60" textLength="27.67" lengthAdjust="spacingAndGlyphs" stroke="#333333" stroke-width="0.2">peer</text><text x="95.28" y="172.30" font-size="13.60" textLength="49.87" lengthAdjust="spacingAndGlyphs" stroke="#333333" stroke-width="0.2">drinking</text><text x="149.51" y="172.30" font-size="13.60" textLength="53.09" lengthAdjust="spacingAndGlyphs" stroke="#333333" stroke-width="0.2">approval</text><text x="206.95" y="172.30" font-size="13.60" textLength="41.80" lengthAdjust="spacingAndGlyphs" stroke="#333333" stroke-width="0.2">(17.8%)</text><text x="-1.12" y="211.60" font-size="13.60" textLength="60.50" lengthAdjust="spacingAndGlyphs" stroke="#333333" stroke-width="0.2">Perceived</text><text x="63.78" y="211.60" font-size="13.60" textLength="27.90" lengthAdjust="spacingAndGlyphs" stroke="#333333" stroke-width="0.2">peer</text><text x="96.07" y="211.60" font-size="13.60" textLength="33.76" lengthAdjust="spacingAndGlyphs" stroke="#333333" stroke-width="0.2">binge</text><text x="134.22" y="211.60" font-size="13.60" textLength="50.29" lengthAdjust="spacingAndGlyphs" stroke="#333333" stroke-width="0.2">drinking</text><text x="188.90" y="211.60" font-size="13.60" textLength="56.07" lengthAdjust="spacingAndGlyphs" stroke="#333333" stroke-width="0.2">attitudes</text><text x="249.36" y="211.60" font-size="13.60" textLength="40.99" lengthAdjust="spacingAndGlyphs" stroke="#333333" stroke-width="0.2">(11.4%)</text><text x="305.13" y="265.80" font-size="14.30" textLength="33.38" lengthAdjust="spacingAndGlyphs">−0.4</text><text x="385.60" y="265.80" font-size="14.30" textLength="33.97" lengthAdjust="spacingAndGlyphs">−0.2</text><text x="471.20" y="265.80" font-size="14.30" textLength="22.82" lengthAdjust="spacingAndGlyphs">0.0</text><text x="551.38" y="265.80" font-size="14.30" textLength="23.07" lengthAdjust="spacingAndGlyphs">0.2</text><text x="304.25" y="286.60" font-size="16.80" textLength="43.91" lengthAdjust="spacingAndGlyphs" fill="#111111" stroke="#111111" stroke-width="0.3">SHAP</text><text x="353.37" y="286.60" font-size="16.80" textLength="44.86" lengthAdjust="spacingAndGlyphs" fill="#111111" stroke="#111111" stroke-width="0.3">value</text><text x="403.45" y="286.60" font-size="16.80" textLength="62.92" lengthAdjust="spacingAndGlyphs" fill="#111111" stroke="#111111" stroke-width="0.3">(impact</text><text x="471.59" y="286.60" font-size="16.80" textLength="20.46" lengthAdjust="spacingAndGlyphs" fill="#111111" stroke="#111111" stroke-width="0.3">on</text><text x="497.26" y="286.60" font-size="16.80" textLength="51.13" lengthAdjust="spacingAndGlyphs" fill="#111111" stroke="#111111" stroke-width="0.3">model</text><text x="553.61" y="286.60" font-size="16.80" textLength="60.57" lengthAdjust="spacingAndGlyphs" fill="#111111" stroke="#111111" stroke-width="0.3">output)</text><text x="640.70" y="11.40" font-size="15.00" textLength="32.24" lengthAdjust="spacingAndGlyphs" fill="#111111" stroke="#111111" stroke-width="0.3">High</text><text x="640.81" y="251.90" font-size="15.00" textLength="27.33" lengthAdjust="spacingAndGlyphs" stroke="#333333" stroke-width="0.2">Low</text><g transform="translate(683.6 176.7) rotate(-90)"><text x="-1.51" y="0" font-size="15.00" textLength="57.11" lengthAdjust="spacingAndGlyphs" fill="#111111" stroke="#111111" stroke-width="0.3">Feature</text><text x="60.40" y="0" font-size="15.00" textLength="41.28" lengthAdjust="spacingAndGlyphs" fill="#111111" stroke="#111111" stroke-width="0.3">value</text></g></g>
</svg>
</body></html>
